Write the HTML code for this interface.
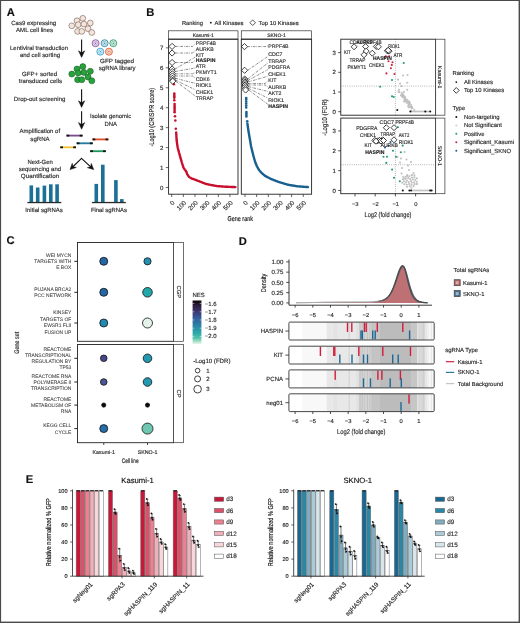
<!DOCTYPE html>
<html><head><meta charset="utf-8"><style>
html,body{margin:0;padding:0;background:#fff;}
svg{display:block;font-family:"Liberation Sans", sans-serif;text-rendering:geometricPrecision;will-change:transform;}
</style></head><body>
<svg width="520" height="623" viewBox="0 0 520 623">
<rect x="0.00" y="0.00" width="520.00" height="623.00" fill="#fff" stroke="none" stroke-width="0.6"/>
<text x="6.80" y="15.95" font-size="11.2" font-weight="bold" fill="#111" stroke="#111" stroke-width="0.15">A</text>
<text x="33.70" y="24.66" font-size="6" text-anchor="middle" textLength="45" lengthAdjust="spacingAndGlyphs" fill="#2a2a2a" stroke="#2a2a2a" stroke-width="0.15">Cas9 expressing</text>
<text x="34.60" y="32.06" font-size="6" text-anchor="middle" textLength="37" lengthAdjust="spacingAndGlyphs" fill="#2a2a2a" stroke="#2a2a2a" stroke-width="0.15">AML cell lines</text>
<text x="39.00" y="49.66" font-size="6" text-anchor="middle" textLength="58" lengthAdjust="spacingAndGlyphs" fill="#2a2a2a" stroke="#2a2a2a" stroke-width="0.15">Lentiviral transduction</text>
<text x="40.00" y="57.06" font-size="6" text-anchor="middle" textLength="40" lengthAdjust="spacingAndGlyphs" fill="#2a2a2a" stroke="#2a2a2a" stroke-width="0.15">and cell sorting</text>
<text x="117.00" y="62.76" font-size="6" text-anchor="middle" textLength="34" lengthAdjust="spacingAndGlyphs" fill="#2a2a2a" stroke="#2a2a2a" stroke-width="0.15">GFP tagged</text>
<text x="117.20" y="70.06" font-size="6" text-anchor="middle" textLength="36.7" lengthAdjust="spacingAndGlyphs" fill="#2a2a2a" stroke="#2a2a2a" stroke-width="0.15">sgRNA library</text>
<text x="39.60" y="75.86" font-size="6" text-anchor="middle" textLength="35" lengthAdjust="spacingAndGlyphs" fill="#2a2a2a" stroke="#2a2a2a" stroke-width="0.15">GFP+ sorted</text>
<text x="40.40" y="83.06" font-size="6" text-anchor="middle" textLength="43.2" lengthAdjust="spacingAndGlyphs" fill="#2a2a2a" stroke="#2a2a2a" stroke-width="0.15">transduced cells</text>
<text x="39.60" y="101.06" font-size="6" text-anchor="middle" textLength="51.7" lengthAdjust="spacingAndGlyphs" fill="#2a2a2a" stroke="#2a2a2a" stroke-width="0.15">Drop-out screening</text>
<text x="110.60" y="118.26" font-size="6" text-anchor="middle" textLength="41.2" lengthAdjust="spacingAndGlyphs" fill="#2a2a2a" stroke="#2a2a2a" stroke-width="0.15">Isolate genomic</text>
<text x="110.80" y="125.76" font-size="6" text-anchor="middle" textLength="12.5" lengthAdjust="spacingAndGlyphs" fill="#2a2a2a" stroke="#2a2a2a" stroke-width="0.15">DNA</text>
<text x="39.80" y="133.26" font-size="6" text-anchor="middle" textLength="40.5" lengthAdjust="spacingAndGlyphs" fill="#2a2a2a" stroke="#2a2a2a" stroke-width="0.15">Amplification of</text>
<text x="40.00" y="140.66" font-size="6" text-anchor="middle" textLength="19.3" lengthAdjust="spacingAndGlyphs" fill="#2a2a2a" stroke="#2a2a2a" stroke-width="0.15">sgRNA</text>
<text x="40.10" y="163.56" font-size="6" text-anchor="middle" textLength="25.4" lengthAdjust="spacingAndGlyphs" fill="#2a2a2a" stroke="#2a2a2a" stroke-width="0.15">Next-Gen</text>
<text x="39.90" y="170.66" font-size="6" text-anchor="middle" textLength="42.4" lengthAdjust="spacingAndGlyphs" fill="#2a2a2a" stroke="#2a2a2a" stroke-width="0.15">sequencing and</text>
<text x="40.00" y="177.86" font-size="6" text-anchor="middle" textLength="38.3" lengthAdjust="spacingAndGlyphs" fill="#2a2a2a" stroke="#2a2a2a" stroke-width="0.15">Quantification</text>
<text x="44.10" y="211.86" font-size="6" text-anchor="middle" textLength="37.5" lengthAdjust="spacingAndGlyphs" fill="#2a2a2a" stroke="#2a2a2a" stroke-width="0.15">Initial sgRNAs</text>
<text x="108.90" y="211.86" font-size="6" text-anchor="middle" textLength="36" lengthAdjust="spacingAndGlyphs" fill="#2a2a2a" stroke="#2a2a2a" stroke-width="0.15">Final sgRNAs</text>
<circle cx="82.80" cy="18.30" r="2.90" fill="#f4e4dc" stroke="#6b5346" stroke-width="0.55"/>
<circle cx="77.00" cy="20.70" r="2.90" fill="#f4e4dc" stroke="#6b5346" stroke-width="0.55"/>
<circle cx="71.80" cy="25.80" r="2.90" fill="#f4e4dc" stroke="#6b5346" stroke-width="0.55"/>
<circle cx="78.20" cy="24.70" r="2.90" fill="#f4e4dc" stroke="#6b5346" stroke-width="0.55"/>
<circle cx="83.90" cy="24.10" r="2.90" fill="#f4e4dc" stroke="#6b5346" stroke-width="0.55"/>
<circle cx="90.30" cy="23.00" r="2.90" fill="#f4e4dc" stroke="#6b5346" stroke-width="0.55"/>
<circle cx="88.00" cy="28.70" r="2.90" fill="#f4e4dc" stroke="#6b5346" stroke-width="0.55"/>
<circle cx="77.60" cy="31.40" r="2.90" fill="#f4e4dc" stroke="#6b5346" stroke-width="0.55"/>
<circle cx="81.80" cy="31.40" r="2.90" fill="#f4e4dc" stroke="#6b5346" stroke-width="0.55"/>
<circle cx="91.80" cy="32.50" r="2.90" fill="#f4e4dc" stroke="#6b5346" stroke-width="0.55"/>
<circle cx="82.80" cy="66.60" r="3.00" fill="#27a33c" stroke="#17561f" stroke-width="0.55"/>
<circle cx="77.00" cy="69.00" r="3.00" fill="#27a33c" stroke="#17561f" stroke-width="0.55"/>
<circle cx="71.80" cy="74.10" r="3.00" fill="#27a33c" stroke="#17561f" stroke-width="0.55"/>
<circle cx="78.20" cy="73.00" r="3.00" fill="#27a33c" stroke="#17561f" stroke-width="0.55"/>
<circle cx="83.90" cy="72.40" r="3.00" fill="#27a33c" stroke="#17561f" stroke-width="0.55"/>
<circle cx="90.30" cy="71.30" r="3.00" fill="#27a33c" stroke="#17561f" stroke-width="0.55"/>
<circle cx="88.00" cy="77.00" r="3.00" fill="#27a33c" stroke="#17561f" stroke-width="0.55"/>
<circle cx="77.60" cy="79.70" r="3.00" fill="#27a33c" stroke="#17561f" stroke-width="0.55"/>
<circle cx="81.80" cy="79.70" r="3.00" fill="#27a33c" stroke="#17561f" stroke-width="0.55"/>
<circle cx="91.80" cy="80.80" r="3.00" fill="#27a33c" stroke="#17561f" stroke-width="0.55"/>
<circle cx="95.60" cy="43.20" r="3.50" fill="#e6dcec" stroke="#8a4fa3" stroke-width="0.85"/>
<circle cx="95.60" cy="43.20" r="1.75" fill="#fff" stroke="#8a4fa3" stroke-width="0.45"/>
<circle cx="95.60" cy="43.20" r="0.80" fill="#8a4fa3" stroke="none" stroke-width="0.5"/>
<circle cx="104.60" cy="43.20" r="3.50" fill="#d8e8ef" stroke="#2d86a8" stroke-width="0.85"/>
<circle cx="104.60" cy="43.20" r="1.75" fill="#fff" stroke="#2d86a8" stroke-width="0.45"/>
<circle cx="104.60" cy="43.20" r="0.80" fill="#2d86a8" stroke="none" stroke-width="0.5"/>
<circle cx="113.30" cy="43.20" r="3.50" fill="#d8ece2" stroke="#2c9c6c" stroke-width="0.85"/>
<circle cx="113.30" cy="43.20" r="1.75" fill="#fff" stroke="#2c9c6c" stroke-width="0.45"/>
<circle cx="113.30" cy="43.20" r="0.80" fill="#2c9c6c" stroke="none" stroke-width="0.5"/>
<circle cx="100.30" cy="51.70" r="3.50" fill="#d8ecf6" stroke="#2f9fcf" stroke-width="0.85"/>
<circle cx="100.30" cy="51.70" r="1.75" fill="#fff" stroke="#2f9fcf" stroke-width="0.45"/>
<circle cx="100.30" cy="51.70" r="0.80" fill="#2f9fcf" stroke="none" stroke-width="0.5"/>
<circle cx="108.90" cy="51.70" r="3.50" fill="#f6dcd2" stroke="#e0542a" stroke-width="0.85"/>
<circle cx="108.90" cy="51.70" r="1.75" fill="#fff" stroke="#e0542a" stroke-width="0.45"/>
<circle cx="108.90" cy="51.70" r="0.80" fill="#e0542a" stroke="none" stroke-width="0.5"/>
<line x1="81.60" y1="39.50" x2="81.60" y2="54.40" stroke="#111" stroke-width="1.1"/>
<path d="M78.50,50.80 L81.60,57.40 L84.70,50.80 L81.60,52.80 Z" fill="#111" stroke="#111" stroke-width="0.5" stroke-linejoin="round"/>
<line x1="81.60" y1="89.20" x2="81.60" y2="104.40" stroke="#111" stroke-width="1.1"/>
<path d="M78.50,100.80 L81.60,107.40 L84.70,100.80 L81.60,102.80 Z" fill="#111" stroke="#111" stroke-width="0.5" stroke-linejoin="round"/>
<line x1="81.60" y1="111.30" x2="81.60" y2="126.20" stroke="#111" stroke-width="1.1"/>
<path d="M78.50,122.60 L81.60,129.20 L84.70,122.60 L81.60,124.60 Z" fill="#111" stroke="#111" stroke-width="0.5" stroke-linejoin="round"/>
<rect x="66.50" y="134.70" width="16.00" height="1.80" fill="#7b4b8c" stroke="none" stroke-width="0.6"/>
<rect x="66.50" y="134.70" width="2.80" height="1.80" fill="#111" stroke="none" stroke-width="0.6"/>
<rect x="79.70" y="134.70" width="2.80" height="1.80" fill="#111" stroke="none" stroke-width="0.6"/>
<rect x="92.50" y="138.50" width="15.80" height="1.80" fill="#e0502a" stroke="none" stroke-width="0.6"/>
<rect x="92.50" y="138.50" width="2.80" height="1.80" fill="#111" stroke="none" stroke-width="0.6"/>
<rect x="105.50" y="138.50" width="2.80" height="1.80" fill="#111" stroke="none" stroke-width="0.6"/>
<rect x="76.70" y="142.40" width="16.00" height="1.80" fill="#1f7a9c" stroke="none" stroke-width="0.6"/>
<rect x="76.70" y="142.40" width="2.80" height="1.80" fill="#111" stroke="none" stroke-width="0.6"/>
<rect x="89.90" y="142.40" width="2.80" height="1.80" fill="#111" stroke="none" stroke-width="0.6"/>
<rect x="60.20" y="146.40" width="15.80" height="1.80" fill="#f2c232" stroke="none" stroke-width="0.6"/>
<rect x="60.20" y="146.40" width="2.80" height="1.80" fill="#111" stroke="none" stroke-width="0.6"/>
<rect x="73.20" y="146.40" width="2.80" height="1.80" fill="#111" stroke="none" stroke-width="0.6"/>
<rect x="90.20" y="150.30" width="15.60" height="1.80" fill="#1a9a5c" stroke="none" stroke-width="0.6"/>
<rect x="90.20" y="150.30" width="2.80" height="1.80" fill="#111" stroke="none" stroke-width="0.6"/>
<rect x="103.00" y="150.30" width="2.80" height="1.80" fill="#111" stroke="none" stroke-width="0.6"/>
<line x1="81.50" y1="158.30" x2="72.14" y2="167.50" stroke="#111" stroke-width="1.1" stroke-linecap="round"/>
<path d="M72.25,163.33 L70.00,169.60 L76.31,167.46 L73.00,166.66 Z" fill="#111" stroke="#111" stroke-width="0.5" stroke-linejoin="round"/>
<line x1="81.50" y1="158.30" x2="91.50" y2="167.56" stroke="#111" stroke-width="1.1" stroke-linecap="round"/>
<path d="M87.33,167.65 L93.70,169.60 L91.27,163.40 L90.62,166.75 Z" fill="#111" stroke="#111" stroke-width="0.5" stroke-linejoin="round"/>
<rect x="29.50" y="185.40" width="3.60" height="17.10" fill="#1b7096" stroke="none" stroke-width="0.6"/>
<rect x="35.90" y="187.50" width="3.60" height="15.00" fill="#1b7096" stroke="none" stroke-width="0.6"/>
<rect x="42.60" y="185.60" width="3.60" height="16.90" fill="#1b7096" stroke="none" stroke-width="0.6"/>
<rect x="49.00" y="184.30" width="3.60" height="18.20" fill="#1b7096" stroke="none" stroke-width="0.6"/>
<rect x="55.30" y="184.30" width="3.60" height="18.20" fill="#1b7096" stroke="none" stroke-width="0.6"/>
<rect x="94.50" y="183.90" width="3.60" height="18.60" fill="#1b7096" stroke="none" stroke-width="0.6"/>
<rect x="101.00" y="164.70" width="3.60" height="37.80" fill="#1b7096" stroke="none" stroke-width="0.6"/>
<rect x="114.10" y="180.10" width="3.60" height="22.40" fill="#1b7096" stroke="none" stroke-width="0.6"/>
<rect x="120.00" y="199.10" width="3.60" height="3.40" fill="#1b7096" stroke="none" stroke-width="0.6"/>
<rect x="27.40" y="201.90" width="33.90" height="1.30" fill="#2a2a2a" stroke="none" stroke-width="0.6"/>
<rect x="91.90" y="201.90" width="33.90" height="1.30" fill="#2a2a2a" stroke="none" stroke-width="0.6"/>
<text x="146.30" y="16.05" font-size="11.2" font-weight="bold" fill="#111" stroke="#111" stroke-width="0.15">B</text>
<text x="181.90" y="24.70" font-size="5.8" textLength="21.1" lengthAdjust="spacingAndGlyphs" fill="#2a2a2a" stroke="#2a2a2a" stroke-width="0.15">Ranking</text>
<circle cx="210.80" cy="22.70" r="0.90" fill="#111" stroke="none" stroke-width="0.5"/>
<text x="214.60" y="24.70" font-size="5.8" textLength="28.9" lengthAdjust="spacingAndGlyphs" fill="#2a2a2a" stroke="#2a2a2a" stroke-width="0.15">All Kinases</text>
<path d="M249.90,22.70 L252.70,19.90 L255.50,22.70 L252.70,25.50 Z" fill="#fff" stroke="#111" stroke-width="0.7"/>
<text x="258.50" y="24.70" font-size="5.8" textLength="40.3" lengthAdjust="spacingAndGlyphs" fill="#2a2a2a" stroke="#2a2a2a" stroke-width="0.15">Top 10 Kinases</text>
<rect x="168.60" y="30.80" width="69.40" height="8.20" fill="#fff" stroke="#333" stroke-width="0.7"/>
<text x="203.30" y="36.72" font-size="5.0" text-anchor="middle" fill="#2a2a2a" stroke="#2a2a2a" stroke-width="0.15">Kasumi-1</text>
<path d="M175.10,46.40 L192.60,46.40 L195.20,43.60" fill="none" stroke="#2a2a2a" stroke-width="0.55" stroke-dasharray="2.6,1.0,0.7,1.0"/>
<path d="M175.10,53.00 L192.60,53.00 L195.20,50.00" fill="none" stroke="#2a2a2a" stroke-width="0.55" stroke-dasharray="2.6,1.0,0.7,1.0"/>
<line x1="175.10" y1="69.00" x2="195.20" y2="57.10" stroke="#2a2a2a" stroke-width="0.55" stroke-dasharray="2.6,1.0,0.7,1.0"/>
<path d="M175.10,62.50 L192.60,62.50 L195.20,60.40" fill="none" stroke="#2a2a2a" stroke-width="0.55" stroke-dasharray="2.6,1.0,0.7,1.0"/>
<line x1="175.20" y1="71.50" x2="195.20" y2="68.00" stroke="#2a2a2a" stroke-width="0.55" stroke-dasharray="2.6,1.0,0.7,1.0"/>
<path d="M175.30,73.80 L192.60,73.80 L195.20,72.60" fill="none" stroke="#2a2a2a" stroke-width="0.55" stroke-dasharray="2.6,1.0,0.7,1.0"/>
<path d="M175.40,76.00 L192.60,76.00 L195.20,78.20" fill="none" stroke="#2a2a2a" stroke-width="0.55" stroke-dasharray="2.6,1.0,0.7,1.0"/>
<line x1="175.50" y1="78.30" x2="195.20" y2="83.40" stroke="#2a2a2a" stroke-width="0.55" stroke-dasharray="2.6,1.0,0.7,1.0"/>
<line x1="175.60" y1="80.20" x2="195.20" y2="89.80" stroke="#2a2a2a" stroke-width="0.55" stroke-dasharray="2.6,1.0,0.7,1.0"/>
<line x1="175.70" y1="81.20" x2="195.20" y2="96.00" stroke="#2a2a2a" stroke-width="0.55" stroke-dasharray="2.6,1.0,0.7,1.0"/>
<circle cx="173.90" cy="84.30" r="1.30" fill="#c8102e" stroke="none" stroke-width="0.5"/>
<circle cx="174.30" cy="93.50" r="1.30" fill="#c8102e" stroke="none" stroke-width="0.5"/>
<circle cx="174.30" cy="95.00" r="1.30" fill="#c8102e" stroke="none" stroke-width="0.5"/>
<circle cx="174.30" cy="96.50" r="1.30" fill="#c8102e" stroke="none" stroke-width="0.5"/>
<circle cx="174.30" cy="97.80" r="1.30" fill="#c8102e" stroke="none" stroke-width="0.5"/>
<circle cx="174.30" cy="100.20" r="1.30" fill="#c8102e" stroke="none" stroke-width="0.5"/>
<circle cx="174.60" cy="104.00" r="1.30" fill="#c8102e" stroke="none" stroke-width="0.5"/>
<circle cx="174.60" cy="105.70" r="1.30" fill="#c8102e" stroke="none" stroke-width="0.5"/>
<circle cx="174.60" cy="107.40" r="1.30" fill="#c8102e" stroke="none" stroke-width="0.5"/>
<circle cx="174.60" cy="109.10" r="1.30" fill="#c8102e" stroke="none" stroke-width="0.5"/>
<circle cx="174.60" cy="110.80" r="1.30" fill="#c8102e" stroke="none" stroke-width="0.5"/>
<circle cx="174.60" cy="112.30" r="1.30" fill="#c8102e" stroke="none" stroke-width="0.5"/>
<circle cx="175.00" cy="116.30" r="1.30" fill="#c8102e" stroke="none" stroke-width="0.5"/>
<circle cx="175.30" cy="120.50" r="1.30" fill="#c8102e" stroke="none" stroke-width="0.5"/>
<circle cx="175.80" cy="128.80" r="1.30" fill="#c8102e" stroke="none" stroke-width="0.5"/>
<path d="M176.20,132.50 L176.23,133.00 L176.25,133.50 L176.28,134.00 L176.31,134.50 L176.33,135.00 L176.36,135.50 L176.39,136.00 L176.41,136.50 L176.44,137.00 L176.47,137.50 L176.49,138.00 L176.52,138.50 L176.55,139.00 L176.57,139.50 L176.60,140.00 L176.67,140.51 L176.74,141.03 L176.81,141.54 L176.89,142.06 L176.96,142.57 L177.03,143.09 L177.10,143.60 L177.17,144.11 L177.24,144.63 L177.31,145.14 L177.39,145.66 L177.46,146.17 L177.53,146.69 L177.60,147.20 L177.74,147.73 L177.88,148.26 L178.02,148.79 L178.16,149.32 L178.30,149.85 L178.44,150.38 L178.58,150.91 L178.72,151.44 L178.86,151.97 L179.00,152.50 L179.14,152.98 L179.27,153.46 L179.41,153.95 L179.55,154.43 L179.68,154.91 L179.82,155.39 L179.95,155.87 L180.09,156.35 L180.23,156.84 L180.36,157.32 L180.50,157.80 L180.65,158.32 L180.80,158.84 L180.95,159.36 L181.10,159.88 L181.25,160.40 L181.40,160.92 L181.55,161.44 L181.70,161.96 L181.85,162.48 L182.00,163.00 L182.16,163.49 L182.31,163.98 L182.47,164.47 L182.62,164.96 L182.78,165.44 L182.93,165.93 L183.09,166.42 L183.24,166.91 L183.40,167.40 L183.67,167.83 L183.93,168.27 L184.20,168.70 L184.47,169.13 L184.73,169.57 L185.00,170.00 L185.40,170.43 L185.80,170.87 L186.20,171.30 L186.37,171.78 L186.53,172.27 L186.70,172.75 L186.87,173.23 L187.03,173.72 L187.20,174.20 L187.52,174.67 L187.83,175.13 L188.15,175.60 L188.47,176.07 L188.78,176.53 L189.10,177.00 L189.58,177.27 L190.07,177.53 L190.55,177.80 L191.03,178.07 L191.52,178.33 L192.00,178.60 L192.49,178.78 L192.97,178.95 L193.46,179.12 L193.95,179.30 L194.44,179.47 L194.93,179.65 L195.41,179.82 L195.90,180.00 L196.41,180.20 L196.93,180.40 L197.44,180.60 L197.95,180.80 L198.46,181.00 L198.97,181.20 L199.49,181.40 L200.00,181.60 L200.50,181.80 L201.00,182.00 L201.50,182.20 L202.00,182.40 L202.50,182.60 L203.00,182.80 L203.50,183.00 L204.00,183.20 L204.50,183.40 L205.00,183.60 L205.50,183.80 L206.00,183.91 L206.50,184.02 L207.00,184.13 L207.50,184.24 L208.00,184.35 L208.50,184.45 L209.00,184.56 L209.50,184.67 L210.00,184.78 L210.50,184.89 L211.00,185.00 L211.50,185.09 L212.00,185.18 L212.50,185.28 L213.00,185.37 L213.50,185.46 L214.00,185.55 L214.50,185.64 L215.00,185.73 L215.50,185.82 L216.00,185.92 L216.50,186.01 L217.00,186.10 L217.50,186.14 L218.00,186.17 L218.50,186.21 L219.00,186.25 L219.50,186.29 L220.00,186.32 L220.50,186.36 L221.00,186.40 L221.50,186.44 L222.00,186.47 L222.50,186.51 L223.00,186.55 L223.50,186.59 L224.00,186.62 L224.50,186.66 L225.00,186.70 L225.52,186.72 L226.04,186.74 L226.56,186.76 L227.08,186.78 L227.60,186.80 L228.12,186.82 L228.64,186.84 L229.16,186.86 L229.68,186.88 L230.20,186.90 L230.72,186.92 L231.24,186.94 L231.76,186.96 L232.28,186.98 L232.80,187.00 L233.32,187.02 L233.84,187.04 L234.36,187.06 L234.88,187.08 L235.40,187.10" fill="none" stroke="#c8102e" stroke-width="2.4" stroke-linecap="round" stroke-linejoin="round"/>
<path d="M169.00,46.40 L172.10,43.30 L175.20,46.40 L172.10,49.50 Z" fill="#fff" stroke="#111" stroke-width="0.8"/>
<path d="M169.00,53.00 L172.10,49.90 L175.20,53.00 L172.10,56.10 Z" fill="#fff" stroke="#111" stroke-width="0.8"/>
<path d="M169.00,62.50 L172.10,59.40 L175.20,62.50 L172.10,65.60 Z" fill="#fff" stroke="#111" stroke-width="0.8"/>
<path d="M169.00,69.00 L172.10,65.90 L175.20,69.00 L172.10,72.10 Z" fill="#fff" stroke="#111" stroke-width="0.8"/>
<path d="M169.10,71.50 L172.20,68.40 L175.30,71.50 L172.20,74.60 Z" fill="#fff" stroke="#111" stroke-width="0.8"/>
<path d="M169.20,73.80 L172.30,70.70 L175.40,73.80 L172.30,76.90 Z" fill="#fff" stroke="#111" stroke-width="0.8"/>
<path d="M169.30,76.00 L172.40,72.90 L175.50,76.00 L172.40,79.10 Z" fill="#fff" stroke="#111" stroke-width="0.8"/>
<path d="M169.40,78.30 L172.50,75.20 L175.60,78.30 L172.50,81.40 Z" fill="#fff" stroke="#111" stroke-width="0.8"/>
<path d="M169.50,80.20 L172.60,77.10 L175.70,80.20 L172.60,83.30 Z" fill="#fff" stroke="#111" stroke-width="0.8"/>
<path d="M169.60,81.20 L172.70,78.10 L175.80,81.20 L172.70,84.30 Z" fill="#fff" stroke="#111" stroke-width="0.8"/>
<text x="195.80" y="44.79" font-size="5.2" fill="#333" stroke="#333" stroke-width="0.15">PRPF4B</text>
<text x="195.80" y="51.19" font-size="5.2" fill="#333" stroke="#333" stroke-width="0.15">AURKB</text>
<text x="195.80" y="56.89" font-size="5.2" fill="#333" stroke="#333" stroke-width="0.15">KIT</text>
<text x="195.80" y="61.59" font-size="5.2" font-weight="bold" fill="#222" stroke="#222" stroke-width="0.15">HASPIN</text>
<text x="195.80" y="67.79" font-size="5.2" fill="#333" stroke="#333" stroke-width="0.15">ATR</text>
<text x="195.80" y="73.79" font-size="5.2" fill="#333" stroke="#333" stroke-width="0.15">PKMYT1</text>
<text x="195.80" y="80.59" font-size="5.2" fill="#333" stroke="#333" stroke-width="0.15">CDK6</text>
<text x="195.80" y="87.19" font-size="5.2" fill="#333" stroke="#333" stroke-width="0.15">RIOK1</text>
<text x="195.80" y="93.59" font-size="5.2" fill="#333" stroke="#333" stroke-width="0.15">CHEK1</text>
<text x="195.80" y="99.79" font-size="5.2" fill="#333" stroke="#333" stroke-width="0.15">TRRAP</text>
<rect x="168.60" y="39.30" width="69.40" height="154.90" fill="none" stroke="#222" stroke-width="0.9"/>
<line x1="171.70" y1="194.20" x2="171.70" y2="197.00" stroke="#222" stroke-width="0.7"/>
<text x="0" y="2.17" font-size="6.3" text-anchor="end" fill="#2a2a2a" stroke="#2a2a2a" stroke-width="0.15" transform="translate(173.40,201.80) rotate(-45)">0</text>
<line x1="183.35" y1="194.20" x2="183.35" y2="197.00" stroke="#222" stroke-width="0.7"/>
<text x="0" y="2.17" font-size="6.3" text-anchor="end" fill="#2a2a2a" stroke="#2a2a2a" stroke-width="0.15" transform="translate(185.05,201.80) rotate(-45)">100</text>
<line x1="195.00" y1="194.20" x2="195.00" y2="197.00" stroke="#222" stroke-width="0.7"/>
<text x="0" y="2.17" font-size="6.3" text-anchor="end" fill="#2a2a2a" stroke="#2a2a2a" stroke-width="0.15" transform="translate(196.70,201.80) rotate(-45)">200</text>
<line x1="206.65" y1="194.20" x2="206.65" y2="197.00" stroke="#222" stroke-width="0.7"/>
<text x="0" y="2.17" font-size="6.3" text-anchor="end" fill="#2a2a2a" stroke="#2a2a2a" stroke-width="0.15" transform="translate(208.35,201.80) rotate(-45)">300</text>
<line x1="218.30" y1="194.20" x2="218.30" y2="197.00" stroke="#222" stroke-width="0.7"/>
<text x="0" y="2.17" font-size="6.3" text-anchor="end" fill="#2a2a2a" stroke="#2a2a2a" stroke-width="0.15" transform="translate(220.00,201.80) rotate(-45)">400</text>
<line x1="229.95" y1="194.20" x2="229.95" y2="197.00" stroke="#222" stroke-width="0.7"/>
<text x="0" y="2.17" font-size="6.3" text-anchor="end" fill="#2a2a2a" stroke="#2a2a2a" stroke-width="0.15" transform="translate(231.65,201.80) rotate(-45)">500</text>
<rect x="241.30" y="30.80" width="70.30" height="8.20" fill="#fff" stroke="#333" stroke-width="0.7"/>
<text x="276.45" y="36.72" font-size="5.0" text-anchor="middle" fill="#2a2a2a" stroke="#2a2a2a" stroke-width="0.15">SKNO-1</text>
<path d="M247.50,46.60 L265.10,46.60 L267.70,46.00" fill="none" stroke="#2a2a2a" stroke-width="0.55" stroke-dasharray="2.6,1.0,0.7,1.0"/>
<line x1="247.60" y1="70.30" x2="267.70" y2="56.60" stroke="#2a2a2a" stroke-width="0.55" stroke-dasharray="2.6,1.0,0.7,1.0"/>
<line x1="247.70" y1="79.00" x2="267.70" y2="63.10" stroke="#2a2a2a" stroke-width="0.55" stroke-dasharray="2.6,1.0,0.7,1.0"/>
<line x1="247.80" y1="80.50" x2="267.70" y2="69.70" stroke="#2a2a2a" stroke-width="0.55" stroke-dasharray="2.6,1.0,0.7,1.0"/>
<line x1="247.90" y1="82.00" x2="267.70" y2="76.30" stroke="#2a2a2a" stroke-width="0.55" stroke-dasharray="2.6,1.0,0.7,1.0"/>
<path d="M248.00,83.50 L265.10,83.50 L267.70,81.10" fill="none" stroke="#2a2a2a" stroke-width="0.55" stroke-dasharray="2.6,1.0,0.7,1.0"/>
<path d="M248.10,85.00 L265.10,85.00 L267.70,86.60" fill="none" stroke="#2a2a2a" stroke-width="0.55" stroke-dasharray="2.6,1.0,0.7,1.0"/>
<line x1="248.30" y1="86.60" x2="267.70" y2="91.40" stroke="#2a2a2a" stroke-width="0.55" stroke-dasharray="2.6,1.0,0.7,1.0"/>
<line x1="248.50" y1="88.40" x2="267.70" y2="98.00" stroke="#2a2a2a" stroke-width="0.55" stroke-dasharray="2.6,1.0,0.7,1.0"/>
<line x1="248.60" y1="90.00" x2="267.70" y2="104.20" stroke="#2a2a2a" stroke-width="0.55" stroke-dasharray="2.6,1.0,0.7,1.0"/>
<circle cx="246.20" cy="98.00" r="1.30" fill="#17608f" stroke="none" stroke-width="0.5"/>
<circle cx="246.20" cy="99.50" r="1.30" fill="#17608f" stroke="none" stroke-width="0.5"/>
<circle cx="246.20" cy="101.50" r="1.30" fill="#17608f" stroke="none" stroke-width="0.5"/>
<circle cx="246.20" cy="103.50" r="1.30" fill="#17608f" stroke="none" stroke-width="0.5"/>
<circle cx="246.20" cy="105.50" r="1.30" fill="#17608f" stroke="none" stroke-width="0.5"/>
<circle cx="246.20" cy="107.50" r="1.30" fill="#17608f" stroke="none" stroke-width="0.5"/>
<circle cx="246.40" cy="112.00" r="1.30" fill="#17608f" stroke="none" stroke-width="0.5"/>
<circle cx="246.40" cy="113.50" r="1.30" fill="#17608f" stroke="none" stroke-width="0.5"/>
<circle cx="246.40" cy="115.00" r="1.30" fill="#17608f" stroke="none" stroke-width="0.5"/>
<circle cx="246.40" cy="116.50" r="1.30" fill="#17608f" stroke="none" stroke-width="0.5"/>
<circle cx="247.20" cy="121.30" r="1.30" fill="#17608f" stroke="none" stroke-width="0.5"/>
<path d="M247.40,123.50 L247.47,124.00 L247.54,124.50 L247.61,125.00 L247.68,125.50 L247.75,126.00 L247.82,126.50 L247.88,127.00 L247.95,127.50 L248.02,128.00 L248.09,128.50 L248.16,129.00 L248.23,129.50 L248.30,130.00 L248.38,130.50 L248.47,131.00 L248.55,131.50 L248.63,132.00 L248.72,132.50 L248.80,133.00 L248.88,133.50 L248.97,134.00 L249.05,134.50 L249.13,135.00 L249.22,135.50 L249.30,136.00 L249.39,136.50 L249.48,137.00 L249.57,137.50 L249.66,138.00 L249.75,138.50 L249.84,139.00 L249.93,139.50 L250.02,140.00 L250.11,140.50 L250.20,141.00 L250.28,141.50 L250.36,142.00 L250.44,142.50 L250.52,143.00 L250.60,143.50 L250.68,144.00 L250.76,144.50 L250.84,145.00 L250.92,145.50 L251.00,146.00 L251.12,146.50 L251.24,147.00 L251.36,147.50 L251.48,148.00 L251.60,148.50 L251.72,149.00 L251.84,149.50 L251.96,150.00 L252.08,150.50 L252.20,151.00 L252.33,151.50 L252.45,152.00 L252.58,152.50 L252.71,153.00 L252.84,153.50 L252.96,154.00 L253.09,154.50 L253.22,155.00 L253.35,155.50 L253.47,156.00 L253.60,156.50 L253.74,157.00 L253.88,157.50 L254.02,158.00 L254.16,158.50 L254.30,159.00 L254.44,159.50 L254.58,160.00 L254.72,160.50 L254.86,161.00 L255.00,161.50 L255.20,162.00 L255.40,162.50 L255.60,163.00 L255.80,163.50 L256.00,164.00 L256.20,164.50 L256.40,165.00 L256.60,165.50 L256.80,166.00 L257.06,166.47 L257.32,166.95 L257.59,167.43 L257.85,167.90 L258.11,168.38 L258.38,168.85 L258.64,169.33 L258.90,169.80 L259.27,170.23 L259.64,170.66 L260.01,171.09 L260.39,171.51 L260.76,171.94 L261.13,172.37 L261.50,172.80 L261.90,173.15 L262.30,173.50 L262.70,173.85 L263.10,174.20 L263.50,174.55 L263.90,174.90 L264.30,175.25 L264.70,175.60 L265.15,175.85 L265.59,176.09 L266.04,176.34 L266.48,176.58 L266.93,176.83 L267.38,177.08 L267.82,177.32 L268.27,177.57 L268.72,177.82 L269.16,178.06 L269.61,178.31 L270.05,178.55 L270.50,178.80 L270.98,178.99 L271.46,179.18 L271.94,179.36 L272.43,179.55 L272.91,179.74 L273.39,179.93 L273.87,180.11 L274.35,180.30 L274.83,180.49 L275.31,180.68 L275.79,180.86 L276.27,181.05 L276.76,181.24 L277.24,181.43 L277.72,181.61 L278.20,181.80 L278.68,181.95 L279.16,182.09 L279.64,182.24 L280.12,182.38 L280.60,182.53 L281.08,182.67 L281.56,182.81 L282.04,182.96 L282.52,183.10 L283.00,183.25 L283.48,183.40 L283.96,183.54 L284.44,183.69 L284.92,183.83 L285.40,183.97 L285.88,184.12 L286.36,184.26 L286.84,184.41 L287.32,184.55 L287.80,184.70 L288.31,184.78 L288.81,184.87 L289.32,184.95 L289.82,185.04 L290.33,185.12 L290.83,185.21 L291.34,185.29 L291.84,185.37 L292.35,185.46 L292.85,185.54 L293.36,185.63 L293.86,185.71 L294.37,185.79 L294.87,185.88 L295.38,185.96 L295.88,186.05 L296.39,186.13 L296.89,186.22 L297.40,186.30 L297.90,186.34 L298.41,186.38 L298.91,186.41 L299.42,186.45 L299.92,186.49 L300.43,186.53 L300.93,186.57 L301.44,186.60 L301.94,186.64 L302.45,186.68 L302.95,186.72 L303.46,186.76 L303.96,186.80 L304.47,186.83 L304.97,186.87 L305.48,186.91 L305.98,186.95 L306.49,186.99 L306.99,187.02 L307.50,187.06 L308.00,187.10" fill="none" stroke="#17608f" stroke-width="2.4" stroke-linecap="round" stroke-linejoin="round"/>
<path d="M241.40,46.60 L244.50,43.50 L247.60,46.60 L244.50,49.70 Z" fill="#fff" stroke="#111" stroke-width="0.8"/>
<path d="M241.50,70.30 L244.60,67.20 L247.70,70.30 L244.60,73.40 Z" fill="#fff" stroke="#111" stroke-width="0.8"/>
<path d="M241.60,79.00 L244.70,75.90 L247.80,79.00 L244.70,82.10 Z" fill="#fff" stroke="#111" stroke-width="0.8"/>
<path d="M241.70,80.50 L244.80,77.40 L247.90,80.50 L244.80,83.60 Z" fill="#fff" stroke="#111" stroke-width="0.8"/>
<path d="M241.80,82.00 L244.90,78.90 L248.00,82.00 L244.90,85.10 Z" fill="#fff" stroke="#111" stroke-width="0.8"/>
<path d="M241.90,83.50 L245.00,80.40 L248.10,83.50 L245.00,86.60 Z" fill="#fff" stroke="#111" stroke-width="0.8"/>
<path d="M242.00,85.00 L245.10,81.90 L248.20,85.00 L245.10,88.10 Z" fill="#fff" stroke="#111" stroke-width="0.8"/>
<path d="M242.20,86.60 L245.30,83.50 L248.40,86.60 L245.30,89.70 Z" fill="#fff" stroke="#111" stroke-width="0.8"/>
<path d="M242.40,88.40 L245.50,85.30 L248.60,88.40 L245.50,91.50 Z" fill="#fff" stroke="#111" stroke-width="0.8"/>
<path d="M242.50,90.00 L245.60,86.90 L248.70,90.00 L245.60,93.10 Z" fill="#fff" stroke="#111" stroke-width="0.8"/>
<text x="268.30" y="48.39" font-size="5.2" fill="#333" stroke="#333" stroke-width="0.15">PRPF4B</text>
<text x="268.30" y="56.39" font-size="5.2" fill="#333" stroke="#333" stroke-width="0.15">CDC7</text>
<text x="268.30" y="62.89" font-size="5.2" fill="#333" stroke="#333" stroke-width="0.15">TRRAP</text>
<text x="268.30" y="69.49" font-size="5.2" fill="#333" stroke="#333" stroke-width="0.15">PDGFRA</text>
<text x="268.30" y="76.09" font-size="5.2" fill="#333" stroke="#333" stroke-width="0.15">CHEK1</text>
<text x="268.30" y="82.29" font-size="5.2" fill="#333" stroke="#333" stroke-width="0.15">KIT</text>
<text x="268.30" y="88.99" font-size="5.2" fill="#333" stroke="#333" stroke-width="0.15">AURKB</text>
<text x="268.30" y="95.19" font-size="5.2" fill="#333" stroke="#333" stroke-width="0.15">AKT2</text>
<text x="268.30" y="101.79" font-size="5.2" fill="#333" stroke="#333" stroke-width="0.15">RIOK1</text>
<text x="268.30" y="107.99" font-size="5.2" font-weight="bold" fill="#222" stroke="#222" stroke-width="0.15">HASPIN</text>
<rect x="241.30" y="39.30" width="70.30" height="154.90" fill="none" stroke="#222" stroke-width="0.9"/>
<line x1="245.00" y1="194.20" x2="245.00" y2="197.00" stroke="#222" stroke-width="0.7"/>
<text x="0" y="2.17" font-size="6.3" text-anchor="end" fill="#2a2a2a" stroke="#2a2a2a" stroke-width="0.15" transform="translate(246.70,201.80) rotate(-45)">0</text>
<line x1="256.65" y1="194.20" x2="256.65" y2="197.00" stroke="#222" stroke-width="0.7"/>
<text x="0" y="2.17" font-size="6.3" text-anchor="end" fill="#2a2a2a" stroke="#2a2a2a" stroke-width="0.15" transform="translate(258.35,201.80) rotate(-45)">100</text>
<line x1="268.30" y1="194.20" x2="268.30" y2="197.00" stroke="#222" stroke-width="0.7"/>
<text x="0" y="2.17" font-size="6.3" text-anchor="end" fill="#2a2a2a" stroke="#2a2a2a" stroke-width="0.15" transform="translate(270.00,201.80) rotate(-45)">200</text>
<line x1="279.95" y1="194.20" x2="279.95" y2="197.00" stroke="#222" stroke-width="0.7"/>
<text x="0" y="2.17" font-size="6.3" text-anchor="end" fill="#2a2a2a" stroke="#2a2a2a" stroke-width="0.15" transform="translate(281.65,201.80) rotate(-45)">300</text>
<line x1="291.60" y1="194.20" x2="291.60" y2="197.00" stroke="#222" stroke-width="0.7"/>
<text x="0" y="2.17" font-size="6.3" text-anchor="end" fill="#2a2a2a" stroke="#2a2a2a" stroke-width="0.15" transform="translate(293.30,201.80) rotate(-45)">400</text>
<line x1="303.25" y1="194.20" x2="303.25" y2="197.00" stroke="#222" stroke-width="0.7"/>
<text x="0" y="2.17" font-size="6.3" text-anchor="end" fill="#2a2a2a" stroke="#2a2a2a" stroke-width="0.15" transform="translate(304.95,201.80) rotate(-45)">500</text>
<line x1="165.80" y1="187.50" x2="168.60" y2="187.50" stroke="#222" stroke-width="0.7"/>
<text x="163.30" y="189.60" font-size="6.1" text-anchor="end" fill="#2a2a2a" stroke="#2a2a2a" stroke-width="0.15">0</text>
<line x1="165.80" y1="167.55" x2="168.60" y2="167.55" stroke="#222" stroke-width="0.7"/>
<text x="163.30" y="169.65" font-size="6.1" text-anchor="end" fill="#2a2a2a" stroke="#2a2a2a" stroke-width="0.15">1</text>
<line x1="165.80" y1="147.60" x2="168.60" y2="147.60" stroke="#222" stroke-width="0.7"/>
<text x="163.30" y="149.70" font-size="6.1" text-anchor="end" fill="#2a2a2a" stroke="#2a2a2a" stroke-width="0.15">2</text>
<line x1="165.80" y1="127.65" x2="168.60" y2="127.65" stroke="#222" stroke-width="0.7"/>
<text x="163.30" y="129.75" font-size="6.1" text-anchor="end" fill="#2a2a2a" stroke="#2a2a2a" stroke-width="0.15">3</text>
<line x1="165.80" y1="107.70" x2="168.60" y2="107.70" stroke="#222" stroke-width="0.7"/>
<text x="163.30" y="109.80" font-size="6.1" text-anchor="end" fill="#2a2a2a" stroke="#2a2a2a" stroke-width="0.15">4</text>
<line x1="165.80" y1="87.75" x2="168.60" y2="87.75" stroke="#222" stroke-width="0.7"/>
<text x="163.30" y="89.85" font-size="6.1" text-anchor="end" fill="#2a2a2a" stroke="#2a2a2a" stroke-width="0.15">5</text>
<line x1="165.80" y1="67.80" x2="168.60" y2="67.80" stroke="#222" stroke-width="0.7"/>
<text x="163.30" y="69.90" font-size="6.1" text-anchor="end" fill="#2a2a2a" stroke="#2a2a2a" stroke-width="0.15">6</text>
<line x1="165.80" y1="47.85" x2="168.60" y2="47.85" stroke="#222" stroke-width="0.7"/>
<text x="163.30" y="49.95" font-size="6.1" text-anchor="end" fill="#2a2a2a" stroke="#2a2a2a" stroke-width="0.15">7</text>
<text x="0" y="2.41" font-size="7.0" text-anchor="middle" textLength="58.6" lengthAdjust="spacingAndGlyphs" fill="#111" stroke="#111" stroke-width="0.15" transform="translate(151.90,117.20) rotate(-90)">-Log10 (CRISPR score)</text>
<text x="240.20" y="221.41" font-size="7.0" text-anchor="middle" textLength="25.5" lengthAdjust="spacingAndGlyphs" fill="#111" stroke="#111" stroke-width="0.15">Gene rank</text>
<line x1="340.80" y1="86.09" x2="435.70" y2="86.09" stroke="#555" stroke-width="0.6" stroke-dasharray="0.7,1.5"/>
<line x1="395.40" y1="39.20" x2="395.40" y2="115.20" stroke="#555" stroke-width="0.6" stroke-dasharray="0.7,1.5"/>
<line x1="338.20" y1="111.70" x2="340.80" y2="111.70" stroke="#222" stroke-width="0.8"/>
<text x="335.80" y="113.76" font-size="6.0" text-anchor="end" fill="#2a2a2a" stroke="#2a2a2a" stroke-width="0.15">0</text>
<line x1="338.20" y1="92.00" x2="340.80" y2="92.00" stroke="#222" stroke-width="0.8"/>
<text x="335.80" y="94.06" font-size="6.0" text-anchor="end" fill="#2a2a2a" stroke="#2a2a2a" stroke-width="0.15">1</text>
<line x1="338.20" y1="72.30" x2="340.80" y2="72.30" stroke="#222" stroke-width="0.8"/>
<text x="335.80" y="74.36" font-size="6.0" text-anchor="end" fill="#2a2a2a" stroke="#2a2a2a" stroke-width="0.15">2</text>
<line x1="338.20" y1="52.60" x2="340.80" y2="52.60" stroke="#222" stroke-width="0.8"/>
<text x="335.80" y="54.66" font-size="6.0" text-anchor="end" fill="#2a2a2a" stroke="#2a2a2a" stroke-width="0.15">3</text>
<circle cx="403.00" cy="75.50" r="1.05" fill="#c0c0c0" stroke="none" stroke-width="0.5"/>
<circle cx="407.50" cy="75.00" r="1.05" fill="#c0c0c0" stroke="none" stroke-width="0.5"/>
<circle cx="398.00" cy="79.60" r="1.05" fill="#c0c0c0" stroke="none" stroke-width="0.5"/>
<circle cx="407.30" cy="82.80" r="1.05" fill="#c0c0c0" stroke="none" stroke-width="0.5"/>
<circle cx="400.00" cy="83.60" r="1.05" fill="#c0c0c0" stroke="none" stroke-width="0.5"/>
<circle cx="407.30" cy="89.70" r="1.05" fill="#c0c0c0" stroke="none" stroke-width="0.5"/>
<circle cx="399.00" cy="89.70" r="1.05" fill="#c0c0c0" stroke="none" stroke-width="0.5"/>
<circle cx="401.50" cy="86.00" r="1.05" fill="#c0c0c0" stroke="none" stroke-width="0.5"/>
<circle cx="404.00" cy="92.00" r="1.05" fill="#c0c0c0" stroke="none" stroke-width="0.5"/>
<circle cx="403.13" cy="95.92" r="1.05" fill="#c0c0c0" stroke="none" stroke-width="0.5"/>
<circle cx="403.43" cy="96.90" r="1.05" fill="#c0c0c0" stroke="none" stroke-width="0.5"/>
<circle cx="409.89" cy="102.69" r="1.05" fill="#c0c0c0" stroke="none" stroke-width="0.5"/>
<circle cx="401.66" cy="92.75" r="1.05" fill="#c0c0c0" stroke="none" stroke-width="0.5"/>
<circle cx="408.40" cy="106.01" r="1.05" fill="#c0c0c0" stroke="none" stroke-width="0.5"/>
<circle cx="408.71" cy="107.18" r="1.05" fill="#c0c0c0" stroke="none" stroke-width="0.5"/>
<circle cx="410.39" cy="106.92" r="1.05" fill="#c0c0c0" stroke="none" stroke-width="0.5"/>
<circle cx="408.98" cy="101.79" r="1.05" fill="#c0c0c0" stroke="none" stroke-width="0.5"/>
<circle cx="402.63" cy="94.61" r="1.05" fill="#c0c0c0" stroke="none" stroke-width="0.5"/>
<circle cx="402.76" cy="96.47" r="1.05" fill="#c0c0c0" stroke="none" stroke-width="0.5"/>
<circle cx="402.12" cy="95.63" r="1.05" fill="#c0c0c0" stroke="none" stroke-width="0.5"/>
<circle cx="405.41" cy="98.95" r="1.05" fill="#c0c0c0" stroke="none" stroke-width="0.5"/>
<circle cx="411.52" cy="108.12" r="1.05" fill="#c0c0c0" stroke="none" stroke-width="0.5"/>
<circle cx="404.38" cy="97.21" r="1.05" fill="#c0c0c0" stroke="none" stroke-width="0.5"/>
<circle cx="401.00" cy="95.52" r="1.05" fill="#c0c0c0" stroke="none" stroke-width="0.5"/>
<circle cx="411.26" cy="105.01" r="1.05" fill="#c0c0c0" stroke="none" stroke-width="0.5"/>
<circle cx="411.85" cy="106.69" r="1.05" fill="#c0c0c0" stroke="none" stroke-width="0.5"/>
<circle cx="409.39" cy="104.39" r="1.05" fill="#c0c0c0" stroke="none" stroke-width="0.5"/>
<circle cx="407.16" cy="99.83" r="1.05" fill="#c0c0c0" stroke="none" stroke-width="0.5"/>
<circle cx="404.41" cy="96.54" r="1.05" fill="#c0c0c0" stroke="none" stroke-width="0.5"/>
<circle cx="402.52" cy="96.39" r="1.05" fill="#c0c0c0" stroke="none" stroke-width="0.5"/>
<circle cx="408.63" cy="104.41" r="1.05" fill="#c0c0c0" stroke="none" stroke-width="0.5"/>
<circle cx="407.92" cy="101.73" r="1.05" fill="#c0c0c0" stroke="none" stroke-width="0.5"/>
<circle cx="405.27" cy="97.79" r="1.05" fill="#c0c0c0" stroke="none" stroke-width="0.5"/>
<circle cx="401.36" cy="95.12" r="1.05" fill="#c0c0c0" stroke="none" stroke-width="0.5"/>
<circle cx="407.60" cy="101.92" r="1.05" fill="#c0c0c0" stroke="none" stroke-width="0.5"/>
<circle cx="408.61" cy="102.57" r="1.05" fill="#c0c0c0" stroke="none" stroke-width="0.5"/>
<circle cx="408.65" cy="101.20" r="1.05" fill="#c0c0c0" stroke="none" stroke-width="0.5"/>
<circle cx="408.66" cy="102.04" r="1.05" fill="#c0c0c0" stroke="none" stroke-width="0.5"/>
<circle cx="405.32" cy="100.95" r="1.05" fill="#c0c0c0" stroke="none" stroke-width="0.5"/>
<circle cx="411.04" cy="110.81" r="1.05" fill="#c0c0c0" stroke="none" stroke-width="0.5"/>
<circle cx="412.54" cy="108.18" r="1.05" fill="#c0c0c0" stroke="none" stroke-width="0.5"/>
<circle cx="410.99" cy="107.30" r="1.05" fill="#c0c0c0" stroke="none" stroke-width="0.5"/>
<circle cx="404.07" cy="101.58" r="1.05" fill="#c0c0c0" stroke="none" stroke-width="0.5"/>
<circle cx="406.55" cy="102.78" r="1.05" fill="#c0c0c0" stroke="none" stroke-width="0.5"/>
<circle cx="406.00" cy="100.64" r="1.05" fill="#c0c0c0" stroke="none" stroke-width="0.5"/>
<circle cx="407.74" cy="102.62" r="1.05" fill="#c0c0c0" stroke="none" stroke-width="0.5"/>
<circle cx="404.39" cy="99.72" r="1.05" fill="#c0c0c0" stroke="none" stroke-width="0.5"/>
<circle cx="402.71" cy="97.06" r="1.05" fill="#c0c0c0" stroke="none" stroke-width="0.5"/>
<circle cx="411.91" cy="108.07" r="1.05" fill="#c0c0c0" stroke="none" stroke-width="0.5"/>
<circle cx="404.75" cy="97.75" r="1.05" fill="#c0c0c0" stroke="none" stroke-width="0.5"/>
<circle cx="399.29" cy="92.15" r="1.05" fill="#c0c0c0" stroke="none" stroke-width="0.5"/>
<circle cx="409.25" cy="104.62" r="1.05" fill="#c0c0c0" stroke="none" stroke-width="0.5"/>
<circle cx="407.84" cy="102.11" r="1.05" fill="#c0c0c0" stroke="none" stroke-width="0.5"/>
<circle cx="402.26" cy="94.11" r="1.05" fill="#c0c0c0" stroke="none" stroke-width="0.5"/>
<circle cx="404.49" cy="97.24" r="1.05" fill="#c0c0c0" stroke="none" stroke-width="0.5"/>
<circle cx="404.25" cy="96.49" r="1.05" fill="#c0c0c0" stroke="none" stroke-width="0.5"/>
<circle cx="404.92" cy="98.27" r="1.05" fill="#c0c0c0" stroke="none" stroke-width="0.5"/>
<circle cx="402.99" cy="94.50" r="1.05" fill="#c0c0c0" stroke="none" stroke-width="0.5"/>
<circle cx="403.22" cy="97.47" r="1.05" fill="#c0c0c0" stroke="none" stroke-width="0.5"/>
<circle cx="398.45" cy="91.53" r="1.05" fill="#c0c0c0" stroke="none" stroke-width="0.5"/>
<circle cx="408.41" cy="106.22" r="1.05" fill="#c0c0c0" stroke="none" stroke-width="0.5"/>
<circle cx="409.33" cy="103.65" r="1.05" fill="#c0c0c0" stroke="none" stroke-width="0.5"/>
<circle cx="414.30" cy="110.12" r="1.05" fill="#c0c0c0" stroke="none" stroke-width="0.5"/>
<circle cx="403.58" cy="96.12" r="1.05" fill="#c0c0c0" stroke="none" stroke-width="0.5"/>
<circle cx="412.00" cy="111.50" r="1.05" fill="#c0c0c0" stroke="none" stroke-width="0.5"/>
<circle cx="414.00" cy="111.50" r="1.05" fill="#c0c0c0" stroke="none" stroke-width="0.5"/>
<circle cx="416.00" cy="111.50" r="1.05" fill="#c0c0c0" stroke="none" stroke-width="0.5"/>
<circle cx="418.00" cy="111.50" r="1.05" fill="#c0c0c0" stroke="none" stroke-width="0.5"/>
<circle cx="420.00" cy="111.50" r="1.05" fill="#c0c0c0" stroke="none" stroke-width="0.5"/>
<circle cx="422.00" cy="111.50" r="1.05" fill="#c0c0c0" stroke="none" stroke-width="0.5"/>
<circle cx="424.00" cy="111.50" r="1.05" fill="#c0c0c0" stroke="none" stroke-width="0.5"/>
<circle cx="426.00" cy="111.50" r="1.05" fill="#c0c0c0" stroke="none" stroke-width="0.5"/>
<circle cx="428.00" cy="111.50" r="1.05" fill="#c0c0c0" stroke="none" stroke-width="0.5"/>
<circle cx="397.30" cy="110.00" r="1.05" fill="#111" stroke="none" stroke-width="0.5"/>
<circle cx="410.40" cy="111.50" r="1.05" fill="#111" stroke="none" stroke-width="0.5"/>
<circle cx="425.30" cy="111.50" r="1.05" fill="#111" stroke="none" stroke-width="0.5"/>
<circle cx="430.20" cy="111.50" r="1.05" fill="#111" stroke="none" stroke-width="0.5"/>
<circle cx="403.70" cy="63.00" r="1.05" fill="#1f9a7c" stroke="none" stroke-width="0.5"/>
<circle cx="392.00" cy="80.00" r="1.05" fill="#1f9a7c" stroke="none" stroke-width="0.5"/>
<circle cx="380.20" cy="86.70" r="1.05" fill="#1f9a7c" stroke="none" stroke-width="0.5"/>
<circle cx="392.00" cy="96.30" r="1.05" fill="#1f9a7c" stroke="none" stroke-width="0.5"/>
<circle cx="393.70" cy="97.00" r="1.05" fill="#1f9a7c" stroke="none" stroke-width="0.5"/>
<circle cx="385.80" cy="56.20" r="1.05" fill="#d0223e" stroke="none" stroke-width="0.5"/>
<circle cx="389.10" cy="56.20" r="1.05" fill="#d0223e" stroke="none" stroke-width="0.5"/>
<circle cx="388.50" cy="61.30" r="1.05" fill="#d0223e" stroke="none" stroke-width="0.5"/>
<circle cx="392.50" cy="62.20" r="1.05" fill="#d0223e" stroke="none" stroke-width="0.5"/>
<circle cx="391.80" cy="64.90" r="1.05" fill="#d0223e" stroke="none" stroke-width="0.5"/>
<circle cx="390.90" cy="68.30" r="1.05" fill="#d0223e" stroke="none" stroke-width="0.5"/>
<circle cx="386.40" cy="73.40" r="1.05" fill="#d0223e" stroke="none" stroke-width="0.5"/>
<circle cx="394.50" cy="74.00" r="1.05" fill="#d0223e" stroke="none" stroke-width="0.5"/>
<circle cx="384.50" cy="57.50" r="1.05" fill="#d0223e" stroke="none" stroke-width="0.5"/>
<path d="M351.10,46.80 L354.10,43.80 L357.10,46.80 L354.10,49.80 Z" fill="#fff" stroke="#111" stroke-width="0.8"/>
<path d="M362.60,46.50 L365.60,43.50 L368.60,46.50 L365.60,49.50 Z" fill="#fff" stroke="#111" stroke-width="0.8"/>
<path d="M373.30,46.50 L376.30,43.50 L379.30,46.50 L376.30,49.50 Z" fill="#fff" stroke="#111" stroke-width="0.8"/>
<path d="M375.40,46.80 L378.40,43.80 L381.40,46.80 L378.40,49.80 Z" fill="#fff" stroke="#111" stroke-width="0.8"/>
<path d="M363.20,51.10 L366.20,48.10 L369.20,51.10 L366.20,54.10 Z" fill="#fff" stroke="#111" stroke-width="0.8"/>
<path d="M361.00,54.80 L364.00,51.80 L367.00,54.80 L364.00,57.80 Z" fill="#fff" stroke="#111" stroke-width="0.8"/>
<path d="M369.30,53.20 L372.30,50.20 L375.30,53.20 L372.30,56.20 Z" fill="#fff" stroke="#111" stroke-width="0.8"/>
<path d="M384.40,50.80 L387.40,47.80 L390.40,50.80 L387.40,53.80 Z" fill="#fff" stroke="#111" stroke-width="0.8"/>
<path d="M386.10,51.10 L389.10,48.10 L392.10,51.10 L389.10,54.10 Z" fill="#fff" stroke="#111" stroke-width="0.8"/>
<path d="M385.20,50.30 L388.20,47.30 L391.20,50.30 L388.20,53.30 Z" fill="#fff" stroke="#111" stroke-width="0.8"/>
<text x="349.40" y="44.06" font-size="5.4" textLength="13" lengthAdjust="spacingAndGlyphs" fill="#2a2a2a" stroke="#2a2a2a" stroke-width="0.15">CDK6</text>
<text x="356.50" y="44.06" font-size="5.4" textLength="16" lengthAdjust="spacingAndGlyphs" fill="#2a2a2a" stroke="#2a2a2a" stroke-width="0.15">AURKB</text>
<text x="363.50" y="44.06" font-size="5.4" textLength="18" lengthAdjust="spacingAndGlyphs" fill="#2a2a2a" stroke="#2a2a2a" stroke-width="0.15">PRPF4B</text>
<text x="344.00" y="53.76" font-size="5.4" textLength="6.5" lengthAdjust="spacingAndGlyphs" fill="#2a2a2a" stroke="#2a2a2a" stroke-width="0.15">KIT</text>
<text x="388.20" y="47.56" font-size="5.4" textLength="11.3" lengthAdjust="spacingAndGlyphs" fill="#2a2a2a" stroke="#2a2a2a" stroke-width="0.15">RIOK1</text>
<text x="393.50" y="56.66" font-size="5.4" textLength="9" lengthAdjust="spacingAndGlyphs" fill="#2a2a2a" stroke="#2a2a2a" stroke-width="0.15">ATR</text>
<text x="349.40" y="62.36" font-size="5.4" textLength="15.9" lengthAdjust="spacingAndGlyphs" fill="#2a2a2a" stroke="#2a2a2a" stroke-width="0.15">TRRAP</text>
<text x="347.40" y="68.86" font-size="5.4" textLength="18.8" lengthAdjust="spacingAndGlyphs" fill="#2a2a2a" stroke="#2a2a2a" stroke-width="0.15">PKMYT1</text>
<text x="369.00" y="67.16" font-size="5.4" textLength="15.4" lengthAdjust="spacingAndGlyphs" fill="#2a2a2a" stroke="#2a2a2a" stroke-width="0.15">CHEK1</text>
<text x="373.00" y="60.46" font-size="5.4" font-weight="bold" textLength="18.8" lengthAdjust="spacingAndGlyphs" fill="#222" stroke="#222" stroke-width="0.15">HASPIN</text>
<rect x="340.80" y="39.20" width="94.90" height="76.00" fill="none" stroke="#222" stroke-width="0.9"/>
<rect x="435.70" y="39.20" width="9.20" height="76.00" fill="#fff" stroke="#333" stroke-width="0.7"/>
<text x="0" y="1.86" font-size="5.4" text-anchor="middle" fill="#2a2a2a" stroke="#2a2a2a" stroke-width="0.15" transform="translate(440.20,77.20) rotate(90)">Kasumi-1</text>
<line x1="340.80" y1="164.69" x2="435.70" y2="164.69" stroke="#555" stroke-width="0.6" stroke-dasharray="0.7,1.5"/>
<line x1="395.40" y1="118.10" x2="395.40" y2="193.70" stroke="#555" stroke-width="0.6" stroke-dasharray="0.7,1.5"/>
<line x1="338.20" y1="190.50" x2="340.80" y2="190.50" stroke="#222" stroke-width="0.8"/>
<text x="335.80" y="192.56" font-size="6.0" text-anchor="end" fill="#2a2a2a" stroke="#2a2a2a" stroke-width="0.15">0</text>
<line x1="338.20" y1="170.65" x2="340.80" y2="170.65" stroke="#222" stroke-width="0.8"/>
<text x="335.80" y="172.71" font-size="6.0" text-anchor="end" fill="#2a2a2a" stroke="#2a2a2a" stroke-width="0.15">1</text>
<line x1="338.20" y1="150.80" x2="340.80" y2="150.80" stroke="#222" stroke-width="0.8"/>
<text x="335.80" y="152.86" font-size="6.0" text-anchor="end" fill="#2a2a2a" stroke="#2a2a2a" stroke-width="0.15">2</text>
<line x1="338.20" y1="130.95" x2="340.80" y2="130.95" stroke="#222" stroke-width="0.8"/>
<text x="335.80" y="133.01" font-size="6.0" text-anchor="end" fill="#2a2a2a" stroke="#2a2a2a" stroke-width="0.15">3</text>
<circle cx="397.50" cy="157.00" r="1.05" fill="#c0c0c0" stroke="none" stroke-width="0.5"/>
<circle cx="401.00" cy="158.50" r="1.05" fill="#c0c0c0" stroke="none" stroke-width="0.5"/>
<circle cx="406.50" cy="159.50" r="1.05" fill="#c0c0c0" stroke="none" stroke-width="0.5"/>
<circle cx="400.00" cy="162.50" r="1.05" fill="#c0c0c0" stroke="none" stroke-width="0.5"/>
<circle cx="408.00" cy="165.50" r="1.05" fill="#c0c0c0" stroke="none" stroke-width="0.5"/>
<circle cx="402.00" cy="168.00" r="1.05" fill="#c0c0c0" stroke="none" stroke-width="0.5"/>
<circle cx="409.00" cy="170.00" r="1.05" fill="#c0c0c0" stroke="none" stroke-width="0.5"/>
<circle cx="401.50" cy="173.50" r="1.05" fill="#c0c0c0" stroke="none" stroke-width="0.5"/>
<circle cx="412.00" cy="175.00" r="1.05" fill="#c0c0c0" stroke="none" stroke-width="0.5"/>
<circle cx="413.50" cy="173.00" r="1.05" fill="#c0c0c0" stroke="none" stroke-width="0.5"/>
<circle cx="404.00" cy="178.50" r="1.05" fill="#c0c0c0" stroke="none" stroke-width="0.5"/>
<circle cx="407.00" cy="176.00" r="1.05" fill="#c0c0c0" stroke="none" stroke-width="0.5"/>
<circle cx="416.50" cy="184.00" r="1.05" fill="#c0c0c0" stroke="none" stroke-width="0.5"/>
<circle cx="411.00" cy="162.00" r="1.05" fill="#c0c0c0" stroke="none" stroke-width="0.5"/>
<circle cx="404.50" cy="152.00" r="1.05" fill="#c0c0c0" stroke="none" stroke-width="0.5"/>
<circle cx="411.03" cy="181.00" r="1.05" fill="#c0c0c0" stroke="none" stroke-width="0.5"/>
<circle cx="408.68" cy="181.99" r="1.05" fill="#c0c0c0" stroke="none" stroke-width="0.5"/>
<circle cx="410.20" cy="179.11" r="1.05" fill="#c0c0c0" stroke="none" stroke-width="0.5"/>
<circle cx="411.66" cy="182.78" r="1.05" fill="#c0c0c0" stroke="none" stroke-width="0.5"/>
<circle cx="406.95" cy="180.56" r="1.05" fill="#c0c0c0" stroke="none" stroke-width="0.5"/>
<circle cx="412.88" cy="179.49" r="1.05" fill="#c0c0c0" stroke="none" stroke-width="0.5"/>
<circle cx="409.04" cy="183.96" r="1.05" fill="#c0c0c0" stroke="none" stroke-width="0.5"/>
<circle cx="408.16" cy="178.08" r="1.05" fill="#c0c0c0" stroke="none" stroke-width="0.5"/>
<circle cx="413.99" cy="182.20" r="1.05" fill="#c0c0c0" stroke="none" stroke-width="0.5"/>
<circle cx="405.85" cy="182.41" r="1.05" fill="#c0c0c0" stroke="none" stroke-width="0.5"/>
<circle cx="412.00" cy="177.48" r="1.05" fill="#c0c0c0" stroke="none" stroke-width="0.5"/>
<circle cx="411.48" cy="184.88" r="1.05" fill="#c0c0c0" stroke="none" stroke-width="0.5"/>
<circle cx="405.54" cy="178.87" r="1.05" fill="#c0c0c0" stroke="none" stroke-width="0.5"/>
<circle cx="415.23" cy="180.05" r="1.05" fill="#c0c0c0" stroke="none" stroke-width="0.5"/>
<circle cx="406.81" cy="184.74" r="1.05" fill="#c0c0c0" stroke="none" stroke-width="0.5"/>
<circle cx="409.26" cy="176.31" r="1.05" fill="#c0c0c0" stroke="none" stroke-width="0.5"/>
<circle cx="414.53" cy="184.14" r="1.05" fill="#c0c0c0" stroke="none" stroke-width="0.5"/>
<circle cx="403.91" cy="181.21" r="1.05" fill="#c0c0c0" stroke="none" stroke-width="0.5"/>
<circle cx="414.44" cy="177.36" r="1.05" fill="#c0c0c0" stroke="none" stroke-width="0.5"/>
<circle cx="409.70" cy="186.30" r="1.05" fill="#c0c0c0" stroke="none" stroke-width="0.5"/>
<circle cx="405.77" cy="176.83" r="1.05" fill="#c0c0c0" stroke="none" stroke-width="0.5"/>
<circle cx="416.70" cy="181.74" r="1.05" fill="#c0c0c0" stroke="none" stroke-width="0.5"/>
<circle cx="404.32" cy="184.25" r="1.05" fill="#c0c0c0" stroke="none" stroke-width="0.5"/>
<circle cx="411.55" cy="175.32" r="1.05" fill="#c0c0c0" stroke="none" stroke-width="0.5"/>
<circle cx="413.59" cy="186.16" r="1.05" fill="#c0c0c0" stroke="none" stroke-width="0.5"/>
<circle cx="402.99" cy="179.16" r="1.05" fill="#c0c0c0" stroke="none" stroke-width="0.5"/>
<circle cx="416.81" cy="178.41" r="1.05" fill="#c0c0c0" stroke="none" stroke-width="0.5"/>
<circle cx="407.05" cy="186.81" r="1.05" fill="#c0c0c0" stroke="none" stroke-width="0.5"/>
<circle cx="407.37" cy="174.97" r="1.05" fill="#c0c0c0" stroke="none" stroke-width="0.5"/>
<circle cx="417.01" cy="184.03" r="1.05" fill="#c0c0c0" stroke="none" stroke-width="0.5"/>
<circle cx="402.22" cy="182.69" r="1.05" fill="#c0c0c0" stroke="none" stroke-width="0.5"/>
<circle cx="414.42" cy="175.33" r="1.05" fill="#c0c0c0" stroke="none" stroke-width="0.5"/>
<circle cx="411.41" cy="187.74" r="1.05" fill="#c0c0c0" stroke="none" stroke-width="0.5"/>
<circle cx="403.33" cy="176.75" r="1.05" fill="#c0c0c0" stroke="none" stroke-width="0.5"/>
<circle cx="413.00" cy="190.50" r="1.05" fill="#c0c0c0" stroke="none" stroke-width="0.5"/>
<circle cx="415.00" cy="190.50" r="1.05" fill="#c0c0c0" stroke="none" stroke-width="0.5"/>
<circle cx="417.00" cy="190.50" r="1.05" fill="#c0c0c0" stroke="none" stroke-width="0.5"/>
<circle cx="419.00" cy="190.50" r="1.05" fill="#c0c0c0" stroke="none" stroke-width="0.5"/>
<circle cx="421.00" cy="190.50" r="1.05" fill="#c0c0c0" stroke="none" stroke-width="0.5"/>
<circle cx="423.00" cy="190.50" r="1.05" fill="#c0c0c0" stroke="none" stroke-width="0.5"/>
<circle cx="425.00" cy="190.50" r="1.05" fill="#c0c0c0" stroke="none" stroke-width="0.5"/>
<circle cx="427.00" cy="190.50" r="1.05" fill="#c0c0c0" stroke="none" stroke-width="0.5"/>
<circle cx="429.00" cy="190.50" r="1.05" fill="#c0c0c0" stroke="none" stroke-width="0.5"/>
<circle cx="402.80" cy="190.50" r="1.05" fill="#111" stroke="none" stroke-width="0.5"/>
<circle cx="409.40" cy="190.50" r="1.05" fill="#111" stroke="none" stroke-width="0.5"/>
<circle cx="411.10" cy="190.50" r="1.05" fill="#111" stroke="none" stroke-width="0.5"/>
<circle cx="430.20" cy="190.50" r="1.05" fill="#111" stroke="none" stroke-width="0.5"/>
<circle cx="431.60" cy="190.50" r="1.05" fill="#111" stroke="none" stroke-width="0.5"/>
<circle cx="402.70" cy="145.60" r="1.05" fill="#1f9a7c" stroke="none" stroke-width="0.5"/>
<circle cx="400.80" cy="152.30" r="1.05" fill="#1f9a7c" stroke="none" stroke-width="0.5"/>
<circle cx="393.00" cy="150.80" r="1.05" fill="#1f9a7c" stroke="none" stroke-width="0.5"/>
<circle cx="383.50" cy="156.70" r="1.05" fill="#1f9a7c" stroke="none" stroke-width="0.5"/>
<circle cx="387.00" cy="156.70" r="1.05" fill="#1f9a7c" stroke="none" stroke-width="0.5"/>
<circle cx="396.00" cy="156.70" r="1.05" fill="#1f9a7c" stroke="none" stroke-width="0.5"/>
<circle cx="386.30" cy="162.90" r="1.05" fill="#1f9a7c" stroke="none" stroke-width="0.5"/>
<circle cx="392.10" cy="169.60" r="1.05" fill="#1f9a7c" stroke="none" stroke-width="0.5"/>
<circle cx="394.00" cy="177.70" r="1.05" fill="#1f9a7c" stroke="none" stroke-width="0.5"/>
<circle cx="399.80" cy="181.20" r="1.05" fill="#1f9a7c" stroke="none" stroke-width="0.5"/>
<circle cx="397.90" cy="127.30" r="1.05" fill="#1f9a7c" stroke="none" stroke-width="0.5"/>
<circle cx="390.50" cy="142.00" r="1.05" fill="#245c92" stroke="none" stroke-width="0.5"/>
<circle cx="388.50" cy="146.00" r="1.05" fill="#245c92" stroke="none" stroke-width="0.5"/>
<circle cx="385.00" cy="147.50" r="1.05" fill="#245c92" stroke="none" stroke-width="0.5"/>
<path d="M383.30,127.70 L386.30,124.70 L389.30,127.70 L386.30,130.70 Z" fill="#fff" stroke="#111" stroke-width="0.8"/>
<path d="M391.00,127.70 L394.00,124.70 L397.00,127.70 L394.00,130.70 Z" fill="#fff" stroke="#111" stroke-width="0.8"/>
<path d="M371.80,140.40 L374.80,137.40 L377.80,140.40 L374.80,143.40 Z" fill="#fff" stroke="#111" stroke-width="0.8"/>
<path d="M374.70,140.80 L377.70,137.80 L380.70,140.80 L377.70,143.80 Z" fill="#fff" stroke="#111" stroke-width="0.8"/>
<path d="M379.50,139.80 L382.50,136.80 L385.50,139.80 L382.50,142.80 Z" fill="#fff" stroke="#111" stroke-width="0.8"/>
<path d="M391.00,139.80 L394.00,136.80 L397.00,139.80 L394.00,142.80 Z" fill="#fff" stroke="#111" stroke-width="0.8"/>
<path d="M376.50,140.30 L379.50,137.30 L382.50,140.30 L379.50,143.30 Z" fill="#fff" stroke="#111" stroke-width="0.8"/>
<path d="M378.00,141.00 L381.00,138.00 L384.00,141.00 L381.00,144.00 Z" fill="#fff" stroke="#111" stroke-width="0.8"/>
<path d="M373.00,141.20 L376.00,138.20 L379.00,141.20 L376.00,144.20 Z" fill="#fff" stroke="#111" stroke-width="0.8"/>
<path d="M380.50,140.50 L383.50,137.50 L386.50,140.50 L383.50,143.50 Z" fill="#fff" stroke="#111" stroke-width="0.8"/>
<text x="379.60" y="123.76" font-size="5.4" textLength="14.4" lengthAdjust="spacingAndGlyphs" fill="#2a2a2a" stroke="#2a2a2a" stroke-width="0.15">CDC7</text>
<text x="395.40" y="123.76" font-size="5.4" textLength="18.6" lengthAdjust="spacingAndGlyphs" fill="#2a2a2a" stroke="#2a2a2a" stroke-width="0.15">PRPF4B</text>
<text x="356.20" y="130.16" font-size="5.4" textLength="21.1" lengthAdjust="spacingAndGlyphs" fill="#2a2a2a" stroke="#2a2a2a" stroke-width="0.15">PDGFRA</text>
<text x="360.00" y="136.86" font-size="5.4" textLength="15.8" lengthAdjust="spacingAndGlyphs" fill="#2a2a2a" stroke="#2a2a2a" stroke-width="0.15">CHEK1</text>
<text x="380.60" y="135.56" font-size="5.4" textLength="14.4" lengthAdjust="spacingAndGlyphs" fill="#2a2a2a" stroke="#2a2a2a" stroke-width="0.15">TRRAP</text>
<text x="398.80" y="136.86" font-size="5.4" textLength="10.6" lengthAdjust="spacingAndGlyphs" fill="#2a2a2a" stroke="#2a2a2a" stroke-width="0.15">AKT2</text>
<text x="398.80" y="143.56" font-size="5.4" textLength="14.5" lengthAdjust="spacingAndGlyphs" fill="#2a2a2a" stroke="#2a2a2a" stroke-width="0.15">RIOK1</text>
<text x="364.60" y="147.46" font-size="5.4" textLength="7.4" lengthAdjust="spacingAndGlyphs" fill="#2a2a2a" stroke="#2a2a2a" stroke-width="0.15">KIT</text>
<text x="380.60" y="147.46" font-size="5.4" textLength="17.3" lengthAdjust="spacingAndGlyphs" fill="#2a2a2a" stroke="#2a2a2a" stroke-width="0.15">AURKB</text>
<text x="365.20" y="153.86" font-size="5.4" font-weight="bold" textLength="19.2" lengthAdjust="spacingAndGlyphs" fill="#222" stroke="#222" stroke-width="0.15">HASPIN</text>
<rect x="340.80" y="118.10" width="94.90" height="75.60" fill="none" stroke="#222" stroke-width="0.9"/>
<rect x="435.70" y="118.10" width="9.20" height="75.60" fill="#fff" stroke="#333" stroke-width="0.7"/>
<text x="0" y="1.86" font-size="5.4" text-anchor="middle" fill="#2a2a2a" stroke="#2a2a2a" stroke-width="0.15" transform="translate(440.20,155.90) rotate(90)">SKNO-1</text>
<line x1="355.00" y1="193.70" x2="355.00" y2="196.40" stroke="#222" stroke-width="0.8"/>
<text x="355.30" y="205.50" font-size="5.8" text-anchor="middle" fill="#333" stroke="#333" stroke-width="0.15">−3</text>
<line x1="375.20" y1="193.70" x2="375.20" y2="196.40" stroke="#222" stroke-width="0.8"/>
<text x="375.50" y="205.50" font-size="5.8" text-anchor="middle" fill="#333" stroke="#333" stroke-width="0.15">−2</text>
<line x1="395.40" y1="193.70" x2="395.40" y2="196.40" stroke="#222" stroke-width="0.8"/>
<text x="395.70" y="205.50" font-size="5.8" text-anchor="middle" fill="#333" stroke="#333" stroke-width="0.15">−1</text>
<line x1="415.60" y1="193.70" x2="415.60" y2="196.40" stroke="#222" stroke-width="0.8"/>
<text x="415.90" y="205.50" font-size="5.8" text-anchor="middle" fill="#333" stroke="#333" stroke-width="0.15">0</text>
<text x="388.00" y="216.81" font-size="7.0" text-anchor="middle" textLength="46.9" lengthAdjust="spacingAndGlyphs" fill="#222" stroke="#222" stroke-width="0.15">Log2 (fold change)</text>
<text x="0" y="2.41" font-size="7.0" text-anchor="middle" textLength="36.6" lengthAdjust="spacingAndGlyphs" fill="#222" stroke="#222" stroke-width="0.15" transform="translate(324.10,117.50) rotate(-90)">-Log10 (FDR)</text>
<text x="452.40" y="74.73" font-size="5.9" fill="#2a2a2a" stroke="#2a2a2a" stroke-width="0.15">Ranking</text>
<circle cx="456.30" cy="82.10" r="0.90" fill="#111" stroke="none" stroke-width="0.5"/>
<text x="463.90" y="84.13" font-size="5.9" fill="#2a2a2a" stroke="#2a2a2a" stroke-width="0.15">All Kinases</text>
<path d="M453.40,90.40 L456.30,87.50 L459.20,90.40 L456.30,93.30 Z" fill="#fff" stroke="#111" stroke-width="0.8"/>
<text x="463.90" y="92.43" font-size="5.9" fill="#2a2a2a" stroke="#2a2a2a" stroke-width="0.15">Top 10 Kinases</text>
<text x="452.40" y="109.73" font-size="5.9" fill="#2a2a2a" stroke="#2a2a2a" stroke-width="0.15">Type</text>
<circle cx="456.30" cy="116.90" r="1.00" fill="#111" stroke="none" stroke-width="0.5"/>
<text x="463.90" y="118.93" font-size="5.9" fill="#2a2a2a" stroke="#2a2a2a" stroke-width="0.15">Non-targeting</text>
<circle cx="456.30" cy="125.40" r="1.00" fill="#cfcfcf" stroke="none" stroke-width="0.5"/>
<text x="463.90" y="127.43" font-size="5.9" fill="#2a2a2a" stroke="#2a2a2a" stroke-width="0.15">Not Significant</text>
<circle cx="456.30" cy="133.70" r="1.00" fill="#1f9a7c" stroke="none" stroke-width="0.5"/>
<text x="463.90" y="135.73" font-size="5.9" fill="#2a2a2a" stroke="#2a2a2a" stroke-width="0.15">Positive</text>
<circle cx="456.30" cy="142.20" r="1.00" fill="#d0223e" stroke="none" stroke-width="0.5"/>
<text x="463.90" y="144.23" font-size="5.9" fill="#2a2a2a" stroke="#2a2a2a" stroke-width="0.15">Significant_Kasumi</text>
<circle cx="456.30" cy="150.80" r="1.00" fill="#245c92" stroke="none" stroke-width="0.5"/>
<text x="463.90" y="152.83" font-size="5.9" fill="#2a2a2a" stroke="#2a2a2a" stroke-width="0.15">Significant_SKNO</text>
<text x="6.60" y="244.45" font-size="11.2" font-weight="bold" fill="#111" stroke="#111" stroke-width="0.15">C</text>
<line x1="74.40" y1="261.30" x2="77.50" y2="261.30" stroke="#222" stroke-width="1.0"/>
<text x="71.30" y="256.70" font-size="4.95" text-anchor="end" fill="#3a3a3a" stroke="#3a3a3a" stroke-width="0.06">WEI MYCN</text>
<text x="71.30" y="263.00" font-size="4.95" text-anchor="end" fill="#3a3a3a" stroke="#3a3a3a" stroke-width="0.06">TARGETS WITH</text>
<text x="71.30" y="269.30" font-size="4.95" text-anchor="end" fill="#3a3a3a" stroke="#3a3a3a" stroke-width="0.06">E BOX</text>
<circle cx="103.75" cy="261.30" r="4.00" fill="#2566a4" stroke="#111" stroke-width="0.8"/>
<circle cx="147.50" cy="261.30" r="3.60" fill="#2590b2" stroke="#111" stroke-width="0.8"/>
<line x1="74.40" y1="292.30" x2="77.50" y2="292.30" stroke="#222" stroke-width="1.0"/>
<text x="71.30" y="290.90" font-size="4.95" text-anchor="end" fill="#3a3a3a" stroke="#3a3a3a" stroke-width="0.06">PUJANA BRCA2</text>
<text x="71.30" y="297.20" font-size="4.95" text-anchor="end" fill="#3a3a3a" stroke="#3a3a3a" stroke-width="0.06">PCC NETWORK</text>
<circle cx="103.75" cy="292.30" r="4.00" fill="#2566a4" stroke="#111" stroke-width="0.8"/>
<circle cx="147.50" cy="292.30" r="4.80" fill="#22a7aa" stroke="#111" stroke-width="0.8"/>
<line x1="74.40" y1="323.00" x2="77.50" y2="323.00" stroke="#222" stroke-width="1.0"/>
<text x="71.30" y="314.20" font-size="4.95" text-anchor="end" fill="#3a3a3a" stroke="#3a3a3a" stroke-width="0.06">KINSEY</text>
<text x="71.30" y="320.50" font-size="4.95" text-anchor="end" fill="#3a3a3a" stroke="#3a3a3a" stroke-width="0.06">TARGETS OF</text>
<text x="71.30" y="327.10" font-size="4.95" text-anchor="end" fill="#3a3a3a" stroke="#3a3a3a" stroke-width="0.06">EWSR1 FLII</text>
<text x="71.30" y="333.70" font-size="4.95" text-anchor="end" fill="#3a3a3a" stroke="#3a3a3a" stroke-width="0.06">FUSION UP</text>
<circle cx="103.75" cy="323.00" r="4.00" fill="#2588b0" stroke="#111" stroke-width="0.8"/>
<circle cx="147.50" cy="323.00" r="5.00" fill="#e3f3ea" stroke="#111" stroke-width="0.8"/>
<line x1="74.40" y1="358.30" x2="77.50" y2="358.30" stroke="#222" stroke-width="1.0"/>
<text x="71.30" y="350.50" font-size="4.95" text-anchor="end" fill="#3a3a3a" stroke="#3a3a3a" stroke-width="0.06">REACTOME</text>
<text x="71.30" y="356.80" font-size="4.95" text-anchor="end" fill="#3a3a3a" stroke="#3a3a3a" stroke-width="0.06">TRANSCRIPTIONAL</text>
<text x="71.30" y="363.10" font-size="4.95" text-anchor="end" fill="#3a3a3a" stroke="#3a3a3a" stroke-width="0.06">REGULATION BY</text>
<text x="71.30" y="369.30" font-size="4.95" text-anchor="end" fill="#3a3a3a" stroke="#3a3a3a" stroke-width="0.06">TP53</text>
<circle cx="103.75" cy="358.30" r="3.30" fill="#47478a" stroke="#111" stroke-width="0.8"/>
<circle cx="147.50" cy="358.30" r="4.30" fill="#2299b0" stroke="#111" stroke-width="0.8"/>
<line x1="74.40" y1="382.00" x2="77.50" y2="382.00" stroke="#222" stroke-width="1.0"/>
<text x="71.30" y="377.50" font-size="4.95" text-anchor="end" fill="#3a3a3a" stroke="#3a3a3a" stroke-width="0.06">REACTOME RNA</text>
<text x="71.30" y="383.70" font-size="4.95" text-anchor="end" fill="#3a3a3a" stroke="#3a3a3a" stroke-width="0.06">POLYMERASE II</text>
<text x="71.30" y="390.00" font-size="4.95" text-anchor="end" fill="#3a3a3a" stroke="#3a3a3a" stroke-width="0.06">TRANSCRIPTION</text>
<circle cx="103.75" cy="382.00" r="3.30" fill="#4a5595" stroke="#111" stroke-width="0.8"/>
<circle cx="147.50" cy="382.00" r="4.30" fill="#2299b0" stroke="#111" stroke-width="0.8"/>
<line x1="74.40" y1="405.10" x2="77.50" y2="405.10" stroke="#222" stroke-width="1.0"/>
<text x="71.30" y="400.50" font-size="4.95" text-anchor="end" fill="#3a3a3a" stroke="#3a3a3a" stroke-width="0.06">REACTOME</text>
<text x="71.30" y="406.80" font-size="4.95" text-anchor="end" fill="#3a3a3a" stroke="#3a3a3a" stroke-width="0.06">METABOLISM OF</text>
<text x="71.30" y="413.00" font-size="4.95" text-anchor="end" fill="#3a3a3a" stroke="#3a3a3a" stroke-width="0.06">RNA</text>
<circle cx="103.75" cy="405.10" r="2.10" fill="#0a0a0a" stroke="#111" stroke-width="0.8"/>
<circle cx="147.50" cy="405.10" r="2.10" fill="#0a0a0a" stroke="#111" stroke-width="0.8"/>
<line x1="74.40" y1="428.60" x2="77.50" y2="428.60" stroke="#222" stroke-width="1.0"/>
<text x="71.30" y="427.30" font-size="4.95" text-anchor="end" fill="#3a3a3a" stroke="#3a3a3a" stroke-width="0.06">KEGG CELL</text>
<text x="71.30" y="433.60" font-size="4.95" text-anchor="end" fill="#3a3a3a" stroke="#3a3a3a" stroke-width="0.06">CYCLE</text>
<circle cx="103.75" cy="428.60" r="4.00" fill="#256ea8" stroke="#111" stroke-width="0.8"/>
<circle cx="147.50" cy="428.60" r="5.50" fill="#6fc7b1" stroke="#111" stroke-width="0.8"/>
<rect x="77.50" y="242.50" width="96.00" height="98.80" fill="none" stroke="#222" stroke-width="0.9"/>
<rect x="173.50" y="242.50" width="10.00" height="98.80" fill="#fff" stroke="#333" stroke-width="0.7"/>
<text x="0" y="2.00" font-size="5.8" text-anchor="middle" fill="#2a2a2a" stroke="#2a2a2a" stroke-width="0.15" transform="translate(178.60,291.90) rotate(90)">CGP</text>
<rect x="77.50" y="344.50" width="96.00" height="98.20" fill="none" stroke="#222" stroke-width="0.9"/>
<rect x="173.50" y="344.50" width="10.00" height="98.20" fill="#fff" stroke="#333" stroke-width="0.7"/>
<text x="0" y="2.00" font-size="5.8" text-anchor="middle" fill="#2a2a2a" stroke="#2a2a2a" stroke-width="0.15" transform="translate(178.60,393.60) rotate(90)">CP</text>
<line x1="103.75" y1="442.70" x2="103.75" y2="445.00" stroke="#222" stroke-width="0.8"/>
<line x1="147.50" y1="442.70" x2="147.50" y2="445.00" stroke="#222" stroke-width="0.8"/>
<text x="103.75" y="454.12" font-size="5.3" text-anchor="middle" fill="#2a2a2a" stroke="#2a2a2a" stroke-width="0.15">Kasumi-1</text>
<text x="147.50" y="454.12" font-size="5.3" text-anchor="middle" fill="#2a2a2a" stroke="#2a2a2a" stroke-width="0.15">SKNO-1</text>
<text x="130.20" y="463.47" font-size="6.6" text-anchor="middle" textLength="17" lengthAdjust="spacingAndGlyphs" fill="#222" stroke="#222" stroke-width="0.15">Cell line</text>
<text x="0" y="2.27" font-size="6.6" text-anchor="middle" textLength="22" lengthAdjust="spacingAndGlyphs" fill="#222" stroke="#222" stroke-width="0.15" transform="translate(16.90,342.80) rotate(-90)">Gene set</text>
<defs><linearGradient id="mako" x1="0" y1="0" x2="0" y2="1"><stop offset="0" stop-color="#0b0405"/><stop offset="0.1" stop-color="#2a1a36"/><stop offset="0.25" stop-color="#3d3570"/><stop offset="0.42" stop-color="#33609e"/><stop offset="0.6" stop-color="#2a88a6"/><stop offset="0.75" stop-color="#2ea9aa"/><stop offset="0.86" stop-color="#52c2ac"/><stop offset="0.94" stop-color="#a8e0c8"/><stop offset="1" stop-color="#e6f6ee"/></linearGradient></defs>
<text x="192.50" y="297.06" font-size="6.0" fill="#2a2a2a" stroke="#2a2a2a" stroke-width="0.15">NES</text>
<rect x="192.60" y="300.50" width="8.80" height="43.50" fill="url(#mako)" stroke="none" stroke-width="0.6"/>
<line x1="192.60" y1="303.50" x2="194.30" y2="303.50" stroke="#fff" stroke-width="0.5"/>
<line x1="199.70" y1="303.50" x2="201.40" y2="303.50" stroke="#fff" stroke-width="0.5"/>
<text x="204.80" y="305.56" font-size="6.0" fill="#2a2a2a" stroke="#2a2a2a" stroke-width="0.15">−1.6</text>
<line x1="192.60" y1="311.73" x2="194.30" y2="311.73" stroke="#fff" stroke-width="0.5"/>
<line x1="199.70" y1="311.73" x2="201.40" y2="311.73" stroke="#fff" stroke-width="0.5"/>
<text x="204.80" y="313.79" font-size="6.0" fill="#2a2a2a" stroke="#2a2a2a" stroke-width="0.15">−1.7</text>
<line x1="192.60" y1="319.96" x2="194.30" y2="319.96" stroke="#fff" stroke-width="0.5"/>
<line x1="199.70" y1="319.96" x2="201.40" y2="319.96" stroke="#fff" stroke-width="0.5"/>
<text x="204.80" y="322.02" font-size="6.0" fill="#2a2a2a" stroke="#2a2a2a" stroke-width="0.15">−1.8</text>
<line x1="192.60" y1="328.19" x2="194.30" y2="328.19" stroke="#fff" stroke-width="0.5"/>
<line x1="199.70" y1="328.19" x2="201.40" y2="328.19" stroke="#fff" stroke-width="0.5"/>
<text x="204.80" y="330.25" font-size="6.0" fill="#2a2a2a" stroke="#2a2a2a" stroke-width="0.15">−1.9</text>
<line x1="192.60" y1="336.42" x2="194.30" y2="336.42" stroke="#fff" stroke-width="0.5"/>
<line x1="199.70" y1="336.42" x2="201.40" y2="336.42" stroke="#fff" stroke-width="0.5"/>
<text x="204.80" y="338.48" font-size="6.0" fill="#2a2a2a" stroke="#2a2a2a" stroke-width="0.15">−2.0</text>
<text x="193.20" y="362.90" font-size="6.1" fill="#2a2a2a" stroke="#2a2a2a" stroke-width="0.15">-Log10 (FDR)</text>
<circle cx="197.60" cy="370.60" r="2.30" fill="#fff" stroke="#111" stroke-width="0.8"/>
<text x="206.30" y="372.66" font-size="6.0" fill="#2a2a2a" stroke="#2a2a2a" stroke-width="0.15">1</text>
<circle cx="197.60" cy="378.90" r="3.00" fill="#fff" stroke="#111" stroke-width="0.8"/>
<text x="206.30" y="380.96" font-size="6.0" fill="#2a2a2a" stroke="#2a2a2a" stroke-width="0.15">2</text>
<circle cx="197.60" cy="389.20" r="3.80" fill="#fff" stroke="#111" stroke-width="0.8"/>
<text x="206.30" y="391.26" font-size="6.0" fill="#2a2a2a" stroke="#2a2a2a" stroke-width="0.15">3</text>
<text x="238.80" y="244.55" font-size="11.2" font-weight="bold" fill="#111" stroke="#111" stroke-width="0.15">D</text>
<path d="M296.00,302.90 L296.00,302.76 L296.36,302.76 L296.71,302.76 L297.06,302.75 L297.42,302.75 L297.77,302.75 L298.13,302.74 L298.48,302.74 L298.83,302.73 L299.19,302.73 L299.54,302.73 L299.89,302.72 L300.25,302.72 L300.60,302.71 L300.95,302.71 L301.31,302.70 L301.66,302.70 L302.02,302.69 L302.37,302.69 L302.72,302.68 L303.08,302.68 L303.43,302.67 L303.78,302.67 L304.14,302.66 L304.49,302.66 L304.84,302.65 L305.20,302.65 L305.55,302.64 L305.90,302.64 L306.26,302.63 L306.61,302.63 L306.97,302.62 L307.32,302.61 L307.67,302.61 L308.03,302.60 L308.38,302.60 L308.73,302.59 L309.09,302.58 L309.44,302.58 L309.79,302.57 L310.15,302.56 L310.50,302.56 L310.86,302.55 L311.21,302.55 L311.56,302.54 L311.92,302.53 L312.27,302.53 L312.62,302.52 L312.98,302.51 L313.33,302.51 L313.68,302.50 L314.04,302.49 L314.39,302.49 L314.74,302.48 L315.10,302.47 L315.45,302.47 L315.81,302.46 L316.16,302.45 L316.51,302.45 L316.87,302.44 L317.22,302.43 L317.57,302.43 L317.93,302.42 L318.28,302.41 L318.63,302.41 L318.99,302.40 L319.34,302.39 L319.70,302.39 L320.05,302.38 L320.40,302.37 L320.76,302.37 L321.11,302.36 L321.46,302.35 L321.82,302.35 L322.17,302.34 L322.52,302.33 L322.88,302.33 L323.23,302.32 L323.58,302.31 L323.94,302.31 L324.29,302.30 L324.65,302.30 L325.00,302.29 L325.35,302.28 L325.71,302.28 L326.06,302.27 L326.41,302.27 L326.77,302.26 L327.12,302.26 L327.47,302.25 L327.83,302.25 L328.18,302.24 L328.54,302.23 L328.89,302.23 L329.24,302.22 L329.60,302.22 L329.95,302.21 L330.30,302.21 L330.66,302.20 L331.01,302.20 L331.36,302.19 L331.72,302.19 L332.07,302.19 L332.42,302.18 L332.78,302.18 L333.13,302.17 L333.49,302.17 L333.84,302.16 L334.19,302.16 L334.55,302.16 L334.90,302.15 L335.25,302.15 L335.61,302.15 L335.96,302.14 L336.31,302.14 L336.67,302.13 L337.02,302.13 L337.38,302.13 L337.73,302.12 L338.08,302.12 L338.44,302.12 L338.79,302.11 L339.14,302.11 L339.50,302.11 L339.85,302.11 L340.20,302.10 L340.56,302.10 L340.91,302.10 L341.26,302.09 L341.62,302.09 L341.97,302.09 L342.33,302.09 L342.68,302.08 L343.03,302.08 L343.39,302.08 L343.74,302.08 L344.09,302.08 L344.45,302.07 L344.80,302.07 L345.15,302.07 L345.51,302.07 L345.86,302.07 L346.22,302.06 L346.57,302.06 L346.92,302.06 L347.28,302.06 L347.63,302.06 L347.98,302.05 L348.34,302.05 L348.69,302.05 L349.04,302.05 L349.40,302.05 L349.75,302.05 L350.10,302.05 L350.46,302.04 L350.81,302.04 L351.17,302.04 L351.52,302.04 L351.87,302.04 L352.23,302.04 L352.58,302.04 L352.93,302.03 L353.29,302.03 L353.64,302.03 L353.99,302.03 L354.35,302.03 L354.70,302.03 L355.06,302.03 L355.41,302.03 L355.76,302.02 L356.12,302.02 L356.47,302.02 L356.82,302.02 L357.18,302.02 L357.53,302.02 L357.88,302.02 L358.24,302.01 L358.59,302.01 L358.94,302.01 L359.30,302.01 L359.65,302.01 L360.01,302.01 L360.36,302.01 L360.71,302.00 L361.07,302.00 L361.42,302.00 L361.77,302.00 L362.13,302.00 L362.48,302.00 L362.83,301.99 L363.19,301.99 L363.54,301.99 L363.90,301.99 L364.25,301.98 L364.60,301.98 L364.96,301.98 L365.31,301.97 L365.66,301.97 L366.02,301.97 L366.37,301.96 L366.72,301.96 L367.08,301.95 L367.43,301.95 L367.78,301.94 L368.14,301.94 L368.49,301.93 L368.85,301.93 L369.20,301.92 L369.55,301.91 L369.91,301.90 L370.26,301.90 L370.61,301.89 L370.97,301.88 L371.32,301.87 L371.67,301.85 L372.03,301.84 L372.38,301.83 L372.74,301.81 L373.09,301.80 L373.44,301.78 L373.80,301.76 L374.15,301.75 L374.50,301.72 L374.86,301.70 L375.21,301.68 L375.56,301.65 L375.92,301.62 L376.27,301.59 L376.62,301.56 L376.98,301.53 L377.33,301.49 L377.69,301.45 L378.04,301.40 L378.39,301.35 L378.75,301.30 L379.10,301.25 L379.45,301.19 L379.81,301.12 L380.16,301.05 L380.51,300.98 L380.87,300.90 L381.22,300.81 L381.58,300.72 L381.93,300.62 L382.28,300.51 L382.64,300.39 L382.99,300.27 L383.34,300.13 L383.70,299.99 L384.05,299.83 L384.40,299.66 L384.76,299.48 L385.11,299.29 L385.46,299.08 L385.82,298.86 L386.17,298.62 L386.53,298.36 L386.88,298.09 L387.23,297.79 L387.59,297.48 L387.94,297.14 L388.29,296.78 L388.65,296.40 L389.00,295.99 L389.35,295.55 L389.71,295.09 L390.06,294.60 L390.42,294.08 L390.77,293.52 L391.12,292.94 L391.48,292.32 L391.83,291.67 L392.18,290.98 L392.54,290.26 L392.89,289.50 L393.24,288.71 L393.60,287.88 L393.95,287.02 L394.30,286.12 L394.66,285.20 L395.01,284.25 L395.37,283.27 L395.72,282.26 L396.07,281.24 L396.43,280.20 L396.78,279.15 L397.13,278.09 L397.49,277.04 L397.84,275.99 L398.19,274.96 L398.55,273.95 L398.90,272.97 L399.26,272.02 L399.61,271.13 L399.96,270.28 L400.32,269.50 L400.67,268.79 L401.02,268.16 L401.38,267.62 L401.73,267.16 L402.08,266.80 L402.44,266.54 L402.79,266.38 L403.14,266.33 L403.50,266.44 L403.85,266.73 L404.21,267.17 L404.56,267.77 L404.91,268.52 L405.27,269.40 L405.62,270.39 L405.97,271.49 L406.33,272.68 L406.68,273.93 L407.03,275.24 L407.39,276.58 L407.74,277.94 L408.10,279.31 L408.45,280.67 L408.80,282.02 L409.16,283.34 L409.51,284.62 L409.86,285.86 L410.22,287.06 L410.57,288.20 L410.92,289.29 L411.28,290.32 L411.63,291.30 L411.98,292.22 L412.34,293.08 L412.69,293.89 L413.05,294.65 L413.40,295.36 L413.75,296.01 L414.11,296.60 L414.46,297.13 L414.81,297.63 L415.17,298.08 L415.52,298.50 L415.87,298.89 L416.23,299.24 L416.58,299.56 L416.94,299.86 L417.29,300.13 L417.64,300.38 L418.00,300.61 L418.35,300.81 L418.70,301.00 L419.06,301.17 L419.41,301.33 L419.76,301.47 L420.12,301.60 L420.47,301.72 L420.82,301.83 L421.18,301.93 L421.53,302.02 L421.89,302.10 L422.24,302.17 L422.59,302.24 L422.95,302.30 L423.30,302.36 L423.65,302.41 L424.01,302.45 L424.36,302.49 L424.71,302.53 L425.07,302.56 L425.42,302.60 L425.78,302.62 L426.13,302.65 L426.48,302.67 L426.84,302.69 L427.19,302.71 L427.54,302.73 L427.54,302.90 Z" fill="#3d7398" stroke="none" stroke-width="0" fill-opacity="0.55"/>
<path d="M296.00,302.90 L296.00,302.76 L296.36,302.76 L296.71,302.76 L297.06,302.75 L297.42,302.75 L297.77,302.75 L298.13,302.74 L298.48,302.74 L298.83,302.73 L299.19,302.73 L299.54,302.73 L299.89,302.72 L300.25,302.72 L300.60,302.71 L300.95,302.71 L301.31,302.70 L301.66,302.70 L302.02,302.69 L302.37,302.69 L302.72,302.68 L303.08,302.68 L303.43,302.67 L303.78,302.67 L304.14,302.66 L304.49,302.66 L304.84,302.65 L305.20,302.65 L305.55,302.64 L305.90,302.64 L306.26,302.63 L306.61,302.63 L306.97,302.62 L307.32,302.61 L307.67,302.61 L308.03,302.60 L308.38,302.60 L308.73,302.59 L309.09,302.58 L309.44,302.58 L309.79,302.57 L310.15,302.56 L310.50,302.56 L310.86,302.55 L311.21,302.55 L311.56,302.54 L311.92,302.53 L312.27,302.53 L312.62,302.52 L312.98,302.51 L313.33,302.51 L313.68,302.50 L314.04,302.49 L314.39,302.49 L314.74,302.48 L315.10,302.47 L315.45,302.47 L315.81,302.46 L316.16,302.45 L316.51,302.45 L316.87,302.44 L317.22,302.43 L317.57,302.43 L317.93,302.42 L318.28,302.41 L318.63,302.41 L318.99,302.40 L319.34,302.39 L319.70,302.39 L320.05,302.38 L320.40,302.37 L320.76,302.37 L321.11,302.36 L321.46,302.35 L321.82,302.35 L322.17,302.34 L322.52,302.33 L322.88,302.33 L323.23,302.32 L323.58,302.31 L323.94,302.31 L324.29,302.30 L324.65,302.30 L325.00,302.29 L325.35,302.28 L325.71,302.28 L326.06,302.27 L326.41,302.27 L326.77,302.26 L327.12,302.26 L327.47,302.25 L327.83,302.25 L328.18,302.24 L328.54,302.23 L328.89,302.23 L329.24,302.22 L329.60,302.22 L329.95,302.21 L330.30,302.21 L330.66,302.20 L331.01,302.20 L331.36,302.19 L331.72,302.19 L332.07,302.19 L332.42,302.18 L332.78,302.18 L333.13,302.17 L333.49,302.17 L333.84,302.16 L334.19,302.16 L334.55,302.16 L334.90,302.15 L335.25,302.15 L335.61,302.15 L335.96,302.14 L336.31,302.14 L336.67,302.13 L337.02,302.13 L337.38,302.13 L337.73,302.12 L338.08,302.12 L338.44,302.12 L338.79,302.11 L339.14,302.11 L339.50,302.11 L339.85,302.11 L340.20,302.10 L340.56,302.10 L340.91,302.10 L341.26,302.09 L341.62,302.09 L341.97,302.09 L342.33,302.09 L342.68,302.08 L343.03,302.08 L343.39,302.08 L343.74,302.08 L344.09,302.08 L344.45,302.07 L344.80,302.07 L345.15,302.07 L345.51,302.07 L345.86,302.07 L346.22,302.06 L346.57,302.06 L346.92,302.06 L347.28,302.06 L347.63,302.06 L347.98,302.05 L348.34,302.05 L348.69,302.05 L349.04,302.05 L349.40,302.05 L349.75,302.05 L350.10,302.05 L350.46,302.04 L350.81,302.04 L351.17,302.04 L351.52,302.04 L351.87,302.04 L352.23,302.04 L352.58,302.04 L352.93,302.03 L353.29,302.03 L353.64,302.03 L353.99,302.03 L354.35,302.03 L354.70,302.03 L355.06,302.03 L355.41,302.03 L355.76,302.02 L356.12,302.02 L356.47,302.02 L356.82,302.02 L357.18,302.02 L357.53,302.02 L357.88,302.02 L358.24,302.02 L358.59,302.01 L358.94,302.01 L359.30,302.01 L359.65,302.01 L360.01,302.01 L360.36,302.01 L360.71,302.01 L361.07,302.00 L361.42,302.00 L361.77,302.00 L362.13,302.00 L362.48,302.00 L362.83,301.99 L363.19,301.99 L363.54,301.99 L363.90,301.99 L364.25,301.98 L364.60,301.98 L364.96,301.98 L365.31,301.97 L365.66,301.97 L366.02,301.97 L366.37,301.96 L366.72,301.96 L367.08,301.96 L367.43,301.95 L367.78,301.95 L368.14,301.94 L368.49,301.93 L368.85,301.93 L369.20,301.92 L369.55,301.91 L369.91,301.91 L370.26,301.90 L370.61,301.89 L370.97,301.88 L371.32,301.87 L371.67,301.85 L372.03,301.84 L372.38,301.83 L372.74,301.81 L373.09,301.80 L373.44,301.78 L373.80,301.76 L374.15,301.74 L374.50,301.72 L374.86,301.70 L375.21,301.67 L375.56,301.65 L375.92,301.62 L376.27,301.59 L376.62,301.55 L376.98,301.51 L377.33,301.47 L377.69,301.43 L378.04,301.39 L378.39,301.34 L378.75,301.28 L379.10,301.22 L379.45,301.16 L379.81,301.09 L380.16,301.02 L380.51,300.94 L380.87,300.85 L381.22,300.76 L381.58,300.66 L381.93,300.55 L382.28,300.44 L382.64,300.31 L382.99,300.18 L383.34,300.04 L383.70,299.88 L384.05,299.71 L384.40,299.53 L384.76,299.34 L385.11,299.13 L385.46,298.91 L385.82,298.67 L386.17,298.41 L386.53,298.13 L386.88,297.83 L387.23,297.51 L387.59,297.17 L387.94,296.81 L388.29,296.42 L388.65,296.00 L389.00,295.56 L389.35,295.09 L389.71,294.58 L390.06,294.05 L390.42,293.48 L390.77,292.88 L391.12,292.24 L391.48,291.57 L391.83,290.86 L392.18,290.11 L392.54,289.33 L392.89,288.51 L393.24,287.65 L393.60,286.76 L393.95,285.83 L394.30,284.87 L394.66,283.88 L395.01,282.86 L395.37,281.82 L395.72,280.76 L396.07,279.68 L396.43,278.59 L396.78,277.49 L397.13,276.40 L397.49,275.31 L397.84,274.25 L398.19,273.21 L398.55,272.20 L398.90,271.23 L399.26,270.32 L399.61,269.46 L399.96,268.68 L400.32,267.97 L400.67,267.35 L401.02,266.82 L401.38,266.39 L401.73,266.06 L402.08,265.84 L402.44,265.73 L402.79,265.75 L403.14,265.98 L403.50,266.39 L403.85,266.99 L404.21,267.75 L404.56,268.67 L404.91,269.73 L405.27,270.91 L405.62,272.19 L405.97,273.54 L406.33,274.96 L406.68,276.41 L407.03,277.88 L407.39,279.36 L407.74,280.82 L408.10,282.26 L408.45,283.67 L408.80,285.03 L409.16,286.33 L409.51,287.58 L409.86,288.77 L410.22,289.90 L410.57,290.96 L410.92,291.96 L411.28,292.89 L411.63,293.76 L411.98,294.57 L412.34,295.32 L412.69,296.02 L413.05,296.66 L413.40,297.24 L413.75,297.75 L414.11,298.23 L414.46,298.66 L414.81,299.05 L415.17,299.41 L415.52,299.74 L415.87,300.04 L416.23,300.31 L416.58,300.56 L416.94,300.78 L417.29,300.98 L417.64,301.17 L418.00,301.33 L418.35,301.49 L418.70,301.62 L419.06,301.75 L419.41,301.86 L419.76,301.96 L420.12,302.05 L420.47,302.13 L420.82,302.21 L421.18,302.28 L421.53,302.34 L421.89,302.39 L422.24,302.44 L422.59,302.49 L422.95,302.53 L423.30,302.56 L423.65,302.60 L424.01,302.63 L424.36,302.65 L424.71,302.68 L425.07,302.70 L425.42,302.72 L425.78,302.74 L426.13,302.75 L426.48,302.77 L426.84,302.78 L427.19,302.79 L427.54,302.80 L427.54,302.90 Z" fill="#c4686a" stroke="none" stroke-width="0" fill-opacity="0.88"/>
<path d="M296.00,302.76 L296.36,302.76 L296.71,302.76 L297.06,302.75 L297.42,302.75 L297.77,302.75 L298.13,302.74 L298.48,302.74 L298.83,302.73 L299.19,302.73 L299.54,302.73 L299.89,302.72 L300.25,302.72 L300.60,302.71 L300.95,302.71 L301.31,302.70 L301.66,302.70 L302.02,302.69 L302.37,302.69 L302.72,302.68 L303.08,302.68 L303.43,302.67 L303.78,302.67 L304.14,302.66 L304.49,302.66 L304.84,302.65 L305.20,302.65 L305.55,302.64 L305.90,302.64 L306.26,302.63 L306.61,302.63 L306.97,302.62 L307.32,302.61 L307.67,302.61 L308.03,302.60 L308.38,302.60 L308.73,302.59 L309.09,302.58 L309.44,302.58 L309.79,302.57 L310.15,302.56 L310.50,302.56 L310.86,302.55 L311.21,302.55 L311.56,302.54 L311.92,302.53 L312.27,302.53 L312.62,302.52 L312.98,302.51 L313.33,302.51 L313.68,302.50 L314.04,302.49 L314.39,302.49 L314.74,302.48 L315.10,302.47 L315.45,302.47 L315.81,302.46 L316.16,302.45 L316.51,302.45 L316.87,302.44 L317.22,302.43 L317.57,302.43 L317.93,302.42 L318.28,302.41 L318.63,302.41 L318.99,302.40 L319.34,302.39 L319.70,302.39 L320.05,302.38 L320.40,302.37 L320.76,302.37 L321.11,302.36 L321.46,302.35 L321.82,302.35 L322.17,302.34 L322.52,302.33 L322.88,302.33 L323.23,302.32 L323.58,302.31 L323.94,302.31 L324.29,302.30 L324.65,302.30 L325.00,302.29 L325.35,302.28 L325.71,302.28 L326.06,302.27 L326.41,302.27 L326.77,302.26 L327.12,302.26 L327.47,302.25 L327.83,302.25 L328.18,302.24 L328.54,302.23 L328.89,302.23 L329.24,302.22 L329.60,302.22 L329.95,302.21 L330.30,302.21 L330.66,302.20 L331.01,302.20 L331.36,302.19 L331.72,302.19 L332.07,302.19 L332.42,302.18 L332.78,302.18 L333.13,302.17 L333.49,302.17 L333.84,302.16 L334.19,302.16 L334.55,302.16 L334.90,302.15 L335.25,302.15 L335.61,302.15 L335.96,302.14 L336.31,302.14 L336.67,302.13 L337.02,302.13 L337.38,302.13 L337.73,302.12 L338.08,302.12 L338.44,302.12 L338.79,302.11 L339.14,302.11 L339.50,302.11 L339.85,302.11 L340.20,302.10 L340.56,302.10 L340.91,302.10 L341.26,302.09 L341.62,302.09 L341.97,302.09 L342.33,302.09 L342.68,302.08 L343.03,302.08 L343.39,302.08 L343.74,302.08 L344.09,302.08 L344.45,302.07 L344.80,302.07 L345.15,302.07 L345.51,302.07 L345.86,302.07 L346.22,302.06 L346.57,302.06 L346.92,302.06 L347.28,302.06 L347.63,302.06 L347.98,302.05 L348.34,302.05 L348.69,302.05 L349.04,302.05 L349.40,302.05 L349.75,302.05 L350.10,302.05 L350.46,302.04 L350.81,302.04 L351.17,302.04 L351.52,302.04 L351.87,302.04 L352.23,302.04 L352.58,302.04 L352.93,302.03 L353.29,302.03 L353.64,302.03 L353.99,302.03 L354.35,302.03 L354.70,302.03 L355.06,302.03 L355.41,302.03 L355.76,302.02 L356.12,302.02 L356.47,302.02 L356.82,302.02 L357.18,302.02 L357.53,302.02 L357.88,302.02 L358.24,302.01 L358.59,302.01 L358.94,302.01 L359.30,302.01 L359.65,302.01 L360.01,302.01 L360.36,302.01 L360.71,302.00 L361.07,302.00 L361.42,302.00 L361.77,302.00 L362.13,302.00 L362.48,302.00 L362.83,301.99 L363.19,301.99 L363.54,301.99 L363.90,301.99 L364.25,301.98 L364.60,301.98 L364.96,301.98 L365.31,301.97 L365.66,301.97 L366.02,301.97 L366.37,301.96 L366.72,301.96 L367.08,301.95 L367.43,301.95 L367.78,301.94 L368.14,301.94 L368.49,301.93 L368.85,301.93 L369.20,301.92 L369.55,301.91 L369.91,301.90 L370.26,301.90 L370.61,301.89 L370.97,301.88 L371.32,301.87 L371.67,301.85 L372.03,301.84 L372.38,301.83 L372.74,301.81 L373.09,301.80 L373.44,301.78 L373.80,301.76 L374.15,301.75 L374.50,301.72 L374.86,301.70" fill="none" stroke="#b0b0b0" stroke-width="0.9"/>
<path d="M296.00,302.76 L296.36,302.76 L296.71,302.76 L297.06,302.75 L297.42,302.75 L297.77,302.75 L298.13,302.74 L298.48,302.74 L298.83,302.73 L299.19,302.73 L299.54,302.73 L299.89,302.72 L300.25,302.72 L300.60,302.71 L300.95,302.71 L301.31,302.70 L301.66,302.70 L302.02,302.69 L302.37,302.69 L302.72,302.68 L303.08,302.68 L303.43,302.67 L303.78,302.67 L304.14,302.66 L304.49,302.66 L304.84,302.65 L305.20,302.65 L305.55,302.64 L305.90,302.64 L306.26,302.63 L306.61,302.63 L306.97,302.62 L307.32,302.61 L307.67,302.61 L308.03,302.60 L308.38,302.60 L308.73,302.59 L309.09,302.58 L309.44,302.58 L309.79,302.57 L310.15,302.56 L310.50,302.56 L310.86,302.55 L311.21,302.55 L311.56,302.54 L311.92,302.53 L312.27,302.53 L312.62,302.52 L312.98,302.51 L313.33,302.51 L313.68,302.50 L314.04,302.49 L314.39,302.49 L314.74,302.48 L315.10,302.47 L315.45,302.47 L315.81,302.46 L316.16,302.45 L316.51,302.45 L316.87,302.44 L317.22,302.43 L317.57,302.43 L317.93,302.42 L318.28,302.41 L318.63,302.41 L318.99,302.40 L319.34,302.39 L319.70,302.39 L320.05,302.38 L320.40,302.37 L320.76,302.37 L321.11,302.36 L321.46,302.35 L321.82,302.35 L322.17,302.34 L322.52,302.33 L322.88,302.33 L323.23,302.32 L323.58,302.31 L323.94,302.31 L324.29,302.30 L324.65,302.30 L325.00,302.29 L325.35,302.28 L325.71,302.28 L326.06,302.27 L326.41,302.27 L326.77,302.26 L327.12,302.26 L327.47,302.25 L327.83,302.25 L328.18,302.24 L328.54,302.23 L328.89,302.23 L329.24,302.22 L329.60,302.22 L329.95,302.21 L330.30,302.21 L330.66,302.20 L331.01,302.20 L331.36,302.19 L331.72,302.19 L332.07,302.19 L332.42,302.18 L332.78,302.18 L333.13,302.17 L333.49,302.17 L333.84,302.16 L334.19,302.16 L334.55,302.16 L334.90,302.15 L335.25,302.15 L335.61,302.15 L335.96,302.14 L336.31,302.14 L336.67,302.13 L337.02,302.13 L337.38,302.13 L337.73,302.12 L338.08,302.12 L338.44,302.12 L338.79,302.11 L339.14,302.11 L339.50,302.11 L339.85,302.11 L340.20,302.10 L340.56,302.10 L340.91,302.10 L341.26,302.09 L341.62,302.09 L341.97,302.09 L342.33,302.09 L342.68,302.08 L343.03,302.08 L343.39,302.08 L343.74,302.08 L344.09,302.08 L344.45,302.07 L344.80,302.07 L345.15,302.07 L345.51,302.07 L345.86,302.07 L346.22,302.06 L346.57,302.06 L346.92,302.06 L347.28,302.06 L347.63,302.06 L347.98,302.05 L348.34,302.05 L348.69,302.05 L349.04,302.05 L349.40,302.05 L349.75,302.05 L350.10,302.05 L350.46,302.04 L350.81,302.04 L351.17,302.04 L351.52,302.04 L351.87,302.04 L352.23,302.04 L352.58,302.04 L352.93,302.03 L353.29,302.03 L353.64,302.03 L353.99,302.03 L354.35,302.03 L354.70,302.03 L355.06,302.03 L355.41,302.03 L355.76,302.02 L356.12,302.02 L356.47,302.02 L356.82,302.02 L357.18,302.02 L357.53,302.02 L357.88,302.02 L358.24,302.02 L358.59,302.01 L358.94,302.01 L359.30,302.01 L359.65,302.01 L360.01,302.01 L360.36,302.01 L360.71,302.01 L361.07,302.00 L361.42,302.00 L361.77,302.00 L362.13,302.00 L362.48,302.00 L362.83,301.99 L363.19,301.99 L363.54,301.99 L363.90,301.99 L364.25,301.98 L364.60,301.98 L364.96,301.98 L365.31,301.97 L365.66,301.97 L366.02,301.97 L366.37,301.96 L366.72,301.96 L367.08,301.96 L367.43,301.95 L367.78,301.95 L368.14,301.94 L368.49,301.93 L368.85,301.93 L369.20,301.92 L369.55,301.91 L369.91,301.91 L370.26,301.90 L370.61,301.89 L370.97,301.88 L371.32,301.87 L371.67,301.85 L372.03,301.84 L372.38,301.83 L372.74,301.81 L373.09,301.80 L373.44,301.78 L373.80,301.76 L374.15,301.74 L374.50,301.72 L374.86,301.70" fill="none" stroke="#a8a8a8" stroke-width="0.9"/>
<defs><linearGradient id="lg1" gradientUnits="userSpaceOnUse" x1="374.7" y1="0" x2="385.3" y2="0"><stop offset="0" stop-color="#a8a8a8"/><stop offset="1" stop-color="#4a4a4a"/></linearGradient></defs>
<path d="M374.50,301.72 L374.86,301.70 L375.21,301.68 L375.56,301.65 L375.92,301.62 L376.27,301.59 L376.62,301.56 L376.98,301.53 L377.33,301.49 L377.69,301.45 L378.04,301.40 L378.39,301.35 L378.75,301.30 L379.10,301.25 L379.45,301.19 L379.81,301.12 L380.16,301.05 L380.51,300.98 L380.87,300.90 L381.22,300.81 L381.58,300.72 L381.93,300.62 L382.28,300.51 L382.64,300.39 L382.99,300.27 L383.34,300.13 L383.70,299.99 L384.05,299.83 L384.40,299.66 L384.76,299.48 L385.11,299.29 L385.46,299.08 L385.82,298.86 L386.17,298.62 L386.53,298.36 L386.88,298.09 L387.23,297.79 L387.59,297.48 L387.94,297.14 L388.29,296.78 L388.65,296.40 L389.00,295.99 L389.35,295.55 L389.71,295.09 L390.06,294.60 L390.42,294.08 L390.77,293.52 L391.12,292.94 L391.48,292.32 L391.83,291.67 L392.18,290.98 L392.54,290.26 L392.89,289.50 L393.24,288.71 L393.60,287.88 L393.95,287.02 L394.30,286.12 L394.66,285.20 L395.01,284.25 L395.37,283.27 L395.72,282.26 L396.07,281.24 L396.43,280.20 L396.78,279.15 L397.13,278.09 L397.49,277.04 L397.84,275.99 L398.19,274.96 L398.55,273.95 L398.90,272.97 L399.26,272.02 L399.61,271.13 L399.96,270.28 L400.32,269.50 L400.67,268.79 L401.02,268.16 L401.38,267.62 L401.73,267.16 L402.08,266.80 L402.44,266.54 L402.79,266.38 L403.14,266.33 L403.50,266.44 L403.85,266.73 L404.21,267.17 L404.56,267.77 L404.91,268.52 L405.27,269.40 L405.62,270.39 L405.97,271.49 L406.33,272.68 L406.68,273.93 L407.03,275.24 L407.39,276.58 L407.74,277.94 L408.10,279.31 L408.45,280.67 L408.80,282.02 L409.16,283.34 L409.51,284.62 L409.86,285.86 L410.22,287.06 L410.57,288.20 L410.92,289.29 L411.28,290.32 L411.63,291.30 L411.98,292.22 L412.34,293.08 L412.69,293.89 L413.05,294.65 L413.40,295.36 L413.75,296.01 L414.11,296.60 L414.46,297.13 L414.81,297.63 L415.17,298.08 L415.52,298.50 L415.87,298.89 L416.23,299.24 L416.58,299.56 L416.94,299.86 L417.29,300.13 L417.64,300.38 L418.00,300.61 L418.35,300.81 L418.70,301.00 L419.06,301.17 L419.41,301.33 L419.76,301.47 L420.12,301.60 L420.47,301.72 L420.82,301.83 L421.18,301.93 L421.53,302.02 L421.89,302.10 L422.24,302.17 L422.59,302.24 L422.95,302.30 L423.30,302.36 L423.65,302.41 L424.01,302.45 L424.36,302.49 L424.71,302.53 L425.07,302.56 L425.42,302.60 L425.78,302.62 L426.13,302.65 L426.48,302.67 L426.84,302.69 L427.19,302.71 L427.54,302.73" fill="none" stroke="#4f5a66" stroke-width="1.2"/>
<path d="M374.50,301.72 L374.86,301.70 L375.21,301.67 L375.56,301.65 L375.92,301.62 L376.27,301.59 L376.62,301.55 L376.98,301.51 L377.33,301.47 L377.69,301.43 L378.04,301.39 L378.39,301.34 L378.75,301.28 L379.10,301.22 L379.45,301.16 L379.81,301.09 L380.16,301.02 L380.51,300.94 L380.87,300.85 L381.22,300.76 L381.58,300.66 L381.93,300.55 L382.28,300.44 L382.64,300.31 L382.99,300.18 L383.34,300.04 L383.70,299.88 L384.05,299.71 L384.40,299.53 L384.76,299.34 L385.11,299.13 L385.46,298.91 L385.82,298.67 L386.17,298.41 L386.53,298.13 L386.88,297.83 L387.23,297.51 L387.59,297.17 L387.94,296.81 L388.29,296.42 L388.65,296.00 L389.00,295.56 L389.35,295.09 L389.71,294.58 L390.06,294.05 L390.42,293.48 L390.77,292.88 L391.12,292.24 L391.48,291.57 L391.83,290.86 L392.18,290.11 L392.54,289.33 L392.89,288.51 L393.24,287.65 L393.60,286.76 L393.95,285.83 L394.30,284.87 L394.66,283.88 L395.01,282.86 L395.37,281.82 L395.72,280.76 L396.07,279.68 L396.43,278.59 L396.78,277.49 L397.13,276.40 L397.49,275.31 L397.84,274.25 L398.19,273.21 L398.55,272.20 L398.90,271.23 L399.26,270.32 L399.61,269.46 L399.96,268.68 L400.32,267.97 L400.67,267.35 L401.02,266.82 L401.38,266.39 L401.73,266.06 L402.08,265.84 L402.44,265.73 L402.79,265.75 L403.14,265.98 L403.50,266.39 L403.85,266.99 L404.21,267.75 L404.56,268.67 L404.91,269.73 L405.27,270.91 L405.62,272.19 L405.97,273.54 L406.33,274.96 L406.68,276.41 L407.03,277.88 L407.39,279.36 L407.74,280.82 L408.10,282.26 L408.45,283.67 L408.80,285.03 L409.16,286.33 L409.51,287.58 L409.86,288.77 L410.22,289.90 L410.57,290.96 L410.92,291.96 L411.28,292.89 L411.63,293.76 L411.98,294.57 L412.34,295.32 L412.69,296.02 L413.05,296.66 L413.40,297.24 L413.75,297.75 L414.11,298.23 L414.46,298.66 L414.81,299.05 L415.17,299.41 L415.52,299.74 L415.87,300.04 L416.23,300.31 L416.58,300.56 L416.94,300.78 L417.29,300.98 L417.64,301.17 L418.00,301.33 L418.35,301.49 L418.70,301.62 L419.06,301.75 L419.41,301.86 L419.76,301.96 L420.12,302.05 L420.47,302.13 L420.82,302.21 L421.18,302.28 L421.53,302.34 L421.89,302.39 L422.24,302.44 L422.59,302.49 L422.95,302.53 L423.30,302.56 L423.65,302.60 L424.01,302.63 L424.36,302.65 L424.71,302.68 L425.07,302.70 L425.42,302.72 L425.78,302.74 L426.13,302.75 L426.48,302.77 L426.84,302.78 L427.19,302.79 L427.54,302.80" fill="none" stroke="url(#lg1)" stroke-width="1.2"/>
<line x1="289.00" y1="305.20" x2="432.00" y2="305.20" stroke="#222" stroke-width="0.9"/>
<line x1="289.00" y1="259.50" x2="289.00" y2="305.20" stroke="#222" stroke-width="0.9"/>
<line x1="286.20" y1="302.90" x2="289.00" y2="302.90" stroke="#222" stroke-width="0.8"/>
<text x="283.40" y="305.00" font-size="6.1" text-anchor="end" fill="#2a2a2a" stroke="#2a2a2a" stroke-width="0.15">0.00</text>
<line x1="286.20" y1="292.65" x2="289.00" y2="292.65" stroke="#222" stroke-width="0.8"/>
<text x="283.40" y="294.75" font-size="6.1" text-anchor="end" fill="#2a2a2a" stroke="#2a2a2a" stroke-width="0.15">0.25</text>
<line x1="286.20" y1="282.40" x2="289.00" y2="282.40" stroke="#222" stroke-width="0.8"/>
<text x="283.40" y="284.50" font-size="6.1" text-anchor="end" fill="#2a2a2a" stroke="#2a2a2a" stroke-width="0.15">0.50</text>
<line x1="286.20" y1="272.15" x2="289.00" y2="272.15" stroke="#222" stroke-width="0.8"/>
<text x="283.40" y="274.25" font-size="6.1" text-anchor="end" fill="#2a2a2a" stroke="#2a2a2a" stroke-width="0.15">0.75</text>
<line x1="286.20" y1="261.90" x2="289.00" y2="261.90" stroke="#222" stroke-width="0.8"/>
<text x="283.40" y="264.00" font-size="6.1" text-anchor="end" fill="#2a2a2a" stroke="#2a2a2a" stroke-width="0.15">1.00</text>
<line x1="295.12" y1="305.20" x2="295.12" y2="307.60" stroke="#222" stroke-width="0.8"/>
<text x="295.12" y="316.50" font-size="5.8" text-anchor="middle" fill="#2a2a2a" stroke="#2a2a2a" stroke-width="0.15">−6</text>
<line x1="312.80" y1="305.20" x2="312.80" y2="307.60" stroke="#222" stroke-width="0.8"/>
<text x="312.80" y="316.50" font-size="5.8" text-anchor="middle" fill="#2a2a2a" stroke="#2a2a2a" stroke-width="0.15">−5</text>
<line x1="330.48" y1="305.20" x2="330.48" y2="307.60" stroke="#222" stroke-width="0.8"/>
<text x="330.48" y="316.50" font-size="5.8" text-anchor="middle" fill="#2a2a2a" stroke="#2a2a2a" stroke-width="0.15">−4</text>
<line x1="348.16" y1="305.20" x2="348.16" y2="307.60" stroke="#222" stroke-width="0.8"/>
<text x="348.16" y="316.50" font-size="5.8" text-anchor="middle" fill="#2a2a2a" stroke="#2a2a2a" stroke-width="0.15">−3</text>
<line x1="365.84" y1="305.20" x2="365.84" y2="307.60" stroke="#222" stroke-width="0.8"/>
<text x="365.84" y="316.50" font-size="5.8" text-anchor="middle" fill="#2a2a2a" stroke="#2a2a2a" stroke-width="0.15">−2</text>
<line x1="383.52" y1="305.20" x2="383.52" y2="307.60" stroke="#222" stroke-width="0.8"/>
<text x="383.52" y="316.50" font-size="5.8" text-anchor="middle" fill="#2a2a2a" stroke="#2a2a2a" stroke-width="0.15">−1</text>
<line x1="401.20" y1="305.20" x2="401.20" y2="307.60" stroke="#222" stroke-width="0.8"/>
<text x="401.20" y="316.50" font-size="5.8" text-anchor="middle" fill="#2a2a2a" stroke="#2a2a2a" stroke-width="0.15">0</text>
<line x1="418.88" y1="305.20" x2="418.88" y2="307.60" stroke="#222" stroke-width="0.8"/>
<text x="418.88" y="316.50" font-size="5.8" text-anchor="middle" fill="#2a2a2a" stroke="#2a2a2a" stroke-width="0.15">1</text>
<text x="0" y="2.41" font-size="7.0" text-anchor="middle" textLength="18.3" lengthAdjust="spacingAndGlyphs" fill="#111" stroke="#111" stroke-width="0.15" transform="translate(263.40,283.00) rotate(-90)">Density</text>
<text x="453.60" y="271.73" font-size="5.9" fill="#2a2a2a" stroke="#2a2a2a" stroke-width="0.15">Total sgRNAs</text>
<rect x="454.20" y="279.70" width="6.00" height="6.00" fill="#b06466" stroke="#444" stroke-width="0.7"/>
<rect x="455.70" y="281.20" width="3.00" height="3.00" fill="#dcaaaa" stroke="none" stroke-width="0.6"/>
<text x="462.90" y="284.70" font-size="5.8" fill="#2a2a2a" stroke="#2a2a2a" stroke-width="0.15">Kasumi-1</text>
<rect x="454.20" y="290.60" width="6.00" height="6.00" fill="#41708e" stroke="#444" stroke-width="0.7"/>
<rect x="455.70" y="292.10" width="3.00" height="3.00" fill="#9cb7c9" stroke="none" stroke-width="0.6"/>
<text x="462.90" y="295.60" font-size="5.8" fill="#2a2a2a" stroke="#2a2a2a" stroke-width="0.15">SKNO-1</text>
<rect x="294.24" y="322.10" width="7.96" height="17.90" fill="#ffffff" stroke="none" stroke-width="0.6"/>
<rect x="302.19" y="322.10" width="24.40" height="17.90" fill="#f8f8f8" stroke="none" stroke-width="0.6"/>
<rect x="326.59" y="322.10" width="32.18" height="17.90" fill="#e8e8e8" stroke="none" stroke-width="0.6"/>
<rect x="358.77" y="322.10" width="12.38" height="17.90" fill="#d4d4d4" stroke="none" stroke-width="0.6"/>
<rect x="371.14" y="322.10" width="8.84" height="17.90" fill="#c4c4c4" stroke="none" stroke-width="0.6"/>
<rect x="379.98" y="322.10" width="31.82" height="17.90" fill="#bcbcbc" stroke="none" stroke-width="0.6"/>
<rect x="411.81" y="322.10" width="5.48" height="17.90" fill="#c6c6c6" stroke="none" stroke-width="0.6"/>
<rect x="417.29" y="322.10" width="7.78" height="17.90" fill="#dcdcdc" stroke="none" stroke-width="0.6"/>
<rect x="425.07" y="322.10" width="8.84" height="17.90" fill="#f7f7f7" stroke="none" stroke-width="0.6"/>
<line x1="362.46" y1="322.10" x2="362.46" y2="340.00" stroke="#9a9a9a" stroke-opacity="0.18" stroke-width="0.5"/>
<line x1="360.05" y1="322.10" x2="360.05" y2="340.00" stroke="#9a9a9a" stroke-opacity="0.18" stroke-width="0.5"/>
<line x1="362.65" y1="322.10" x2="362.65" y2="340.00" stroke="#9a9a9a" stroke-opacity="0.18" stroke-width="0.5"/>
<line x1="360.88" y1="322.10" x2="360.88" y2="340.00" stroke="#9a9a9a" stroke-opacity="0.18" stroke-width="0.5"/>
<line x1="425.84" y1="322.10" x2="425.84" y2="340.00" stroke="#9a9a9a" stroke-opacity="0.18" stroke-width="0.5"/>
<line x1="364.43" y1="322.10" x2="364.43" y2="340.00" stroke="#9a9a9a" stroke-opacity="0.18" stroke-width="0.5"/>
<line x1="349.46" y1="322.10" x2="349.46" y2="340.00" stroke="#9a9a9a" stroke-opacity="0.18" stroke-width="0.5"/>
<line x1="357.96" y1="322.10" x2="357.96" y2="340.00" stroke="#9a9a9a" stroke-opacity="0.18" stroke-width="0.5"/>
<line x1="356.72" y1="322.10" x2="356.72" y2="340.00" stroke="#9a9a9a" stroke-opacity="0.18" stroke-width="0.5"/>
<line x1="360.18" y1="322.10" x2="360.18" y2="340.00" stroke="#9a9a9a" stroke-opacity="0.18" stroke-width="0.5"/>
<line x1="367.47" y1="322.10" x2="367.47" y2="340.00" stroke="#9a9a9a" stroke-opacity="0.18" stroke-width="0.5"/>
<line x1="371.93" y1="322.10" x2="371.93" y2="340.00" stroke="#9a9a9a" stroke-opacity="0.18" stroke-width="0.5"/>
<line x1="419.63" y1="322.10" x2="419.63" y2="340.00" stroke="#9a9a9a" stroke-opacity="0.18" stroke-width="0.5"/>
<line x1="428.33" y1="322.10" x2="428.33" y2="340.00" stroke="#9a9a9a" stroke-opacity="0.18" stroke-width="0.5"/>
<line x1="367.28" y1="322.10" x2="367.28" y2="340.00" stroke="#9a9a9a" stroke-opacity="0.18" stroke-width="0.5"/>
<line x1="425.33" y1="322.10" x2="425.33" y2="340.00" stroke="#9a9a9a" stroke-opacity="0.18" stroke-width="0.5"/>
<line x1="431.36" y1="322.10" x2="431.36" y2="340.00" stroke="#9a9a9a" stroke-opacity="0.18" stroke-width="0.5"/>
<line x1="364.49" y1="322.10" x2="364.49" y2="340.00" stroke="#9a9a9a" stroke-opacity="0.18" stroke-width="0.5"/>
<line x1="431.41" y1="322.10" x2="431.41" y2="340.00" stroke="#9a9a9a" stroke-opacity="0.18" stroke-width="0.5"/>
<line x1="370.27" y1="322.10" x2="370.27" y2="340.00" stroke="#9a9a9a" stroke-opacity="0.18" stroke-width="0.5"/>
<line x1="421.73" y1="322.10" x2="421.73" y2="340.00" stroke="#9a9a9a" stroke-opacity="0.18" stroke-width="0.5"/>
<line x1="349.44" y1="322.10" x2="349.44" y2="340.00" stroke="#9a9a9a" stroke-opacity="0.18" stroke-width="0.5"/>
<line x1="369.76" y1="322.10" x2="369.76" y2="340.00" stroke="#9a9a9a" stroke-opacity="0.18" stroke-width="0.5"/>
<line x1="426.18" y1="322.10" x2="426.18" y2="340.00" stroke="#9a9a9a" stroke-opacity="0.18" stroke-width="0.5"/>
<line x1="367.51" y1="322.10" x2="367.51" y2="340.00" stroke="#9a9a9a" stroke-opacity="0.18" stroke-width="0.5"/>
<line x1="336.13" y1="322.10" x2="336.13" y2="340.00" stroke="#9a9a9a" stroke-opacity="0.18" stroke-width="0.5"/>
<line x1="369.51" y1="322.10" x2="369.51" y2="340.00" stroke="#9a9a9a" stroke-opacity="0.18" stroke-width="0.5"/>
<line x1="426.39" y1="322.10" x2="426.39" y2="340.00" stroke="#9a9a9a" stroke-opacity="0.18" stroke-width="0.5"/>
<line x1="423.33" y1="322.10" x2="423.33" y2="340.00" stroke="#9a9a9a" stroke-opacity="0.18" stroke-width="0.5"/>
<line x1="348.72" y1="322.10" x2="348.72" y2="340.00" stroke="#9a9a9a" stroke-opacity="0.18" stroke-width="0.5"/>
<line x1="359.25" y1="322.10" x2="359.25" y2="340.00" stroke="#9a9a9a" stroke-opacity="0.18" stroke-width="0.5"/>
<line x1="427.45" y1="322.10" x2="427.45" y2="340.00" stroke="#9a9a9a" stroke-opacity="0.18" stroke-width="0.5"/>
<line x1="423.96" y1="322.10" x2="423.96" y2="340.00" stroke="#9a9a9a" stroke-opacity="0.18" stroke-width="0.5"/>
<line x1="362.19" y1="322.10" x2="362.19" y2="340.00" stroke="#9a9a9a" stroke-opacity="0.18" stroke-width="0.5"/>
<line x1="334.40" y1="322.10" x2="334.40" y2="340.00" stroke="#9a9a9a" stroke-opacity="0.18" stroke-width="0.5"/>
<line x1="422.99" y1="322.10" x2="422.99" y2="340.00" stroke="#9a9a9a" stroke-opacity="0.18" stroke-width="0.5"/>
<rect x="346.80" y="322.70" width="1.40" height="9.25" fill="#d21c3c" stroke="none" stroke-width="0.6"/>
<rect x="351.10" y="322.70" width="1.40" height="9.25" fill="#d21c3c" stroke="none" stroke-width="0.6"/>
<rect x="363.70" y="322.70" width="1.40" height="9.25" fill="#d21c3c" stroke="none" stroke-width="0.6"/>
<rect x="365.50" y="322.70" width="1.40" height="9.25" fill="#d21c3c" stroke="none" stroke-width="0.6"/>
<rect x="376.60" y="322.70" width="1.40" height="9.25" fill="#d21c3c" stroke="none" stroke-width="0.6"/>
<rect x="402.10" y="322.70" width="1.40" height="9.25" fill="#d21c3c" stroke="none" stroke-width="0.6"/>
<rect x="360.30" y="330.45" width="1.40" height="8.85" fill="#1c6896" stroke="none" stroke-width="0.6"/>
<rect x="361.70" y="330.45" width="1.40" height="8.85" fill="#1c6896" stroke="none" stroke-width="0.6"/>
<rect x="372.00" y="330.45" width="1.40" height="8.85" fill="#1c6896" stroke="none" stroke-width="0.6"/>
<rect x="374.50" y="330.45" width="1.40" height="8.85" fill="#1c6896" stroke="none" stroke-width="0.6"/>
<rect x="408.90" y="330.45" width="1.40" height="8.85" fill="#1c6896" stroke="none" stroke-width="0.6"/>
<rect x="288.90" y="322.10" width="145.30" height="17.90" rx="1.2" fill="none" stroke="#333" stroke-width="0.9"/>
<line x1="285.40" y1="331.05" x2="288.90" y2="331.05" stroke="#222" stroke-width="0.8"/>
<text x="283.00" y="333.11" font-size="6.0" text-anchor="end" fill="#2a2a2a" stroke="#2a2a2a" stroke-width="0.15">HASPIN</text>
<rect x="294.24" y="346.20" width="7.96" height="17.80" fill="#ffffff" stroke="none" stroke-width="0.6"/>
<rect x="302.19" y="346.20" width="24.40" height="17.80" fill="#f8f8f8" stroke="none" stroke-width="0.6"/>
<rect x="326.59" y="346.20" width="32.18" height="17.80" fill="#e8e8e8" stroke="none" stroke-width="0.6"/>
<rect x="358.77" y="346.20" width="12.38" height="17.80" fill="#d4d4d4" stroke="none" stroke-width="0.6"/>
<rect x="371.14" y="346.20" width="8.84" height="17.80" fill="#c4c4c4" stroke="none" stroke-width="0.6"/>
<rect x="379.98" y="346.20" width="31.82" height="17.80" fill="#bcbcbc" stroke="none" stroke-width="0.6"/>
<rect x="411.81" y="346.20" width="5.48" height="17.80" fill="#c6c6c6" stroke="none" stroke-width="0.6"/>
<rect x="417.29" y="346.20" width="7.78" height="17.80" fill="#dcdcdc" stroke="none" stroke-width="0.6"/>
<rect x="425.07" y="346.20" width="8.84" height="17.80" fill="#f7f7f7" stroke="none" stroke-width="0.6"/>
<line x1="362.46" y1="346.20" x2="362.46" y2="364.00" stroke="#9a9a9a" stroke-opacity="0.18" stroke-width="0.5"/>
<line x1="360.05" y1="346.20" x2="360.05" y2="364.00" stroke="#9a9a9a" stroke-opacity="0.18" stroke-width="0.5"/>
<line x1="362.65" y1="346.20" x2="362.65" y2="364.00" stroke="#9a9a9a" stroke-opacity="0.18" stroke-width="0.5"/>
<line x1="360.88" y1="346.20" x2="360.88" y2="364.00" stroke="#9a9a9a" stroke-opacity="0.18" stroke-width="0.5"/>
<line x1="425.84" y1="346.20" x2="425.84" y2="364.00" stroke="#9a9a9a" stroke-opacity="0.18" stroke-width="0.5"/>
<line x1="364.43" y1="346.20" x2="364.43" y2="364.00" stroke="#9a9a9a" stroke-opacity="0.18" stroke-width="0.5"/>
<line x1="349.46" y1="346.20" x2="349.46" y2="364.00" stroke="#9a9a9a" stroke-opacity="0.18" stroke-width="0.5"/>
<line x1="357.96" y1="346.20" x2="357.96" y2="364.00" stroke="#9a9a9a" stroke-opacity="0.18" stroke-width="0.5"/>
<line x1="356.72" y1="346.20" x2="356.72" y2="364.00" stroke="#9a9a9a" stroke-opacity="0.18" stroke-width="0.5"/>
<line x1="360.18" y1="346.20" x2="360.18" y2="364.00" stroke="#9a9a9a" stroke-opacity="0.18" stroke-width="0.5"/>
<line x1="367.47" y1="346.20" x2="367.47" y2="364.00" stroke="#9a9a9a" stroke-opacity="0.18" stroke-width="0.5"/>
<line x1="371.93" y1="346.20" x2="371.93" y2="364.00" stroke="#9a9a9a" stroke-opacity="0.18" stroke-width="0.5"/>
<line x1="419.63" y1="346.20" x2="419.63" y2="364.00" stroke="#9a9a9a" stroke-opacity="0.18" stroke-width="0.5"/>
<line x1="428.33" y1="346.20" x2="428.33" y2="364.00" stroke="#9a9a9a" stroke-opacity="0.18" stroke-width="0.5"/>
<line x1="367.28" y1="346.20" x2="367.28" y2="364.00" stroke="#9a9a9a" stroke-opacity="0.18" stroke-width="0.5"/>
<line x1="425.33" y1="346.20" x2="425.33" y2="364.00" stroke="#9a9a9a" stroke-opacity="0.18" stroke-width="0.5"/>
<line x1="431.36" y1="346.20" x2="431.36" y2="364.00" stroke="#9a9a9a" stroke-opacity="0.18" stroke-width="0.5"/>
<line x1="364.49" y1="346.20" x2="364.49" y2="364.00" stroke="#9a9a9a" stroke-opacity="0.18" stroke-width="0.5"/>
<line x1="431.41" y1="346.20" x2="431.41" y2="364.00" stroke="#9a9a9a" stroke-opacity="0.18" stroke-width="0.5"/>
<line x1="370.27" y1="346.20" x2="370.27" y2="364.00" stroke="#9a9a9a" stroke-opacity="0.18" stroke-width="0.5"/>
<line x1="421.73" y1="346.20" x2="421.73" y2="364.00" stroke="#9a9a9a" stroke-opacity="0.18" stroke-width="0.5"/>
<line x1="349.44" y1="346.20" x2="349.44" y2="364.00" stroke="#9a9a9a" stroke-opacity="0.18" stroke-width="0.5"/>
<line x1="369.76" y1="346.20" x2="369.76" y2="364.00" stroke="#9a9a9a" stroke-opacity="0.18" stroke-width="0.5"/>
<line x1="426.18" y1="346.20" x2="426.18" y2="364.00" stroke="#9a9a9a" stroke-opacity="0.18" stroke-width="0.5"/>
<line x1="367.51" y1="346.20" x2="367.51" y2="364.00" stroke="#9a9a9a" stroke-opacity="0.18" stroke-width="0.5"/>
<line x1="336.13" y1="346.20" x2="336.13" y2="364.00" stroke="#9a9a9a" stroke-opacity="0.18" stroke-width="0.5"/>
<line x1="369.51" y1="346.20" x2="369.51" y2="364.00" stroke="#9a9a9a" stroke-opacity="0.18" stroke-width="0.5"/>
<line x1="426.39" y1="346.20" x2="426.39" y2="364.00" stroke="#9a9a9a" stroke-opacity="0.18" stroke-width="0.5"/>
<line x1="423.33" y1="346.20" x2="423.33" y2="364.00" stroke="#9a9a9a" stroke-opacity="0.18" stroke-width="0.5"/>
<line x1="348.72" y1="346.20" x2="348.72" y2="364.00" stroke="#9a9a9a" stroke-opacity="0.18" stroke-width="0.5"/>
<line x1="359.25" y1="346.20" x2="359.25" y2="364.00" stroke="#9a9a9a" stroke-opacity="0.18" stroke-width="0.5"/>
<line x1="427.45" y1="346.20" x2="427.45" y2="364.00" stroke="#9a9a9a" stroke-opacity="0.18" stroke-width="0.5"/>
<line x1="423.96" y1="346.20" x2="423.96" y2="364.00" stroke="#9a9a9a" stroke-opacity="0.18" stroke-width="0.5"/>
<line x1="362.19" y1="346.20" x2="362.19" y2="364.00" stroke="#9a9a9a" stroke-opacity="0.18" stroke-width="0.5"/>
<line x1="334.40" y1="346.20" x2="334.40" y2="364.00" stroke="#9a9a9a" stroke-opacity="0.18" stroke-width="0.5"/>
<line x1="422.99" y1="346.20" x2="422.99" y2="364.00" stroke="#9a9a9a" stroke-opacity="0.18" stroke-width="0.5"/>
<rect x="319.70" y="346.80" width="1.40" height="9.20" fill="#d21c3c" stroke="none" stroke-width="0.6"/>
<rect x="333.10" y="346.80" width="1.40" height="9.20" fill="#d21c3c" stroke="none" stroke-width="0.6"/>
<rect x="334.10" y="346.80" width="1.40" height="9.20" fill="#d21c3c" stroke="none" stroke-width="0.6"/>
<rect x="358.10" y="346.80" width="1.40" height="9.20" fill="#d21c3c" stroke="none" stroke-width="0.6"/>
<rect x="382.10" y="346.80" width="1.40" height="9.20" fill="#d21c3c" stroke="none" stroke-width="0.6"/>
<rect x="409.80" y="346.80" width="1.40" height="9.20" fill="#d21c3c" stroke="none" stroke-width="0.6"/>
<rect x="339.10" y="354.50" width="1.40" height="8.80" fill="#1c6896" stroke="none" stroke-width="0.6"/>
<rect x="351.30" y="354.50" width="1.40" height="8.80" fill="#1c6896" stroke="none" stroke-width="0.6"/>
<rect x="362.80" y="354.50" width="1.40" height="8.80" fill="#1c6896" stroke="none" stroke-width="0.6"/>
<rect x="366.80" y="354.50" width="1.40" height="8.80" fill="#1c6896" stroke="none" stroke-width="0.6"/>
<rect x="392.00" y="354.50" width="1.40" height="8.80" fill="#1c6896" stroke="none" stroke-width="0.6"/>
<rect x="397.50" y="354.50" width="1.40" height="8.80" fill="#1c6896" stroke="none" stroke-width="0.6"/>
<rect x="288.90" y="346.20" width="145.30" height="17.80" rx="1.2" fill="none" stroke="#333" stroke-width="0.9"/>
<line x1="285.40" y1="355.10" x2="288.90" y2="355.10" stroke="#222" stroke-width="0.8"/>
<text x="283.00" y="357.16" font-size="6.0" text-anchor="end" fill="#2a2a2a" stroke="#2a2a2a" stroke-width="0.15">KIT</text>
<rect x="294.24" y="369.90" width="7.96" height="18.00" fill="#ffffff" stroke="none" stroke-width="0.6"/>
<rect x="302.19" y="369.90" width="24.40" height="18.00" fill="#f8f8f8" stroke="none" stroke-width="0.6"/>
<rect x="326.59" y="369.90" width="32.18" height="18.00" fill="#e8e8e8" stroke="none" stroke-width="0.6"/>
<rect x="358.77" y="369.90" width="12.38" height="18.00" fill="#d4d4d4" stroke="none" stroke-width="0.6"/>
<rect x="371.14" y="369.90" width="8.84" height="18.00" fill="#c4c4c4" stroke="none" stroke-width="0.6"/>
<rect x="379.98" y="369.90" width="31.82" height="18.00" fill="#bcbcbc" stroke="none" stroke-width="0.6"/>
<rect x="411.81" y="369.90" width="5.48" height="18.00" fill="#c6c6c6" stroke="none" stroke-width="0.6"/>
<rect x="417.29" y="369.90" width="7.78" height="18.00" fill="#dcdcdc" stroke="none" stroke-width="0.6"/>
<rect x="425.07" y="369.90" width="8.84" height="18.00" fill="#f7f7f7" stroke="none" stroke-width="0.6"/>
<line x1="362.46" y1="369.90" x2="362.46" y2="387.90" stroke="#9a9a9a" stroke-opacity="0.18" stroke-width="0.5"/>
<line x1="360.05" y1="369.90" x2="360.05" y2="387.90" stroke="#9a9a9a" stroke-opacity="0.18" stroke-width="0.5"/>
<line x1="362.65" y1="369.90" x2="362.65" y2="387.90" stroke="#9a9a9a" stroke-opacity="0.18" stroke-width="0.5"/>
<line x1="360.88" y1="369.90" x2="360.88" y2="387.90" stroke="#9a9a9a" stroke-opacity="0.18" stroke-width="0.5"/>
<line x1="425.84" y1="369.90" x2="425.84" y2="387.90" stroke="#9a9a9a" stroke-opacity="0.18" stroke-width="0.5"/>
<line x1="364.43" y1="369.90" x2="364.43" y2="387.90" stroke="#9a9a9a" stroke-opacity="0.18" stroke-width="0.5"/>
<line x1="349.46" y1="369.90" x2="349.46" y2="387.90" stroke="#9a9a9a" stroke-opacity="0.18" stroke-width="0.5"/>
<line x1="357.96" y1="369.90" x2="357.96" y2="387.90" stroke="#9a9a9a" stroke-opacity="0.18" stroke-width="0.5"/>
<line x1="356.72" y1="369.90" x2="356.72" y2="387.90" stroke="#9a9a9a" stroke-opacity="0.18" stroke-width="0.5"/>
<line x1="360.18" y1="369.90" x2="360.18" y2="387.90" stroke="#9a9a9a" stroke-opacity="0.18" stroke-width="0.5"/>
<line x1="367.47" y1="369.90" x2="367.47" y2="387.90" stroke="#9a9a9a" stroke-opacity="0.18" stroke-width="0.5"/>
<line x1="371.93" y1="369.90" x2="371.93" y2="387.90" stroke="#9a9a9a" stroke-opacity="0.18" stroke-width="0.5"/>
<line x1="419.63" y1="369.90" x2="419.63" y2="387.90" stroke="#9a9a9a" stroke-opacity="0.18" stroke-width="0.5"/>
<line x1="428.33" y1="369.90" x2="428.33" y2="387.90" stroke="#9a9a9a" stroke-opacity="0.18" stroke-width="0.5"/>
<line x1="367.28" y1="369.90" x2="367.28" y2="387.90" stroke="#9a9a9a" stroke-opacity="0.18" stroke-width="0.5"/>
<line x1="425.33" y1="369.90" x2="425.33" y2="387.90" stroke="#9a9a9a" stroke-opacity="0.18" stroke-width="0.5"/>
<line x1="431.36" y1="369.90" x2="431.36" y2="387.90" stroke="#9a9a9a" stroke-opacity="0.18" stroke-width="0.5"/>
<line x1="364.49" y1="369.90" x2="364.49" y2="387.90" stroke="#9a9a9a" stroke-opacity="0.18" stroke-width="0.5"/>
<line x1="431.41" y1="369.90" x2="431.41" y2="387.90" stroke="#9a9a9a" stroke-opacity="0.18" stroke-width="0.5"/>
<line x1="370.27" y1="369.90" x2="370.27" y2="387.90" stroke="#9a9a9a" stroke-opacity="0.18" stroke-width="0.5"/>
<line x1="421.73" y1="369.90" x2="421.73" y2="387.90" stroke="#9a9a9a" stroke-opacity="0.18" stroke-width="0.5"/>
<line x1="349.44" y1="369.90" x2="349.44" y2="387.90" stroke="#9a9a9a" stroke-opacity="0.18" stroke-width="0.5"/>
<line x1="369.76" y1="369.90" x2="369.76" y2="387.90" stroke="#9a9a9a" stroke-opacity="0.18" stroke-width="0.5"/>
<line x1="426.18" y1="369.90" x2="426.18" y2="387.90" stroke="#9a9a9a" stroke-opacity="0.18" stroke-width="0.5"/>
<line x1="367.51" y1="369.90" x2="367.51" y2="387.90" stroke="#9a9a9a" stroke-opacity="0.18" stroke-width="0.5"/>
<line x1="336.13" y1="369.90" x2="336.13" y2="387.90" stroke="#9a9a9a" stroke-opacity="0.18" stroke-width="0.5"/>
<line x1="369.51" y1="369.90" x2="369.51" y2="387.90" stroke="#9a9a9a" stroke-opacity="0.18" stroke-width="0.5"/>
<line x1="426.39" y1="369.90" x2="426.39" y2="387.90" stroke="#9a9a9a" stroke-opacity="0.18" stroke-width="0.5"/>
<line x1="423.33" y1="369.90" x2="423.33" y2="387.90" stroke="#9a9a9a" stroke-opacity="0.18" stroke-width="0.5"/>
<line x1="348.72" y1="369.90" x2="348.72" y2="387.90" stroke="#9a9a9a" stroke-opacity="0.18" stroke-width="0.5"/>
<line x1="359.25" y1="369.90" x2="359.25" y2="387.90" stroke="#9a9a9a" stroke-opacity="0.18" stroke-width="0.5"/>
<line x1="427.45" y1="369.90" x2="427.45" y2="387.90" stroke="#9a9a9a" stroke-opacity="0.18" stroke-width="0.5"/>
<line x1="423.96" y1="369.90" x2="423.96" y2="387.90" stroke="#9a9a9a" stroke-opacity="0.18" stroke-width="0.5"/>
<line x1="362.19" y1="369.90" x2="362.19" y2="387.90" stroke="#9a9a9a" stroke-opacity="0.18" stroke-width="0.5"/>
<line x1="334.40" y1="369.90" x2="334.40" y2="387.90" stroke="#9a9a9a" stroke-opacity="0.18" stroke-width="0.5"/>
<line x1="422.99" y1="369.90" x2="422.99" y2="387.90" stroke="#9a9a9a" stroke-opacity="0.18" stroke-width="0.5"/>
<rect x="334.50" y="370.50" width="1.40" height="9.30" fill="#d21c3c" stroke="none" stroke-width="0.6"/>
<rect x="377.20" y="370.50" width="1.40" height="9.30" fill="#d21c3c" stroke="none" stroke-width="0.6"/>
<rect x="381.20" y="370.50" width="1.40" height="9.30" fill="#d21c3c" stroke="none" stroke-width="0.6"/>
<rect x="399.70" y="370.50" width="1.40" height="9.30" fill="#d21c3c" stroke="none" stroke-width="0.6"/>
<rect x="362.80" y="378.30" width="1.40" height="8.90" fill="#1c6896" stroke="none" stroke-width="0.6"/>
<rect x="369.80" y="378.30" width="1.40" height="8.90" fill="#1c6896" stroke="none" stroke-width="0.6"/>
<rect x="389.50" y="378.30" width="1.40" height="8.90" fill="#1c6896" stroke="none" stroke-width="0.6"/>
<rect x="400.60" y="378.30" width="1.40" height="8.90" fill="#1c6896" stroke="none" stroke-width="0.6"/>
<rect x="288.90" y="369.90" width="145.30" height="18.00" rx="1.2" fill="none" stroke="#333" stroke-width="0.9"/>
<line x1="285.40" y1="378.90" x2="288.90" y2="378.90" stroke="#222" stroke-width="0.8"/>
<text x="283.00" y="380.96" font-size="6.0" text-anchor="end" fill="#2a2a2a" stroke="#2a2a2a" stroke-width="0.15">PCNA</text>
<rect x="294.24" y="393.80" width="7.96" height="17.80" fill="#ffffff" stroke="none" stroke-width="0.6"/>
<rect x="302.19" y="393.80" width="24.40" height="17.80" fill="#f8f8f8" stroke="none" stroke-width="0.6"/>
<rect x="326.59" y="393.80" width="32.18" height="17.80" fill="#e8e8e8" stroke="none" stroke-width="0.6"/>
<rect x="358.77" y="393.80" width="12.38" height="17.80" fill="#d4d4d4" stroke="none" stroke-width="0.6"/>
<rect x="371.14" y="393.80" width="8.84" height="17.80" fill="#c4c4c4" stroke="none" stroke-width="0.6"/>
<rect x="379.98" y="393.80" width="31.82" height="17.80" fill="#bcbcbc" stroke="none" stroke-width="0.6"/>
<rect x="411.81" y="393.80" width="5.48" height="17.80" fill="#c6c6c6" stroke="none" stroke-width="0.6"/>
<rect x="417.29" y="393.80" width="7.78" height="17.80" fill="#dcdcdc" stroke="none" stroke-width="0.6"/>
<rect x="425.07" y="393.80" width="8.84" height="17.80" fill="#f7f7f7" stroke="none" stroke-width="0.6"/>
<line x1="362.46" y1="393.80" x2="362.46" y2="411.60" stroke="#9a9a9a" stroke-opacity="0.18" stroke-width="0.5"/>
<line x1="360.05" y1="393.80" x2="360.05" y2="411.60" stroke="#9a9a9a" stroke-opacity="0.18" stroke-width="0.5"/>
<line x1="362.65" y1="393.80" x2="362.65" y2="411.60" stroke="#9a9a9a" stroke-opacity="0.18" stroke-width="0.5"/>
<line x1="360.88" y1="393.80" x2="360.88" y2="411.60" stroke="#9a9a9a" stroke-opacity="0.18" stroke-width="0.5"/>
<line x1="425.84" y1="393.80" x2="425.84" y2="411.60" stroke="#9a9a9a" stroke-opacity="0.18" stroke-width="0.5"/>
<line x1="364.43" y1="393.80" x2="364.43" y2="411.60" stroke="#9a9a9a" stroke-opacity="0.18" stroke-width="0.5"/>
<line x1="349.46" y1="393.80" x2="349.46" y2="411.60" stroke="#9a9a9a" stroke-opacity="0.18" stroke-width="0.5"/>
<line x1="357.96" y1="393.80" x2="357.96" y2="411.60" stroke="#9a9a9a" stroke-opacity="0.18" stroke-width="0.5"/>
<line x1="356.72" y1="393.80" x2="356.72" y2="411.60" stroke="#9a9a9a" stroke-opacity="0.18" stroke-width="0.5"/>
<line x1="360.18" y1="393.80" x2="360.18" y2="411.60" stroke="#9a9a9a" stroke-opacity="0.18" stroke-width="0.5"/>
<line x1="367.47" y1="393.80" x2="367.47" y2="411.60" stroke="#9a9a9a" stroke-opacity="0.18" stroke-width="0.5"/>
<line x1="371.93" y1="393.80" x2="371.93" y2="411.60" stroke="#9a9a9a" stroke-opacity="0.18" stroke-width="0.5"/>
<line x1="419.63" y1="393.80" x2="419.63" y2="411.60" stroke="#9a9a9a" stroke-opacity="0.18" stroke-width="0.5"/>
<line x1="428.33" y1="393.80" x2="428.33" y2="411.60" stroke="#9a9a9a" stroke-opacity="0.18" stroke-width="0.5"/>
<line x1="367.28" y1="393.80" x2="367.28" y2="411.60" stroke="#9a9a9a" stroke-opacity="0.18" stroke-width="0.5"/>
<line x1="425.33" y1="393.80" x2="425.33" y2="411.60" stroke="#9a9a9a" stroke-opacity="0.18" stroke-width="0.5"/>
<line x1="431.36" y1="393.80" x2="431.36" y2="411.60" stroke="#9a9a9a" stroke-opacity="0.18" stroke-width="0.5"/>
<line x1="364.49" y1="393.80" x2="364.49" y2="411.60" stroke="#9a9a9a" stroke-opacity="0.18" stroke-width="0.5"/>
<line x1="431.41" y1="393.80" x2="431.41" y2="411.60" stroke="#9a9a9a" stroke-opacity="0.18" stroke-width="0.5"/>
<line x1="370.27" y1="393.80" x2="370.27" y2="411.60" stroke="#9a9a9a" stroke-opacity="0.18" stroke-width="0.5"/>
<line x1="421.73" y1="393.80" x2="421.73" y2="411.60" stroke="#9a9a9a" stroke-opacity="0.18" stroke-width="0.5"/>
<line x1="349.44" y1="393.80" x2="349.44" y2="411.60" stroke="#9a9a9a" stroke-opacity="0.18" stroke-width="0.5"/>
<line x1="369.76" y1="393.80" x2="369.76" y2="411.60" stroke="#9a9a9a" stroke-opacity="0.18" stroke-width="0.5"/>
<line x1="426.18" y1="393.80" x2="426.18" y2="411.60" stroke="#9a9a9a" stroke-opacity="0.18" stroke-width="0.5"/>
<line x1="367.51" y1="393.80" x2="367.51" y2="411.60" stroke="#9a9a9a" stroke-opacity="0.18" stroke-width="0.5"/>
<line x1="336.13" y1="393.80" x2="336.13" y2="411.60" stroke="#9a9a9a" stroke-opacity="0.18" stroke-width="0.5"/>
<line x1="369.51" y1="393.80" x2="369.51" y2="411.60" stroke="#9a9a9a" stroke-opacity="0.18" stroke-width="0.5"/>
<line x1="426.39" y1="393.80" x2="426.39" y2="411.60" stroke="#9a9a9a" stroke-opacity="0.18" stroke-width="0.5"/>
<line x1="423.33" y1="393.80" x2="423.33" y2="411.60" stroke="#9a9a9a" stroke-opacity="0.18" stroke-width="0.5"/>
<line x1="348.72" y1="393.80" x2="348.72" y2="411.60" stroke="#9a9a9a" stroke-opacity="0.18" stroke-width="0.5"/>
<line x1="359.25" y1="393.80" x2="359.25" y2="411.60" stroke="#9a9a9a" stroke-opacity="0.18" stroke-width="0.5"/>
<line x1="427.45" y1="393.80" x2="427.45" y2="411.60" stroke="#9a9a9a" stroke-opacity="0.18" stroke-width="0.5"/>
<line x1="423.96" y1="393.80" x2="423.96" y2="411.60" stroke="#9a9a9a" stroke-opacity="0.18" stroke-width="0.5"/>
<line x1="362.19" y1="393.80" x2="362.19" y2="411.60" stroke="#9a9a9a" stroke-opacity="0.18" stroke-width="0.5"/>
<line x1="334.40" y1="393.80" x2="334.40" y2="411.60" stroke="#9a9a9a" stroke-opacity="0.18" stroke-width="0.5"/>
<line x1="422.99" y1="393.80" x2="422.99" y2="411.60" stroke="#9a9a9a" stroke-opacity="0.18" stroke-width="0.5"/>
<rect x="408.30" y="394.40" width="1.40" height="9.20" fill="#d21c3c" stroke="none" stroke-width="0.6"/>
<rect x="400.30" y="402.10" width="1.40" height="8.80" fill="#1c6896" stroke="none" stroke-width="0.6"/>
<rect x="288.90" y="393.80" width="145.30" height="17.80" rx="1.2" fill="none" stroke="#333" stroke-width="0.9"/>
<line x1="285.40" y1="402.70" x2="288.90" y2="402.70" stroke="#222" stroke-width="0.8"/>
<text x="283.00" y="404.76" font-size="6.0" text-anchor="end" fill="#2a2a2a" stroke="#2a2a2a" stroke-width="0.15">neg01</text>
<line x1="295.12" y1="411.60" x2="295.12" y2="414.00" stroke="#222" stroke-width="0.8"/>
<text x="295.12" y="423.00" font-size="5.8" text-anchor="middle" fill="#2a2a2a" stroke="#2a2a2a" stroke-width="0.15">−6</text>
<line x1="312.80" y1="411.60" x2="312.80" y2="414.00" stroke="#222" stroke-width="0.8"/>
<text x="312.80" y="423.00" font-size="5.8" text-anchor="middle" fill="#2a2a2a" stroke="#2a2a2a" stroke-width="0.15">−5</text>
<line x1="330.48" y1="411.60" x2="330.48" y2="414.00" stroke="#222" stroke-width="0.8"/>
<text x="330.48" y="423.00" font-size="5.8" text-anchor="middle" fill="#2a2a2a" stroke="#2a2a2a" stroke-width="0.15">−4</text>
<line x1="348.16" y1="411.60" x2="348.16" y2="414.00" stroke="#222" stroke-width="0.8"/>
<text x="348.16" y="423.00" font-size="5.8" text-anchor="middle" fill="#2a2a2a" stroke="#2a2a2a" stroke-width="0.15">−3</text>
<line x1="365.84" y1="411.60" x2="365.84" y2="414.00" stroke="#222" stroke-width="0.8"/>
<text x="365.84" y="423.00" font-size="5.8" text-anchor="middle" fill="#2a2a2a" stroke="#2a2a2a" stroke-width="0.15">−2</text>
<line x1="383.52" y1="411.60" x2="383.52" y2="414.00" stroke="#222" stroke-width="0.8"/>
<text x="383.52" y="423.00" font-size="5.8" text-anchor="middle" fill="#2a2a2a" stroke="#2a2a2a" stroke-width="0.15">−1</text>
<line x1="401.20" y1="411.60" x2="401.20" y2="414.00" stroke="#222" stroke-width="0.8"/>
<text x="401.20" y="423.00" font-size="5.8" text-anchor="middle" fill="#2a2a2a" stroke="#2a2a2a" stroke-width="0.15">0</text>
<line x1="418.88" y1="411.60" x2="418.88" y2="414.00" stroke="#222" stroke-width="0.8"/>
<text x="418.88" y="423.00" font-size="5.8" text-anchor="middle" fill="#2a2a2a" stroke="#2a2a2a" stroke-width="0.15">1</text>
<text x="361.30" y="434.41" font-size="7.0" text-anchor="middle" textLength="48.5" lengthAdjust="spacingAndGlyphs" fill="#222" stroke="#222" stroke-width="0.15">Log2 (fold change)</text>
<text x="445.20" y="351.95" font-size="5.95" fill="#2a2a2a" stroke="#2a2a2a" stroke-width="0.15">sgRNA Type</text>
<line x1="445.90" y1="361.70" x2="454.20" y2="361.70" stroke="#d0213d" stroke-width="1.2"/>
<text x="457.70" y="363.73" font-size="5.9" fill="#2a2a2a" stroke="#2a2a2a" stroke-width="0.15">Kasumi-1</text>
<line x1="445.90" y1="372.40" x2="454.20" y2="372.40" stroke="#2a7aa0" stroke-width="1.2"/>
<text x="457.70" y="374.43" font-size="5.9" fill="#2a2a2a" stroke="#2a2a2a" stroke-width="0.15">SKNO-1</text>
<line x1="445.90" y1="383.60" x2="454.20" y2="383.60" stroke="#c4c4c4" stroke-width="1.2"/>
<text x="457.70" y="385.63" font-size="5.9" fill="#2a2a2a" stroke="#2a2a2a" stroke-width="0.15">Total Background</text>
<text x="25.80" y="483.45" font-size="11.2" font-weight="bold" fill="#111" stroke="#111" stroke-width="0.15">E</text>
<text x="137.60" y="483.15" font-size="7.7" text-anchor="middle" fill="#111" stroke="#111" stroke-width="0.15">Kasumi-1</text>
<line x1="72.50" y1="489.50" x2="72.50" y2="576.20" stroke="#222" stroke-width="0.8"/>
<line x1="70.10" y1="576.20" x2="72.50" y2="576.20" stroke="#222" stroke-width="0.7"/>
<text x="67.50" y="578.13" font-size="5.6" text-anchor="end" fill="#2a2a2a" stroke="#2a2a2a" stroke-width="0.15">0</text>
<line x1="70.10" y1="559.12" x2="72.50" y2="559.12" stroke="#222" stroke-width="0.7"/>
<text x="67.50" y="561.05" font-size="5.6" text-anchor="end" fill="#2a2a2a" stroke="#2a2a2a" stroke-width="0.15">20</text>
<line x1="70.10" y1="542.04" x2="72.50" y2="542.04" stroke="#222" stroke-width="0.7"/>
<text x="67.50" y="543.97" font-size="5.6" text-anchor="end" fill="#2a2a2a" stroke="#2a2a2a" stroke-width="0.15">40</text>
<line x1="70.10" y1="524.96" x2="72.50" y2="524.96" stroke="#222" stroke-width="0.7"/>
<text x="67.50" y="526.89" font-size="5.6" text-anchor="end" fill="#2a2a2a" stroke="#2a2a2a" stroke-width="0.15">60</text>
<line x1="70.10" y1="507.88" x2="72.50" y2="507.88" stroke="#222" stroke-width="0.7"/>
<text x="67.50" y="509.81" font-size="5.6" text-anchor="end" fill="#2a2a2a" stroke="#2a2a2a" stroke-width="0.15">80</text>
<line x1="70.10" y1="490.80" x2="72.50" y2="490.80" stroke="#222" stroke-width="0.7"/>
<text x="67.50" y="492.73" font-size="5.6" text-anchor="end" fill="#2a2a2a" stroke="#2a2a2a" stroke-width="0.15">100</text>
<text x="0" y="2.48" font-size="7.2" text-anchor="middle" textLength="68" lengthAdjust="spacingAndGlyphs" fill="#111" stroke="#111" stroke-width="0.15" transform="translate(48.80,532.20) rotate(-90)">Relative normalized % GFP</text>
<rect x="76.15" y="490.80" width="4.10" height="85.40" fill="#c8183a" stroke="#6a6a6a" stroke-width="0.5"/>
<rect x="80.75" y="490.80" width="4.10" height="85.40" fill="#dc5068" stroke="#6a6a6a" stroke-width="0.5"/>
<rect x="85.35" y="490.80" width="4.10" height="85.40" fill="#ea8090" stroke="#6a6a6a" stroke-width="0.5"/>
<rect x="89.95" y="490.80" width="4.10" height="85.40" fill="#f1afba" stroke="#6a6a6a" stroke-width="0.5"/>
<rect x="94.55" y="490.80" width="4.10" height="85.40" fill="#f9d6da" stroke="#6a6a6a" stroke-width="0.5"/>
<rect x="99.15" y="490.80" width="4.10" height="85.40" fill="#ffffff" stroke="#6a6a6a" stroke-width="0.5"/>
<line x1="76.40" y1="490.80" x2="80.00" y2="490.80" stroke="#111" stroke-width="1.1"/>
<line x1="81.00" y1="490.80" x2="84.60" y2="490.80" stroke="#111" stroke-width="1.1"/>
<line x1="85.60" y1="490.80" x2="89.20" y2="490.80" stroke="#111" stroke-width="1.1"/>
<line x1="90.20" y1="490.80" x2="93.80" y2="490.80" stroke="#111" stroke-width="1.1"/>
<line x1="94.80" y1="490.80" x2="98.40" y2="490.80" stroke="#111" stroke-width="1.1"/>
<line x1="99.40" y1="490.80" x2="103.00" y2="490.80" stroke="#111" stroke-width="1.1"/>
<line x1="89.70" y1="576.20" x2="89.70" y2="578.40" stroke="#222" stroke-width="0.7"/>
<rect x="108.45" y="490.80" width="4.10" height="85.40" fill="#c8183a" stroke="#6a6a6a" stroke-width="0.5"/>
<rect x="113.05" y="512.15" width="4.10" height="64.05" fill="#dc5068" stroke="#6a6a6a" stroke-width="0.5"/>
<rect x="117.65" y="555.70" width="4.10" height="20.50" fill="#ea8090" stroke="#6a6a6a" stroke-width="0.5"/>
<rect x="122.25" y="567.66" width="4.10" height="8.54" fill="#f1afba" stroke="#6a6a6a" stroke-width="0.5"/>
<rect x="126.85" y="571.08" width="4.10" height="5.12" fill="#f9d6da" stroke="#6a6a6a" stroke-width="0.5"/>
<rect x="131.45" y="572.78" width="4.10" height="3.42" fill="#ffffff" stroke="#6a6a6a" stroke-width="0.5"/>
<line x1="108.70" y1="490.80" x2="112.30" y2="490.80" stroke="#111" stroke-width="1.1"/>
<line x1="115.10" y1="509.59" x2="115.10" y2="514.71" stroke="#222" stroke-width="0.6"/>
<line x1="114.10" y1="509.59" x2="116.10" y2="509.59" stroke="#222" stroke-width="0.6"/>
<line x1="113.60" y1="512.15" x2="116.60" y2="512.15" stroke="#222" stroke-width="0.6"/>
<circle cx="114.40" cy="509.03" r="0.85" fill="#111" stroke="none" stroke-width="0.5"/>
<circle cx="115.10" cy="512.66" r="0.85" fill="#111" stroke="none" stroke-width="0.5"/>
<circle cx="115.80" cy="513.94" r="0.85" fill="#111" stroke="none" stroke-width="0.5"/>
<line x1="119.70" y1="548.87" x2="119.70" y2="562.54" stroke="#222" stroke-width="0.6"/>
<line x1="118.70" y1="548.87" x2="120.70" y2="548.87" stroke="#222" stroke-width="0.6"/>
<line x1="118.20" y1="555.70" x2="121.20" y2="555.70" stroke="#222" stroke-width="0.6"/>
<circle cx="119.00" cy="548.53" r="0.85" fill="#111" stroke="none" stroke-width="0.5"/>
<circle cx="119.70" cy="557.07" r="0.85" fill="#111" stroke="none" stroke-width="0.5"/>
<circle cx="120.40" cy="560.49" r="0.85" fill="#111" stroke="none" stroke-width="0.5"/>
<line x1="124.30" y1="564.24" x2="124.30" y2="571.08" stroke="#222" stroke-width="0.6"/>
<line x1="123.30" y1="564.24" x2="125.30" y2="564.24" stroke="#222" stroke-width="0.6"/>
<line x1="122.80" y1="567.66" x2="125.80" y2="567.66" stroke="#222" stroke-width="0.6"/>
<circle cx="123.60" cy="563.73" r="0.85" fill="#111" stroke="none" stroke-width="0.5"/>
<circle cx="124.30" cy="568.34" r="0.85" fill="#111" stroke="none" stroke-width="0.5"/>
<circle cx="125.00" cy="570.05" r="0.85" fill="#111" stroke="none" stroke-width="0.5"/>
<line x1="128.90" y1="568.51" x2="128.90" y2="573.64" stroke="#222" stroke-width="0.6"/>
<line x1="127.90" y1="568.51" x2="129.90" y2="568.51" stroke="#222" stroke-width="0.6"/>
<line x1="127.40" y1="571.08" x2="130.40" y2="571.08" stroke="#222" stroke-width="0.6"/>
<circle cx="128.20" cy="567.96" r="0.85" fill="#111" stroke="none" stroke-width="0.5"/>
<circle cx="128.90" cy="571.59" r="0.85" fill="#111" stroke="none" stroke-width="0.5"/>
<circle cx="129.60" cy="572.87" r="0.85" fill="#111" stroke="none" stroke-width="0.5"/>
<line x1="133.50" y1="571.08" x2="133.50" y2="574.49" stroke="#222" stroke-width="0.6"/>
<line x1="132.50" y1="571.08" x2="134.50" y2="571.08" stroke="#222" stroke-width="0.6"/>
<line x1="132.00" y1="572.78" x2="135.00" y2="572.78" stroke="#222" stroke-width="0.6"/>
<circle cx="132.80" cy="570.48" r="0.85" fill="#111" stroke="none" stroke-width="0.5"/>
<circle cx="133.50" cy="573.13" r="0.85" fill="#111" stroke="none" stroke-width="0.5"/>
<circle cx="134.20" cy="573.98" r="0.85" fill="#111" stroke="none" stroke-width="0.5"/>
<line x1="122.00" y1="576.20" x2="122.00" y2="578.40" stroke="#222" stroke-width="0.7"/>
<rect x="140.75" y="490.80" width="4.10" height="85.40" fill="#c8183a" stroke="#6a6a6a" stroke-width="0.5"/>
<rect x="145.35" y="502.76" width="4.10" height="73.44" fill="#dc5068" stroke="#6a6a6a" stroke-width="0.5"/>
<rect x="149.95" y="517.27" width="4.10" height="58.93" fill="#ea8090" stroke="#6a6a6a" stroke-width="0.5"/>
<rect x="154.55" y="533.50" width="4.10" height="42.70" fill="#f1afba" stroke="#6a6a6a" stroke-width="0.5"/>
<rect x="159.15" y="542.04" width="4.10" height="34.16" fill="#f9d6da" stroke="#6a6a6a" stroke-width="0.5"/>
<rect x="163.75" y="547.16" width="4.10" height="29.04" fill="#ffffff" stroke="#6a6a6a" stroke-width="0.5"/>
<line x1="141.00" y1="490.80" x2="144.60" y2="490.80" stroke="#111" stroke-width="1.1"/>
<line x1="147.40" y1="499.34" x2="147.40" y2="506.17" stroke="#222" stroke-width="0.6"/>
<line x1="146.40" y1="499.34" x2="148.40" y2="499.34" stroke="#222" stroke-width="0.6"/>
<line x1="145.90" y1="502.76" x2="148.90" y2="502.76" stroke="#222" stroke-width="0.6"/>
<circle cx="146.70" cy="498.83" r="0.85" fill="#111" stroke="none" stroke-width="0.5"/>
<circle cx="147.40" cy="503.44" r="0.85" fill="#111" stroke="none" stroke-width="0.5"/>
<circle cx="148.10" cy="505.15" r="0.85" fill="#111" stroke="none" stroke-width="0.5"/>
<line x1="152.00" y1="513.86" x2="152.00" y2="520.69" stroke="#222" stroke-width="0.6"/>
<line x1="151.00" y1="513.86" x2="153.00" y2="513.86" stroke="#222" stroke-width="0.6"/>
<line x1="150.50" y1="517.27" x2="153.50" y2="517.27" stroke="#222" stroke-width="0.6"/>
<circle cx="151.30" cy="513.35" r="0.85" fill="#111" stroke="none" stroke-width="0.5"/>
<circle cx="152.00" cy="517.96" r="0.85" fill="#111" stroke="none" stroke-width="0.5"/>
<circle cx="152.70" cy="519.67" r="0.85" fill="#111" stroke="none" stroke-width="0.5"/>
<line x1="156.60" y1="529.23" x2="156.60" y2="537.77" stroke="#222" stroke-width="0.6"/>
<line x1="155.60" y1="529.23" x2="157.60" y2="529.23" stroke="#222" stroke-width="0.6"/>
<line x1="155.10" y1="533.50" x2="158.10" y2="533.50" stroke="#222" stroke-width="0.6"/>
<circle cx="155.90" cy="528.76" r="0.85" fill="#111" stroke="none" stroke-width="0.5"/>
<circle cx="156.60" cy="534.35" r="0.85" fill="#111" stroke="none" stroke-width="0.5"/>
<circle cx="157.30" cy="536.49" r="0.85" fill="#111" stroke="none" stroke-width="0.5"/>
<line x1="161.20" y1="539.48" x2="161.20" y2="544.60" stroke="#222" stroke-width="0.6"/>
<line x1="160.20" y1="539.48" x2="162.20" y2="539.48" stroke="#222" stroke-width="0.6"/>
<line x1="159.70" y1="542.04" x2="162.70" y2="542.04" stroke="#222" stroke-width="0.6"/>
<circle cx="160.50" cy="538.92" r="0.85" fill="#111" stroke="none" stroke-width="0.5"/>
<circle cx="161.20" cy="542.55" r="0.85" fill="#111" stroke="none" stroke-width="0.5"/>
<circle cx="161.90" cy="543.83" r="0.85" fill="#111" stroke="none" stroke-width="0.5"/>
<line x1="165.80" y1="544.60" x2="165.80" y2="549.73" stroke="#222" stroke-width="0.6"/>
<line x1="164.80" y1="544.60" x2="166.80" y2="544.60" stroke="#222" stroke-width="0.6"/>
<line x1="164.30" y1="547.16" x2="167.30" y2="547.16" stroke="#222" stroke-width="0.6"/>
<circle cx="165.10" cy="544.05" r="0.85" fill="#111" stroke="none" stroke-width="0.5"/>
<circle cx="165.80" cy="547.68" r="0.85" fill="#111" stroke="none" stroke-width="0.5"/>
<circle cx="166.50" cy="548.96" r="0.85" fill="#111" stroke="none" stroke-width="0.5"/>
<line x1="154.30" y1="576.20" x2="154.30" y2="578.40" stroke="#222" stroke-width="0.7"/>
<rect x="173.15" y="490.80" width="4.10" height="85.40" fill="#c8183a" stroke="#6a6a6a" stroke-width="0.5"/>
<rect x="177.75" y="498.06" width="4.10" height="78.14" fill="#dc5068" stroke="#6a6a6a" stroke-width="0.5"/>
<rect x="182.35" y="508.73" width="4.10" height="67.47" fill="#ea8090" stroke="#6a6a6a" stroke-width="0.5"/>
<rect x="186.95" y="526.67" width="4.10" height="49.53" fill="#f1afba" stroke="#6a6a6a" stroke-width="0.5"/>
<rect x="191.55" y="540.33" width="4.10" height="35.87" fill="#f9d6da" stroke="#6a6a6a" stroke-width="0.5"/>
<rect x="196.15" y="544.60" width="4.10" height="31.60" fill="#ffffff" stroke="#6a6a6a" stroke-width="0.5"/>
<line x1="173.40" y1="490.80" x2="177.00" y2="490.80" stroke="#111" stroke-width="1.1"/>
<line x1="179.80" y1="495.50" x2="179.80" y2="500.62" stroke="#222" stroke-width="0.6"/>
<line x1="178.80" y1="495.50" x2="180.80" y2="495.50" stroke="#222" stroke-width="0.6"/>
<line x1="178.30" y1="498.06" x2="181.30" y2="498.06" stroke="#222" stroke-width="0.6"/>
<circle cx="179.10" cy="494.94" r="0.85" fill="#111" stroke="none" stroke-width="0.5"/>
<circle cx="179.80" cy="498.57" r="0.85" fill="#111" stroke="none" stroke-width="0.5"/>
<circle cx="180.50" cy="499.85" r="0.85" fill="#111" stroke="none" stroke-width="0.5"/>
<line x1="184.40" y1="504.46" x2="184.40" y2="513.00" stroke="#222" stroke-width="0.6"/>
<line x1="183.40" y1="504.46" x2="185.40" y2="504.46" stroke="#222" stroke-width="0.6"/>
<line x1="182.90" y1="508.73" x2="185.90" y2="508.73" stroke="#222" stroke-width="0.6"/>
<circle cx="183.70" cy="503.99" r="0.85" fill="#111" stroke="none" stroke-width="0.5"/>
<circle cx="184.40" cy="509.59" r="0.85" fill="#111" stroke="none" stroke-width="0.5"/>
<circle cx="185.10" cy="511.72" r="0.85" fill="#111" stroke="none" stroke-width="0.5"/>
<line x1="189.00" y1="523.25" x2="189.00" y2="530.08" stroke="#222" stroke-width="0.6"/>
<line x1="188.00" y1="523.25" x2="190.00" y2="523.25" stroke="#222" stroke-width="0.6"/>
<line x1="187.50" y1="526.67" x2="190.50" y2="526.67" stroke="#222" stroke-width="0.6"/>
<circle cx="188.30" cy="522.74" r="0.85" fill="#111" stroke="none" stroke-width="0.5"/>
<circle cx="189.00" cy="527.35" r="0.85" fill="#111" stroke="none" stroke-width="0.5"/>
<circle cx="189.70" cy="529.06" r="0.85" fill="#111" stroke="none" stroke-width="0.5"/>
<line x1="193.60" y1="536.92" x2="193.60" y2="543.75" stroke="#222" stroke-width="0.6"/>
<line x1="192.60" y1="536.92" x2="194.60" y2="536.92" stroke="#222" stroke-width="0.6"/>
<line x1="192.10" y1="540.33" x2="195.10" y2="540.33" stroke="#222" stroke-width="0.6"/>
<circle cx="192.90" cy="536.40" r="0.85" fill="#111" stroke="none" stroke-width="0.5"/>
<circle cx="193.60" cy="541.02" r="0.85" fill="#111" stroke="none" stroke-width="0.5"/>
<circle cx="194.30" cy="542.72" r="0.85" fill="#111" stroke="none" stroke-width="0.5"/>
<line x1="198.20" y1="541.19" x2="198.20" y2="548.02" stroke="#222" stroke-width="0.6"/>
<line x1="197.20" y1="541.19" x2="199.20" y2="541.19" stroke="#222" stroke-width="0.6"/>
<line x1="196.70" y1="544.60" x2="199.70" y2="544.60" stroke="#222" stroke-width="0.6"/>
<circle cx="197.50" cy="540.67" r="0.85" fill="#111" stroke="none" stroke-width="0.5"/>
<circle cx="198.20" cy="545.29" r="0.85" fill="#111" stroke="none" stroke-width="0.5"/>
<circle cx="198.90" cy="546.99" r="0.85" fill="#111" stroke="none" stroke-width="0.5"/>
<line x1="186.70" y1="576.20" x2="186.70" y2="578.40" stroke="#222" stroke-width="0.7"/>
<line x1="72.50" y1="576.20" x2="203.50" y2="576.20" stroke="#222" stroke-width="0.8"/>
<text x="0" y="2.20" font-size="6.4" text-anchor="end" fill="#2a2a2a" stroke="#2a2a2a" stroke-width="0.15" transform="translate(91.50,583.30) rotate(-45)">sgNeg01</text>
<text x="0" y="2.20" font-size="6.4" text-anchor="end" fill="#2a2a2a" stroke="#2a2a2a" stroke-width="0.15" transform="translate(123.80,583.30) rotate(-45)">sgRPA3</text>
<text x="0" y="2.20" font-size="6.4" text-anchor="end" fill="#2a2a2a" stroke="#2a2a2a" stroke-width="0.15" transform="translate(156.10,583.30) rotate(-45)">sgHASPIN_119</text>
<text x="0" y="2.20" font-size="6.4" text-anchor="end" fill="#2a2a2a" stroke="#2a2a2a" stroke-width="0.15" transform="translate(188.50,583.30) rotate(-45)">sgHASPIN_11</text>
<rect x="214.50" y="497.10" width="9.20" height="4.20" fill="#c8183a" stroke="#555" stroke-width="0.5"/>
<text x="226.30" y="501.37" font-size="6.3" fill="#2a2a2a" stroke="#2a2a2a" stroke-width="0.15">d3</text>
<rect x="214.50" y="508.50" width="9.20" height="4.20" fill="#dc5068" stroke="#555" stroke-width="0.5"/>
<text x="226.30" y="512.77" font-size="6.3" fill="#2a2a2a" stroke="#2a2a2a" stroke-width="0.15">d6</text>
<rect x="214.50" y="519.90" width="9.20" height="4.20" fill="#ea8090" stroke="#555" stroke-width="0.5"/>
<text x="226.30" y="524.17" font-size="6.3" fill="#2a2a2a" stroke="#2a2a2a" stroke-width="0.15">d9</text>
<rect x="214.50" y="531.30" width="9.20" height="4.20" fill="#f1afba" stroke="#555" stroke-width="0.5"/>
<text x="226.30" y="535.57" font-size="6.3" fill="#2a2a2a" stroke="#2a2a2a" stroke-width="0.15">d12</text>
<rect x="214.50" y="542.70" width="9.20" height="4.20" fill="#f9d6da" stroke="#555" stroke-width="0.5"/>
<text x="226.30" y="546.97" font-size="6.3" fill="#2a2a2a" stroke="#2a2a2a" stroke-width="0.15">d15</text>
<rect x="214.50" y="554.10" width="9.20" height="4.20" fill="#ffffff" stroke="#555" stroke-width="0.5"/>
<text x="226.30" y="558.37" font-size="6.3" fill="#2a2a2a" stroke="#2a2a2a" stroke-width="0.15">d18</text>
<text x="357.70" y="483.15" font-size="7.7" text-anchor="middle" fill="#111" stroke="#111" stroke-width="0.15">SKNO-1</text>
<line x1="293.70" y1="489.50" x2="293.70" y2="576.20" stroke="#222" stroke-width="0.8"/>
<line x1="291.30" y1="576.20" x2="293.70" y2="576.20" stroke="#222" stroke-width="0.7"/>
<text x="288.70" y="578.13" font-size="5.6" text-anchor="end" fill="#2a2a2a" stroke="#2a2a2a" stroke-width="0.15">0</text>
<line x1="291.30" y1="559.12" x2="293.70" y2="559.12" stroke="#222" stroke-width="0.7"/>
<text x="288.70" y="561.05" font-size="5.6" text-anchor="end" fill="#2a2a2a" stroke="#2a2a2a" stroke-width="0.15">20</text>
<line x1="291.30" y1="542.04" x2="293.70" y2="542.04" stroke="#222" stroke-width="0.7"/>
<text x="288.70" y="543.97" font-size="5.6" text-anchor="end" fill="#2a2a2a" stroke="#2a2a2a" stroke-width="0.15">40</text>
<line x1="291.30" y1="524.96" x2="293.70" y2="524.96" stroke="#222" stroke-width="0.7"/>
<text x="288.70" y="526.89" font-size="5.6" text-anchor="end" fill="#2a2a2a" stroke="#2a2a2a" stroke-width="0.15">60</text>
<line x1="291.30" y1="507.88" x2="293.70" y2="507.88" stroke="#222" stroke-width="0.7"/>
<text x="288.70" y="509.81" font-size="5.6" text-anchor="end" fill="#2a2a2a" stroke="#2a2a2a" stroke-width="0.15">80</text>
<line x1="291.30" y1="490.80" x2="293.70" y2="490.80" stroke="#222" stroke-width="0.7"/>
<text x="288.70" y="492.73" font-size="5.6" text-anchor="end" fill="#2a2a2a" stroke="#2a2a2a" stroke-width="0.15">100</text>
<text x="0" y="2.48" font-size="7.2" text-anchor="middle" textLength="68" lengthAdjust="spacingAndGlyphs" fill="#111" stroke="#111" stroke-width="0.15" transform="translate(270.80,532.20) rotate(-90)">Relative normalized % GFP</text>
<rect x="297.45" y="490.80" width="4.10" height="85.40" fill="#1a6890" stroke="#6a6a6a" stroke-width="0.5"/>
<rect x="302.05" y="490.80" width="4.10" height="85.40" fill="#2a88a6" stroke="#6a6a6a" stroke-width="0.5"/>
<rect x="306.65" y="490.80" width="4.10" height="85.40" fill="#80acbd" stroke="#6a6a6a" stroke-width="0.5"/>
<rect x="311.25" y="490.80" width="4.10" height="85.40" fill="#adcad8" stroke="#6a6a6a" stroke-width="0.5"/>
<rect x="315.85" y="490.80" width="4.10" height="85.40" fill="#d8e6ec" stroke="#6a6a6a" stroke-width="0.5"/>
<rect x="320.45" y="490.80" width="4.10" height="85.40" fill="#ffffff" stroke="#6a6a6a" stroke-width="0.5"/>
<line x1="297.70" y1="490.80" x2="301.30" y2="490.80" stroke="#111" stroke-width="1.1"/>
<line x1="302.30" y1="490.80" x2="305.90" y2="490.80" stroke="#111" stroke-width="1.1"/>
<line x1="306.90" y1="490.80" x2="310.50" y2="490.80" stroke="#111" stroke-width="1.1"/>
<line x1="311.50" y1="490.80" x2="315.10" y2="490.80" stroke="#111" stroke-width="1.1"/>
<line x1="316.10" y1="490.80" x2="319.70" y2="490.80" stroke="#111" stroke-width="1.1"/>
<line x1="320.70" y1="490.80" x2="324.30" y2="490.80" stroke="#111" stroke-width="1.1"/>
<line x1="311.00" y1="576.20" x2="311.00" y2="578.40" stroke="#222" stroke-width="0.7"/>
<rect x="329.75" y="490.80" width="4.10" height="85.40" fill="#1a6890" stroke="#6a6a6a" stroke-width="0.5"/>
<rect x="334.35" y="509.59" width="4.10" height="66.61" fill="#2a88a6" stroke="#6a6a6a" stroke-width="0.5"/>
<rect x="338.95" y="535.21" width="4.10" height="40.99" fill="#80acbd" stroke="#6a6a6a" stroke-width="0.5"/>
<rect x="343.55" y="548.02" width="4.10" height="28.18" fill="#adcad8" stroke="#6a6a6a" stroke-width="0.5"/>
<rect x="348.15" y="551.43" width="4.10" height="24.77" fill="#d8e6ec" stroke="#6a6a6a" stroke-width="0.5"/>
<rect x="352.75" y="555.70" width="4.10" height="20.50" fill="#ffffff" stroke="#6a6a6a" stroke-width="0.5"/>
<line x1="330.00" y1="490.80" x2="333.60" y2="490.80" stroke="#111" stroke-width="1.1"/>
<line x1="336.40" y1="504.46" x2="336.40" y2="514.71" stroke="#222" stroke-width="0.6"/>
<line x1="335.40" y1="504.46" x2="337.40" y2="504.46" stroke="#222" stroke-width="0.6"/>
<line x1="334.90" y1="509.59" x2="337.90" y2="509.59" stroke="#222" stroke-width="0.6"/>
<circle cx="335.70" cy="504.04" r="0.85" fill="#111" stroke="none" stroke-width="0.5"/>
<circle cx="336.40" cy="510.61" r="0.85" fill="#111" stroke="none" stroke-width="0.5"/>
<circle cx="337.10" cy="513.17" r="0.85" fill="#111" stroke="none" stroke-width="0.5"/>
<line x1="341.00" y1="526.67" x2="341.00" y2="543.75" stroke="#222" stroke-width="0.6"/>
<line x1="340.00" y1="526.67" x2="342.00" y2="526.67" stroke="#222" stroke-width="0.6"/>
<line x1="339.50" y1="535.21" x2="342.50" y2="535.21" stroke="#222" stroke-width="0.6"/>
<circle cx="340.30" cy="526.41" r="0.85" fill="#111" stroke="none" stroke-width="0.5"/>
<circle cx="341.00" cy="536.92" r="0.85" fill="#111" stroke="none" stroke-width="0.5"/>
<circle cx="341.70" cy="541.19" r="0.85" fill="#111" stroke="none" stroke-width="0.5"/>
<line x1="345.60" y1="542.89" x2="345.60" y2="553.14" stroke="#222" stroke-width="0.6"/>
<line x1="344.60" y1="542.89" x2="346.60" y2="542.89" stroke="#222" stroke-width="0.6"/>
<line x1="344.10" y1="548.02" x2="347.10" y2="548.02" stroke="#222" stroke-width="0.6"/>
<circle cx="344.90" cy="542.47" r="0.85" fill="#111" stroke="none" stroke-width="0.5"/>
<circle cx="345.60" cy="549.04" r="0.85" fill="#111" stroke="none" stroke-width="0.5"/>
<circle cx="346.30" cy="551.60" r="0.85" fill="#111" stroke="none" stroke-width="0.5"/>
<line x1="350.20" y1="547.16" x2="350.20" y2="555.70" stroke="#222" stroke-width="0.6"/>
<line x1="349.20" y1="547.16" x2="351.20" y2="547.16" stroke="#222" stroke-width="0.6"/>
<line x1="348.70" y1="551.43" x2="351.70" y2="551.43" stroke="#222" stroke-width="0.6"/>
<circle cx="349.50" cy="546.69" r="0.85" fill="#111" stroke="none" stroke-width="0.5"/>
<circle cx="350.20" cy="552.29" r="0.85" fill="#111" stroke="none" stroke-width="0.5"/>
<circle cx="350.90" cy="554.42" r="0.85" fill="#111" stroke="none" stroke-width="0.5"/>
<line x1="354.80" y1="551.43" x2="354.80" y2="559.97" stroke="#222" stroke-width="0.6"/>
<line x1="353.80" y1="551.43" x2="355.80" y2="551.43" stroke="#222" stroke-width="0.6"/>
<line x1="353.30" y1="555.70" x2="356.30" y2="555.70" stroke="#222" stroke-width="0.6"/>
<circle cx="354.10" cy="550.96" r="0.85" fill="#111" stroke="none" stroke-width="0.5"/>
<circle cx="354.80" cy="556.56" r="0.85" fill="#111" stroke="none" stroke-width="0.5"/>
<circle cx="355.50" cy="558.69" r="0.85" fill="#111" stroke="none" stroke-width="0.5"/>
<line x1="343.30" y1="576.20" x2="343.30" y2="578.40" stroke="#222" stroke-width="0.7"/>
<rect x="362.05" y="490.80" width="4.10" height="85.40" fill="#1a6890" stroke="#6a6a6a" stroke-width="0.5"/>
<rect x="366.65" y="506.17" width="4.10" height="70.03" fill="#2a88a6" stroke="#6a6a6a" stroke-width="0.5"/>
<rect x="371.25" y="524.96" width="4.10" height="51.24" fill="#80acbd" stroke="#6a6a6a" stroke-width="0.5"/>
<rect x="375.85" y="537.77" width="4.10" height="38.43" fill="#adcad8" stroke="#6a6a6a" stroke-width="0.5"/>
<rect x="380.45" y="545.46" width="4.10" height="30.74" fill="#d8e6ec" stroke="#6a6a6a" stroke-width="0.5"/>
<rect x="385.05" y="550.58" width="4.10" height="25.62" fill="#ffffff" stroke="#6a6a6a" stroke-width="0.5"/>
<line x1="362.30" y1="490.80" x2="365.90" y2="490.80" stroke="#111" stroke-width="1.1"/>
<line x1="368.70" y1="503.61" x2="368.70" y2="508.73" stroke="#222" stroke-width="0.6"/>
<line x1="367.70" y1="503.61" x2="369.70" y2="503.61" stroke="#222" stroke-width="0.6"/>
<line x1="367.20" y1="506.17" x2="370.20" y2="506.17" stroke="#222" stroke-width="0.6"/>
<circle cx="368.00" cy="503.05" r="0.85" fill="#111" stroke="none" stroke-width="0.5"/>
<circle cx="368.70" cy="506.68" r="0.85" fill="#111" stroke="none" stroke-width="0.5"/>
<circle cx="369.40" cy="507.97" r="0.85" fill="#111" stroke="none" stroke-width="0.5"/>
<line x1="373.30" y1="522.40" x2="373.30" y2="527.52" stroke="#222" stroke-width="0.6"/>
<line x1="372.30" y1="522.40" x2="374.30" y2="522.40" stroke="#222" stroke-width="0.6"/>
<line x1="371.80" y1="524.96" x2="374.80" y2="524.96" stroke="#222" stroke-width="0.6"/>
<circle cx="372.60" cy="521.84" r="0.85" fill="#111" stroke="none" stroke-width="0.5"/>
<circle cx="373.30" cy="525.47" r="0.85" fill="#111" stroke="none" stroke-width="0.5"/>
<circle cx="374.00" cy="526.75" r="0.85" fill="#111" stroke="none" stroke-width="0.5"/>
<line x1="377.90" y1="536.92" x2="377.90" y2="538.62" stroke="#222" stroke-width="0.6"/>
<line x1="376.90" y1="536.92" x2="378.90" y2="536.92" stroke="#222" stroke-width="0.6"/>
<line x1="376.40" y1="537.77" x2="379.40" y2="537.77" stroke="#222" stroke-width="0.6"/>
<circle cx="377.20" cy="536.28" r="0.85" fill="#111" stroke="none" stroke-width="0.5"/>
<circle cx="377.90" cy="537.94" r="0.85" fill="#111" stroke="none" stroke-width="0.5"/>
<circle cx="378.60" cy="538.37" r="0.85" fill="#111" stroke="none" stroke-width="0.5"/>
<line x1="382.50" y1="542.89" x2="382.50" y2="548.02" stroke="#222" stroke-width="0.6"/>
<line x1="381.50" y1="542.89" x2="383.50" y2="542.89" stroke="#222" stroke-width="0.6"/>
<line x1="381.00" y1="545.46" x2="384.00" y2="545.46" stroke="#222" stroke-width="0.6"/>
<circle cx="381.80" cy="542.34" r="0.85" fill="#111" stroke="none" stroke-width="0.5"/>
<circle cx="382.50" cy="545.97" r="0.85" fill="#111" stroke="none" stroke-width="0.5"/>
<circle cx="383.20" cy="547.25" r="0.85" fill="#111" stroke="none" stroke-width="0.5"/>
<line x1="387.10" y1="547.16" x2="387.10" y2="554.00" stroke="#222" stroke-width="0.6"/>
<line x1="386.10" y1="547.16" x2="388.10" y2="547.16" stroke="#222" stroke-width="0.6"/>
<line x1="385.60" y1="550.58" x2="388.60" y2="550.58" stroke="#222" stroke-width="0.6"/>
<circle cx="386.40" cy="546.65" r="0.85" fill="#111" stroke="none" stroke-width="0.5"/>
<circle cx="387.10" cy="551.26" r="0.85" fill="#111" stroke="none" stroke-width="0.5"/>
<circle cx="387.80" cy="552.97" r="0.85" fill="#111" stroke="none" stroke-width="0.5"/>
<line x1="375.60" y1="576.20" x2="375.60" y2="578.40" stroke="#222" stroke-width="0.7"/>
<rect x="394.35" y="490.80" width="4.10" height="85.40" fill="#1a6890" stroke="#6a6a6a" stroke-width="0.5"/>
<rect x="398.95" y="502.33" width="4.10" height="73.87" fill="#2a88a6" stroke="#6a6a6a" stroke-width="0.5"/>
<rect x="403.55" y="522.40" width="4.10" height="53.80" fill="#80acbd" stroke="#6a6a6a" stroke-width="0.5"/>
<rect x="408.15" y="536.06" width="4.10" height="40.14" fill="#adcad8" stroke="#6a6a6a" stroke-width="0.5"/>
<rect x="412.75" y="543.75" width="4.10" height="32.45" fill="#d8e6ec" stroke="#6a6a6a" stroke-width="0.5"/>
<rect x="417.35" y="548.87" width="4.10" height="27.33" fill="#ffffff" stroke="#6a6a6a" stroke-width="0.5"/>
<line x1="394.60" y1="490.80" x2="398.20" y2="490.80" stroke="#111" stroke-width="1.1"/>
<line x1="401.00" y1="500.62" x2="401.00" y2="504.04" stroke="#222" stroke-width="0.6"/>
<line x1="400.00" y1="500.62" x2="402.00" y2="500.62" stroke="#222" stroke-width="0.6"/>
<line x1="399.50" y1="502.33" x2="402.50" y2="502.33" stroke="#222" stroke-width="0.6"/>
<circle cx="400.30" cy="500.02" r="0.85" fill="#111" stroke="none" stroke-width="0.5"/>
<circle cx="401.00" cy="502.67" r="0.85" fill="#111" stroke="none" stroke-width="0.5"/>
<circle cx="401.70" cy="503.52" r="0.85" fill="#111" stroke="none" stroke-width="0.5"/>
<line x1="405.60" y1="520.69" x2="405.60" y2="524.11" stroke="#222" stroke-width="0.6"/>
<line x1="404.60" y1="520.69" x2="406.60" y2="520.69" stroke="#222" stroke-width="0.6"/>
<line x1="404.10" y1="522.40" x2="407.10" y2="522.40" stroke="#222" stroke-width="0.6"/>
<circle cx="404.90" cy="520.09" r="0.85" fill="#111" stroke="none" stroke-width="0.5"/>
<circle cx="405.60" cy="522.74" r="0.85" fill="#111" stroke="none" stroke-width="0.5"/>
<circle cx="406.30" cy="523.59" r="0.85" fill="#111" stroke="none" stroke-width="0.5"/>
<line x1="410.20" y1="534.35" x2="410.20" y2="537.77" stroke="#222" stroke-width="0.6"/>
<line x1="409.20" y1="534.35" x2="411.20" y2="534.35" stroke="#222" stroke-width="0.6"/>
<line x1="408.70" y1="536.06" x2="411.70" y2="536.06" stroke="#222" stroke-width="0.6"/>
<circle cx="409.50" cy="533.76" r="0.85" fill="#111" stroke="none" stroke-width="0.5"/>
<circle cx="410.20" cy="536.40" r="0.85" fill="#111" stroke="none" stroke-width="0.5"/>
<circle cx="410.90" cy="537.26" r="0.85" fill="#111" stroke="none" stroke-width="0.5"/>
<line x1="414.80" y1="542.04" x2="414.80" y2="545.46" stroke="#222" stroke-width="0.6"/>
<line x1="413.80" y1="542.04" x2="415.80" y2="542.04" stroke="#222" stroke-width="0.6"/>
<line x1="413.30" y1="543.75" x2="416.30" y2="543.75" stroke="#222" stroke-width="0.6"/>
<circle cx="414.10" cy="541.44" r="0.85" fill="#111" stroke="none" stroke-width="0.5"/>
<circle cx="414.80" cy="544.09" r="0.85" fill="#111" stroke="none" stroke-width="0.5"/>
<circle cx="415.50" cy="544.94" r="0.85" fill="#111" stroke="none" stroke-width="0.5"/>
<line x1="419.40" y1="545.46" x2="419.40" y2="552.29" stroke="#222" stroke-width="0.6"/>
<line x1="418.40" y1="545.46" x2="420.40" y2="545.46" stroke="#222" stroke-width="0.6"/>
<line x1="417.90" y1="548.87" x2="420.90" y2="548.87" stroke="#222" stroke-width="0.6"/>
<circle cx="418.70" cy="544.94" r="0.85" fill="#111" stroke="none" stroke-width="0.5"/>
<circle cx="419.40" cy="549.56" r="0.85" fill="#111" stroke="none" stroke-width="0.5"/>
<circle cx="420.10" cy="551.26" r="0.85" fill="#111" stroke="none" stroke-width="0.5"/>
<line x1="407.90" y1="576.20" x2="407.90" y2="578.40" stroke="#222" stroke-width="0.7"/>
<line x1="293.70" y1="576.20" x2="424.70" y2="576.20" stroke="#222" stroke-width="0.8"/>
<text x="0" y="2.20" font-size="6.4" text-anchor="end" fill="#2a2a2a" stroke="#2a2a2a" stroke-width="0.15" transform="translate(312.80,583.30) rotate(-45)">sgNeg01</text>
<text x="0" y="2.20" font-size="6.4" text-anchor="end" fill="#2a2a2a" stroke="#2a2a2a" stroke-width="0.15" transform="translate(345.10,583.30) rotate(-45)">sgRPA3</text>
<text x="0" y="2.20" font-size="6.4" text-anchor="end" fill="#2a2a2a" stroke="#2a2a2a" stroke-width="0.15" transform="translate(377.40,583.30) rotate(-45)">sgHASPIN_119</text>
<text x="0" y="2.20" font-size="6.4" text-anchor="end" fill="#2a2a2a" stroke="#2a2a2a" stroke-width="0.15" transform="translate(409.70,583.30) rotate(-45)">sgHASPIN_11</text>
<rect x="435.40" y="497.10" width="9.20" height="4.20" fill="#1a6890" stroke="#555" stroke-width="0.5"/>
<text x="447.20" y="501.37" font-size="6.3" fill="#2a2a2a" stroke="#2a2a2a" stroke-width="0.15">d3</text>
<rect x="435.40" y="508.50" width="9.20" height="4.20" fill="#2a88a6" stroke="#555" stroke-width="0.5"/>
<text x="447.20" y="512.77" font-size="6.3" fill="#2a2a2a" stroke="#2a2a2a" stroke-width="0.15">d6</text>
<rect x="435.40" y="519.90" width="9.20" height="4.20" fill="#80acbd" stroke="#555" stroke-width="0.5"/>
<text x="447.20" y="524.17" font-size="6.3" fill="#2a2a2a" stroke="#2a2a2a" stroke-width="0.15">d9</text>
<rect x="435.40" y="531.30" width="9.20" height="4.20" fill="#adcad8" stroke="#555" stroke-width="0.5"/>
<text x="447.20" y="535.57" font-size="6.3" fill="#2a2a2a" stroke="#2a2a2a" stroke-width="0.15">d12</text>
<rect x="435.40" y="542.70" width="9.20" height="4.20" fill="#d8e6ec" stroke="#555" stroke-width="0.5"/>
<text x="447.20" y="546.97" font-size="6.3" fill="#2a2a2a" stroke="#2a2a2a" stroke-width="0.15">d15</text>
<rect x="435.40" y="554.10" width="9.20" height="4.20" fill="#ffffff" stroke="#555" stroke-width="0.5"/>
<text x="447.20" y="558.37" font-size="6.3" fill="#2a2a2a" stroke="#2a2a2a" stroke-width="0.15">d18</text>
<rect x="0.00" y="0.00" width="520.00" height="1.00" fill="#4a4a4a" stroke="none" stroke-width="0.6"/>
<rect x="0.00" y="0.00" width="1.10" height="623.00" fill="#4a4a4a" stroke="none" stroke-width="0.6"/>
<rect x="518.60" y="0.00" width="1.40" height="623.00" fill="#4a4a4a" stroke="none" stroke-width="0.6"/>
<rect x="0.00" y="621.60" width="520.00" height="1.40" fill="#4a4a4a" stroke="none" stroke-width="0.6"/>
</svg>
</body></html>
